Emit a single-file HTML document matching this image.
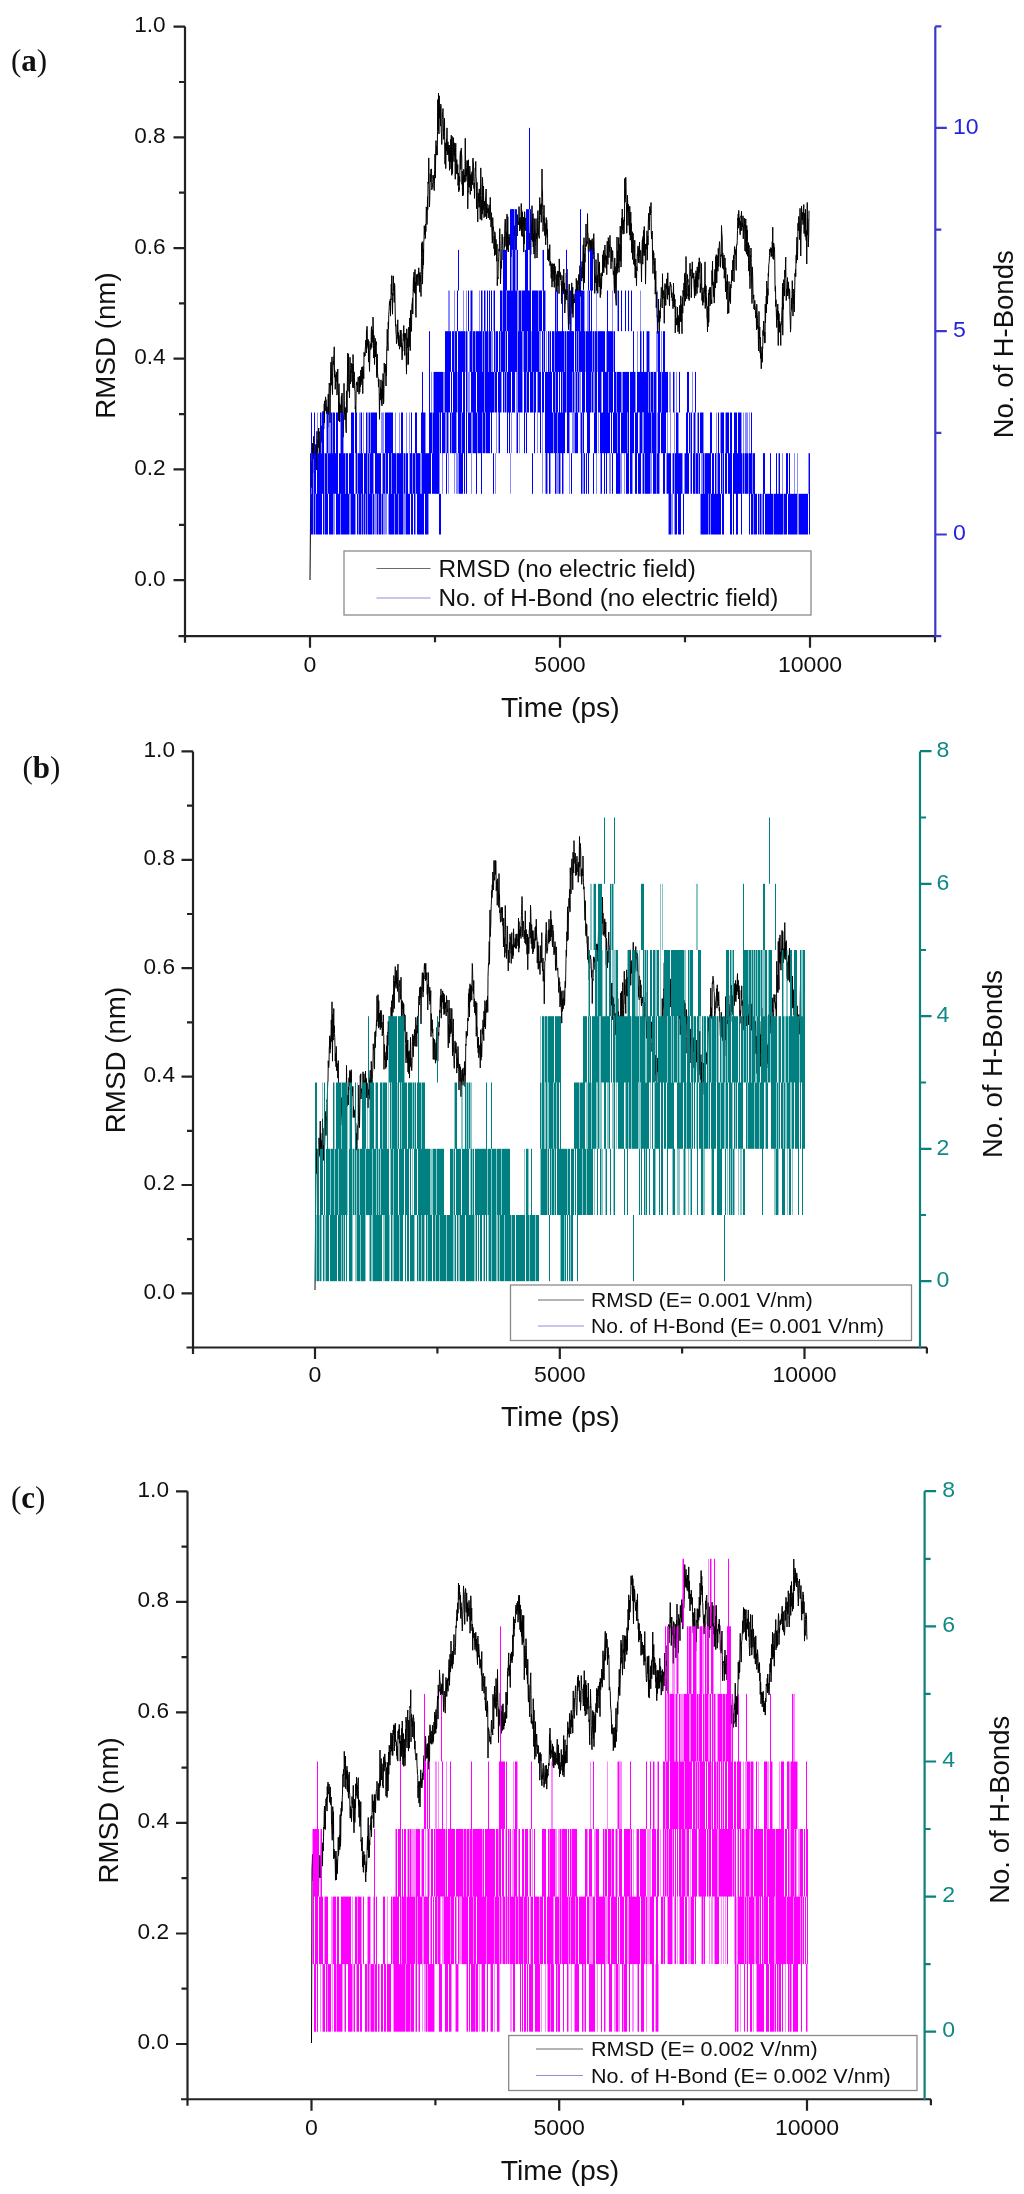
<!DOCTYPE html><html><head><meta charset="utf-8"><style>html,body{margin:0;padding:0;background:#fff;}svg{display:block;filter:blur(0.35px)}</style></head><body>
<svg width="1024" height="2194" viewBox="0 0 1024 2194">
<rect width="1024" height="2194" fill="#fff"/>
<path d="M310 580L311.00 462.6L311.25 472.0L311.50 487.5L311.75 458.1L312.00 448.0L312.25 453.5L312.50 451.2L312.75 443.2L313.00 447.4L313.25 458.8L313.50 442.7L313.75 436.3L314.00 451.1L314.25 472.9L314.50 463.8L314.75 448.5L315.00 445.0L315.25 454.1L315.50 469.0L315.75 455.9L316.00 444.2L316.25 457.1L316.50 470.0L316.75 443.0L317.00 431.3L317.25 452.9L317.50 447.4L317.75 439.8L318.00 442.9L318.25 447.7L318.50 429.0L318.75 428.0L319.00 444.2L319.25 456.5L319.50 449.9L319.75 431.7L320.00 433.3L320.25 431.7L320.50 444.0L320.75 437.4L321.00 430.1L321.25 425.9L321.50 440.0L321.75 437.5L322.00 442.4L322.25 437.6L322.50 444.9L322.75 425.5L323.00 411.5L323.25 411.2L323.50 425.6L323.75 429.1L324.00 423.1L324.25 403.7L324.50 422.9L324.75 400.8L325.00 408.0L325.25 410.8L325.50 396.8L325.75 399.1L326.00 400.2L326.25 400.0L326.50 413.7L326.75 413.5L327.00 406.7L327.25 409.9L327.50 414.3L327.75 427.1L328.00 403.3L328.25 394.2L328.50 407.9L328.75 414.6L329.00 391.1L329.25 383.0L329.50 385.9L329.75 386.3L330.00 422.8L330.25 398.7L330.50 381.7L330.75 367.1L331.00 362.1L331.25 377.3L331.50 385.2L331.75 368.6L332.00 356.9L332.25 387.7L332.50 394.6L332.75 372.4L333.00 367.7L333.25 361.0L333.50 364.6L333.75 355.7L334.00 355.6L334.25 346.8L334.50 377.3L334.75 370.4L335.00 372.9L335.25 389.3L335.50 381.3L335.75 374.6L336.00 382.1L336.25 378.8L336.50 374.9L336.75 371.9L337.00 395.1L337.25 385.1L337.50 381.1L337.75 369.0L338.00 389.7L338.25 391.6L338.50 393.9L338.75 420.5L339.00 383.7L339.25 421.2L339.50 402.9L339.75 422.0L340.00 410.3L340.25 404.7L340.50 405.1L340.75 408.7L341.00 413.1L341.25 398.4L341.50 395.8L341.75 416.4L342.00 393.0L342.25 408.6L342.50 422.3L342.75 414.7L343.00 437.4L343.25 436.5L343.50 421.8L343.75 414.8L344.00 383.4L344.25 400.7L344.50 411.9L344.75 415.9L345.00 419.9L345.25 407.5L345.50 412.5L345.75 421.5L346.00 430.4L346.25 432.8L346.50 390.9L346.75 391.1L347.00 412.6L347.25 388.1L347.50 372.0L347.75 353.0L348.00 390.7L348.25 371.7L348.50 354.3L348.75 369.7L349.00 391.4L349.25 390.6L349.50 398.0L349.75 373.8L350.00 357.3L350.25 367.5L350.50 383.8L350.75 370.8L351.00 381.8L351.25 363.2L351.50 363.9L351.75 368.3L352.00 372.8L352.25 364.1L352.50 382.1L352.75 387.7L353.00 354.5L353.25 362.4L353.50 366.7L353.75 387.9L354.00 371.9L354.25 372.0L354.50 377.5L354.75 389.6L355.00 391.4L355.25 409.1L355.50 405.7L355.75 418.7L356.00 400.4L356.25 386.5L356.50 382.5L356.75 384.7L357.00 381.8L357.25 382.7L357.50 383.6L357.75 392.1L358.00 377.7L358.25 376.9L358.50 379.0L358.75 380.7L359.00 394.2L359.25 379.1L359.50 376.1L359.75 392.2L360.00 380.8L360.25 377.2L360.50 386.6L360.75 370.2L361.00 384.8L361.25 381.2L361.50 381.7L361.75 367.1L362.00 374.6L362.25 377.9L362.50 367.1L362.75 393.6L363.00 366.4L363.25 370.3L363.50 370.2L363.75 378.7L364.00 352.3L364.25 352.8L364.50 356.5L364.75 353.1L365.00 356.0L365.25 348.7L365.50 345.7L365.75 340.2L366.00 342.2L366.25 353.0L366.50 329.8L366.75 349.0L367.00 326.3L367.25 338.3L367.50 344.8L367.75 339.5L368.00 347.1L368.25 339.6L368.50 362.1L368.75 341.9L369.00 341.5L369.25 360.6L369.50 371.4L369.75 358.8L370.00 346.1L370.25 345.2L370.50 343.6L370.75 349.6L371.00 346.6L371.25 330.7L371.50 326.6L371.75 347.6L372.00 338.0L372.25 342.4L372.50 329.9L372.75 338.5L373.00 317.1L373.25 324.8L373.50 339.4L373.75 358.0L374.00 335.4L374.25 343.7L374.50 364.5L374.75 348.7L375.00 348.5L375.25 338.4L375.50 356.9L375.75 341.9L376.00 344.9L376.25 341.6L376.50 370.3L376.75 377.6L377.00 376.9L377.25 354.1L377.50 372.1L377.75 376.3L378.00 378.0L378.25 378.1L378.50 387.1L378.75 379.4L379.00 379.3L379.25 397.6L379.50 419.3L379.75 399.3L380.00 393.5L380.25 394.7L380.50 387.5L380.75 399.9L381.00 379.8L381.25 397.5L381.50 404.1L381.75 389.1L382.00 405.9L382.25 391.1L382.50 381.4L382.75 398.3L383.00 373.5L383.25 377.6L383.50 404.0L383.75 402.1L384.00 384.3L384.25 363.0L384.50 372.8L384.75 369.4L385.00 368.8L385.25 371.4L385.50 364.3L385.75 371.3L386.00 386.0L386.25 366.2L386.50 375.9L386.75 348.2L387.00 345.6L387.25 329.2L387.50 343.1L387.75 342.1L388.00 350.8L388.25 321.9L388.50 328.7L388.75 314.5L389.00 311.5L389.25 306.5L389.50 301.5L389.75 305.4L390.00 302.9L390.25 299.2L390.50 316.1L390.75 300.3L391.00 295.8L391.25 284.1L391.50 294.3L391.75 275.6L392.00 299.9L392.25 298.0L392.50 314.2L392.75 293.1L393.00 295.6L393.25 275.9L393.50 282.0L393.75 290.7L394.00 287.6L394.25 302.4L394.50 283.3L394.75 285.3L395.00 300.6L395.25 315.1L395.50 326.1L395.75 324.9L396.00 333.0L396.25 334.7L396.50 343.8L396.75 342.9L397.00 341.4L397.25 324.2L397.50 335.7L397.75 319.8L398.00 338.9L398.25 332.4L398.50 343.0L398.75 345.8L399.00 335.4L399.25 342.9L399.50 349.2L399.75 347.2L400.00 339.0L400.25 330.0L400.50 331.9L400.75 346.8L401.00 330.1L401.25 336.5L401.50 347.2L401.75 343.0L402.00 359.8L402.25 358.3L402.50 345.9L402.75 351.1L403.00 339.1L403.25 333.8L403.50 336.6L403.75 325.5L404.00 341.2L404.25 333.0L404.50 338.0L404.75 355.5L405.00 338.3L405.25 339.2L405.50 333.4L405.75 337.2L406.00 338.1L406.25 360.7L406.50 374.1L406.75 328.8L407.00 334.1L407.25 345.0L407.50 347.8L407.75 338.2L408.00 364.8L408.25 352.8L408.50 363.8L408.75 327.2L409.00 346.8L409.25 346.6L409.50 337.9L409.75 318.0L410.00 337.1L410.25 350.6L410.50 312.5L410.75 310.2L411.00 331.7L411.25 329.1L411.50 330.9L411.75 308.7L412.00 303.3L412.25 303.2L412.50 297.9L412.75 314.0L413.00 296.6L413.25 283.7L413.50 276.9L413.75 291.8L414.00 272.1L414.25 278.6L414.50 293.2L414.75 292.9L415.00 269.4L415.25 293.1L415.50 282.3L415.75 311.8L416.00 317.4L416.25 294.1L416.50 274.6L416.75 279.8L417.00 284.6L417.25 277.2L417.50 275.9L417.75 273.9L418.00 285.7L418.25 281.1L418.50 270.5L418.75 267.8L419.00 272.6L419.25 277.5L419.50 273.4L419.75 292.2L420.00 272.3L420.25 281.5L420.50 275.3L420.75 281.5L421.00 296.5L421.25 274.7L421.50 257.4L421.75 243.3L422.00 252.7L422.25 241.7L422.50 284.1L422.75 269.6L423.00 268.2L423.25 249.0L423.50 264.8L423.75 241.3L424.00 240.0L424.25 225.8L424.50 228.7L424.75 234.6L425.00 225.9L425.25 238.6L425.50 224.0L425.75 231.8L426.00 230.6L426.25 206.9L426.50 208.0L426.75 219.3L427.00 224.5L427.25 218.1L427.50 196.7L427.75 209.7L428.00 181.9L428.25 183.2L428.50 183.8L428.75 157.9L429.00 186.0L429.25 195.7L429.50 207.0L429.75 198.4L430.00 186.8L430.25 173.7L430.50 182.0L430.75 174.9L431.00 169.0L431.25 172.6L431.50 168.9L431.75 189.9L432.00 188.8L432.25 188.0L432.50 184.9L432.75 182.5L433.00 175.2L433.25 178.4L433.50 175.6L433.75 184.3L434.00 189.2L434.25 190.6L434.50 176.7L434.75 169.6L435.00 154.1L435.25 178.1L435.50 165.3L435.75 154.0L436.00 140.6L436.25 155.1L436.50 145.9L436.75 148.2L437.00 150.0L437.25 155.1L437.50 131.3L437.75 99.6L438.00 123.7L438.25 129.3L438.50 93.2L438.75 133.3L439.00 134.0L439.25 95.8L439.50 118.3L439.75 114.9L440.00 106.6L440.25 110.1L440.50 126.1L440.75 104.1L441.00 105.8L441.25 132.6L441.50 133.0L441.75 144.5L442.00 134.7L442.25 119.7L442.50 114.1L442.75 111.5L443.00 108.5L443.25 119.0L443.50 136.3L443.75 139.4L444.00 129.3L444.25 130.2L444.50 118.3L444.75 142.0L445.00 164.2L445.25 142.8L445.50 151.6L445.75 168.6L446.00 152.3L446.25 143.9L446.50 138.9L446.75 151.2L447.00 127.9L447.25 154.9L447.50 143.2L447.75 144.7L448.00 141.8L448.25 154.5L448.50 145.3L448.75 150.9L449.00 161.3L449.25 145.0L449.50 170.4L449.75 152.1L450.00 148.2L450.25 162.1L450.50 155.6L450.75 139.4L451.00 168.9L451.25 135.2L451.50 152.3L451.75 175.3L452.00 140.6L452.25 136.5L452.50 173.5L452.75 156.2L453.00 155.5L453.25 146.7L453.50 137.7L453.75 156.6L454.00 161.7L454.25 142.8L454.50 155.5L454.75 149.4L455.00 153.4L455.25 179.3L455.50 152.6L455.75 143.2L456.00 160.4L456.25 165.3L456.50 173.7L456.75 159.6L457.00 163.9L457.25 174.2L457.50 172.8L457.75 164.6L458.00 185.5L458.25 181.7L458.50 173.0L458.75 191.8L459.00 187.4L459.25 190.1L459.50 176.5L459.75 182.0L460.00 158.0L460.25 153.3L460.50 150.8L460.75 169.4L461.00 161.9L461.25 148.1L461.50 155.3L461.75 155.2L462.00 184.4L462.25 171.1L462.50 196.0L462.75 182.9L463.00 176.9L463.25 195.4L463.50 181.2L463.75 169.3L464.00 178.2L464.25 182.0L464.50 175.0L464.75 182.3L465.00 169.6L465.25 138.3L465.50 161.6L465.75 181.4L466.00 180.8L466.25 168.6L466.50 176.2L466.75 167.6L467.00 160.5L467.25 172.4L467.50 160.8L467.75 208.8L468.00 191.3L468.25 192.3L468.50 159.8L468.75 186.3L469.00 171.9L469.25 187.4L469.50 184.8L469.75 166.0L470.00 171.3L470.25 194.5L470.50 176.4L470.75 184.4L471.00 174.1L471.25 181.1L471.50 191.0L471.75 174.6L472.00 171.7L472.25 184.9L472.50 184.0L472.75 161.0L473.00 158.1L473.25 161.9L473.50 163.9L473.75 181.7L474.00 188.6L474.25 183.0L474.50 198.4L474.75 186.7L475.00 176.6L475.25 168.2L475.50 171.0L475.75 161.4L476.00 178.3L476.25 178.3L476.50 208.6L476.75 203.1L477.00 182.3L477.25 204.5L477.50 209.3L477.75 221.9L478.00 199.3L478.25 192.9L478.50 201.4L478.75 196.8L479.00 207.3L479.25 188.9L479.50 198.0L479.75 207.1L480.00 204.9L480.25 219.3L480.50 195.2L480.75 167.9L481.00 178.4L481.25 195.6L481.50 206.1L481.75 220.3L482.00 200.1L482.25 214.1L482.50 177.4L482.75 186.3L483.00 210.0L483.25 197.1L483.50 186.1L483.75 206.2L484.00 217.6L484.25 216.2L484.50 201.2L484.75 204.8L485.00 203.6L485.25 216.6L485.50 197.3L485.75 196.1L486.00 189.0L486.25 191.4L486.50 218.8L486.75 213.9L487.00 203.9L487.25 210.9L487.50 212.8L487.75 211.6L488.00 208.2L488.25 217.9L488.50 209.1L488.75 210.1L489.00 205.3L489.25 204.8L489.50 214.9L489.75 219.7L490.00 217.4L490.25 197.4L490.50 212.6L490.75 214.0L491.00 227.1L491.25 216.9L491.50 212.7L491.75 226.4L492.00 233.8L492.25 243.2L492.50 241.0L492.75 217.6L493.00 230.3L493.25 226.8L493.50 229.5L493.75 231.0L494.00 248.7L494.25 236.4L494.50 255.5L494.75 231.8L495.00 232.9L495.25 235.2L495.50 250.3L495.75 254.7L496.00 239.4L496.25 250.3L496.50 256.6L496.75 261.3L497.00 244.1L497.25 285.7L497.50 277.1L497.75 276.8L498.00 279.1L498.25 262.1L498.50 261.9L498.75 256.2L499.00 248.9L499.25 251.2L499.50 239.2L499.75 228.6L500.00 240.5L500.25 257.7L500.50 283.8L500.75 273.6L501.00 261.0L501.25 261.8L501.50 268.4L501.75 248.4L502.00 234.1L502.25 234.7L502.50 243.0L502.75 245.5L503.00 260.0L503.25 258.5L503.50 250.3L503.75 264.4L504.00 256.7L504.25 236.9L504.50 247.4L504.75 228.8L505.00 220.5L505.25 219.0L505.50 221.8L505.75 243.4L506.00 246.4L506.25 231.7L506.50 243.1L506.75 250.3L507.00 214.1L507.25 249.4L507.50 239.3L507.75 216.7L508.00 239.7L508.25 252.0L508.50 247.6L508.75 236.8L509.00 234.2L509.25 245.1L509.50 242.9L509.75 237.4L510.00 244.5L510.25 234.1L510.50 246.2L510.75 251.5L511.00 256.8L511.25 230.6L511.50 239.1L511.75 234.6L512.00 231.9L512.25 245.6L512.50 230.1L512.75 209.3L513.00 234.4L513.25 219.8L513.50 234.8L513.75 243.6L514.00 253.6L514.25 240.5L514.50 225.7L514.75 234.1L515.00 235.7L515.25 233.3L515.50 226.9L515.75 225.7L516.00 210.2L516.25 225.5L516.50 219.1L516.75 226.1L517.00 232.7L517.25 235.9L517.50 214.7L517.75 219.7L518.00 221.2L518.25 223.6L518.50 222.5L518.75 225.0L519.00 206.6L519.25 216.5L519.50 222.3L519.75 231.0L520.00 217.4L520.25 217.5L520.50 224.4L520.75 229.3L521.00 219.5L521.25 203.5L521.50 235.4L521.75 210.4L522.00 224.0L522.25 236.6L522.50 212.1L522.75 226.8L523.00 223.0L523.25 219.1L523.50 217.2L523.75 252.1L524.00 234.5L524.25 244.0L524.50 211.7L524.75 212.6L525.00 230.3L525.25 222.4L525.50 218.5L525.75 217.9L526.00 230.9L526.25 226.9L526.50 229.1L526.75 229.3L527.00 264.0L527.25 230.4L527.50 213.0L527.75 238.6L528.00 230.5L528.25 229.6L528.50 239.1L528.75 237.9L529.00 249.2L529.25 238.6L529.50 233.3L529.75 241.5L530.00 250.0L530.25 230.3L530.50 221.9L530.75 254.6L531.00 225.6L531.25 240.0L531.50 228.1L531.75 217.9L532.00 205.7L532.25 232.3L532.50 217.0L532.75 241.6L533.00 213.6L533.25 247.0L533.50 233.7L533.75 238.2L534.00 254.1L534.25 218.6L534.50 241.0L534.75 231.5L535.00 258.3L535.25 246.5L535.50 242.6L535.75 231.0L536.00 218.5L536.25 239.0L536.50 233.3L536.75 237.5L537.00 258.0L537.25 245.1L537.50 227.9L537.75 211.6L538.00 210.5L538.25 220.7L538.50 235.4L538.75 236.2L539.00 236.2L539.25 238.4L539.50 215.9L539.75 197.5L540.00 208.3L540.25 214.7L540.50 204.6L540.75 208.8L541.00 207.6L541.25 222.4L541.50 203.4L541.75 206.9L542.00 169.0L542.25 196.5L542.50 190.8L542.75 210.5L543.00 231.5L543.25 226.6L543.50 219.0L543.75 214.5L544.00 205.2L544.25 214.5L544.50 220.1L544.75 235.5L545.00 223.2L545.25 223.5L545.50 241.8L545.75 244.8L546.00 236.3L546.25 217.6L546.50 234.4L546.75 219.9L547.00 227.0L547.25 237.4L547.50 229.4L547.75 259.9L548.00 255.4L548.25 249.5L548.50 261.2L548.75 259.1L549.00 254.2L549.25 248.5L549.50 260.2L549.75 244.6L550.00 265.7L550.25 260.9L550.50 264.7L550.75 262.2L551.00 272.5L551.25 278.3L551.50 272.4L551.75 264.1L552.00 287.1L552.25 263.5L552.50 271.7L552.75 270.8L553.00 281.5L553.25 270.5L553.50 275.0L553.75 263.8L554.00 266.6L554.25 287.4L554.50 263.8L554.75 280.2L555.00 266.2L555.25 270.1L555.50 273.1L555.75 273.2L556.00 292.1L556.25 282.3L556.50 285.4L556.75 274.6L557.00 291.3L557.25 272.3L557.50 271.1L557.75 271.3L558.00 286.1L558.25 279.0L558.50 275.3L558.75 271.1L559.00 293.6L559.25 258.9L559.50 269.7L559.75 272.8L560.00 277.3L560.25 272.4L560.50 276.5L560.75 279.9L561.00 274.9L561.25 285.2L561.50 284.2L561.75 303.6L562.00 280.9L562.25 292.7L562.50 292.8L562.75 294.3L563.00 275.5L563.25 293.7L563.50 290.0L563.75 269.0L564.00 291.9L564.25 289.4L564.50 282.9L564.75 313.0L565.00 305.2L565.25 304.6L565.50 289.5L565.75 296.9L566.00 298.2L566.25 273.0L566.50 289.4L566.75 300.1L567.00 269.1L567.25 288.5L567.50 293.4L567.75 295.5L568.00 309.2L568.25 319.0L568.50 329.7L568.75 308.1L569.00 289.6L569.25 284.0L569.50 316.5L569.75 305.2L570.00 324.1L570.25 305.5L570.50 304.5L570.75 332.4L571.00 320.1L571.25 299.4L571.50 306.4L571.75 282.9L572.00 309.5L572.25 313.7L572.50 291.0L572.75 287.2L573.00 317.5L573.25 305.6L573.50 304.2L573.75 295.4L574.00 294.1L574.25 302.9L574.50 299.2L574.75 300.9L575.00 302.3L575.25 294.0L575.50 289.6L575.75 307.0L576.00 305.7L576.25 278.4L576.50 284.4L576.75 301.8L577.00 282.4L577.25 280.6L577.50 290.2L577.75 289.9L578.00 313.1L578.25 285.6L578.50 281.5L578.75 274.5L579.00 277.5L579.25 294.5L579.50 280.4L579.75 267.7L580.00 265.5L580.25 296.4L580.50 290.6L580.75 272.1L581.00 267.3L581.25 272.4L581.50 279.7L581.75 281.1L582.00 261.5L582.25 276.5L582.50 278.1L582.75 263.5L583.00 257.5L583.25 244.8L583.50 289.6L583.75 253.1L584.00 237.7L584.25 266.9L584.50 282.7L584.75 253.6L585.00 262.2L585.25 253.0L585.50 247.5L585.75 243.4L586.00 224.0L586.25 246.3L586.50 244.0L586.75 241.2L587.00 244.1L587.25 243.2L587.50 213.7L587.75 234.0L588.00 233.7L588.25 249.5L588.50 253.8L588.75 247.0L589.00 237.9L589.25 238.3L589.50 244.3L589.75 240.3L590.00 251.6L590.25 244.2L590.50 253.2L590.75 239.9L591.00 254.2L591.25 240.8L591.50 247.0L591.75 263.8L592.00 240.6L592.25 238.6L592.50 270.5L592.75 254.7L593.00 258.9L593.25 241.2L593.50 254.3L593.75 233.7L594.00 246.1L594.25 251.5L594.50 277.0L594.75 293.4L595.00 277.5L595.25 282.9L595.50 275.7L595.75 273.4L596.00 259.6L596.25 271.7L596.50 280.8L596.75 290.7L597.00 282.1L597.25 278.4L597.50 275.0L597.75 293.3L598.00 253.2L598.25 262.3L598.50 268.0L598.75 282.6L599.00 281.8L599.25 287.0L599.50 261.9L599.75 287.0L600.00 278.3L600.25 297.6L600.50 282.9L600.75 294.4L601.00 273.4L601.25 287.8L601.50 288.6L601.75 276.9L602.00 272.4L602.25 272.4L602.50 275.9L602.75 254.9L603.00 270.7L603.25 253.5L603.50 250.5L603.75 272.8L604.00 260.9L604.25 256.0L604.50 267.1L604.75 246.3L605.00 245.0L605.25 259.9L605.50 254.8L605.75 261.8L606.00 268.2L606.25 257.7L606.50 255.9L606.75 274.7L607.00 249.0L607.25 241.2L607.50 253.2L607.75 263.4L608.00 264.4L608.25 237.6L608.50 239.7L608.75 248.7L609.00 257.7L609.25 245.1L609.50 251.6L609.75 239.9L610.00 235.3L610.25 245.2L610.50 246.6L610.75 248.8L611.00 268.8L611.25 249.4L611.50 247.5L611.75 260.9L612.00 261.5L612.25 258.6L612.50 250.5L612.75 251.2L613.00 265.9L613.25 274.2L613.50 275.0L613.75 270.9L614.00 279.7L614.25 289.5L614.50 293.2L614.75 257.9L615.00 287.5L615.25 266.7L615.50 280.8L615.75 299.3L616.00 300.9L616.25 305.4L616.50 263.7L616.75 274.4L617.00 237.0L617.25 268.4L617.50 272.7L617.75 250.9L618.00 256.6L618.25 267.8L618.50 244.0L618.75 237.5L619.00 272.3L619.25 261.4L619.50 261.1L619.75 244.1L620.00 251.6L620.25 226.1L620.50 261.4L620.75 246.0L621.00 267.1L621.25 260.1L621.50 233.2L621.75 218.0L622.00 228.1L622.25 209.0L622.50 229.6L622.75 221.2L623.00 234.2L623.25 219.8L623.50 225.1L623.75 222.3L624.00 233.8L624.25 217.1L624.50 221.5L624.75 178.5L625.00 202.2L625.25 191.1L625.50 197.8L625.75 177.2L626.00 187.5L626.25 202.7L626.50 204.1L626.75 233.2L627.00 205.4L627.25 211.6L627.50 195.2L627.75 206.8L628.00 225.4L628.25 215.2L628.50 204.4L628.75 209.1L629.00 217.3L629.25 224.3L629.50 235.0L629.75 206.2L630.00 225.4L630.25 240.2L630.50 237.6L630.75 212.0L631.00 231.8L631.25 223.4L631.50 243.4L631.75 252.7L632.00 235.1L632.25 231.7L632.50 259.4L632.75 237.3L633.00 233.2L633.25 236.1L633.50 243.8L633.75 264.3L634.00 259.1L634.25 258.4L634.50 265.5L634.75 240.2L635.00 275.6L635.25 278.0L635.50 270.0L635.75 259.0L636.00 277.7L636.25 273.5L636.50 285.8L636.75 266.6L637.00 270.9L637.25 254.3L637.50 255.4L637.75 251.0L638.00 245.9L638.25 259.0L638.50 262.6L638.75 248.9L639.00 247.5L639.25 256.2L639.50 242.1L639.75 258.8L640.00 263.4L640.25 253.9L640.50 250.8L640.75 250.3L641.00 261.1L641.25 265.6L641.50 282.0L641.75 259.1L642.00 251.5L642.25 240.6L642.50 239.4L642.75 264.2L643.00 236.5L643.25 252.6L643.50 230.5L643.75 248.0L644.00 255.8L644.25 226.5L644.50 241.2L644.75 255.2L645.00 253.4L645.25 244.0L645.50 284.1L645.75 271.7L646.00 245.3L646.25 249.2L646.50 243.0L646.75 247.0L647.00 230.8L647.25 260.3L647.50 251.1L647.75 235.9L648.00 245.0L648.25 224.7L648.50 216.9L648.75 213.2L649.00 227.5L649.25 230.0L649.50 222.5L649.75 206.5L650.00 208.3L650.25 214.8L650.50 209.1L650.75 212.8L651.00 202.5L651.25 230.9L651.50 237.7L651.75 239.1L652.00 232.6L652.25 231.1L652.50 256.0L652.75 260.5L653.00 273.6L653.25 250.5L653.50 260.1L653.75 252.7L654.00 263.5L654.25 265.0L654.50 261.8L654.75 279.4L655.00 258.2L655.25 294.2L655.50 282.7L655.75 270.9L656.00 285.3L656.25 307.7L656.50 300.9L656.75 292.1L657.00 316.9L657.25 318.2L657.50 333.4L657.75 315.4L658.00 318.5L658.25 322.2L658.50 299.0L658.75 314.6L659.00 316.5L659.25 333.5L659.50 310.7L659.75 321.6L660.00 311.5L660.25 318.2L660.50 307.4L660.75 298.4L661.00 297.8L661.25 287.4L661.50 288.6L661.75 291.0L662.00 306.5L662.25 308.0L662.50 273.7L662.75 296.3L663.00 298.6L663.25 290.4L663.50 294.3L663.75 295.6L664.00 300.9L664.25 323.3L664.50 299.8L664.75 288.9L665.00 283.5L665.25 300.6L665.50 294.7L665.75 305.4L666.00 284.8L666.25 288.5L666.50 287.6L666.75 278.8L667.00 294.6L667.25 297.4L667.50 299.3L667.75 272.8L668.00 291.4L668.25 288.2L668.50 294.8L668.75 294.0L669.00 286.1L669.25 299.6L669.50 305.9L669.75 291.3L670.00 287.6L670.25 282.1L670.50 286.2L670.75 284.5L671.00 284.5L671.25 288.3L671.50 295.2L671.75 297.5L672.00 292.6L672.25 300.8L672.50 299.1L672.75 297.8L673.00 308.7L673.25 295.8L673.50 283.0L673.75 303.6L674.00 306.8L674.25 294.5L674.50 307.0L674.75 304.1L675.00 299.1L675.25 332.9L675.50 318.3L675.75 306.3L676.00 322.8L676.25 321.0L676.50 325.1L676.75 318.1L677.00 320.6L677.25 325.0L677.50 307.1L677.75 323.1L678.00 331.8L678.25 315.5L678.50 321.6L678.75 327.2L679.00 317.6L679.25 333.9L679.50 316.8L679.75 305.4L680.00 313.3L680.25 309.0L680.50 321.6L680.75 295.8L681.00 315.6L681.25 321.8L681.50 304.7L681.75 317.6L682.00 333.7L682.25 297.6L682.50 297.5L682.75 313.2L683.00 290.3L683.25 292.7L683.50 294.7L683.75 296.5L684.00 283.0L684.25 305.7L684.50 274.1L684.75 273.7L685.00 273.8L685.25 272.8L685.50 301.2L685.75 291.1L686.00 256.5L686.25 279.2L686.50 298.6L686.75 293.7L687.00 296.1L687.25 285.8L687.50 274.5L687.75 282.1L688.00 279.3L688.25 299.1L688.50 286.9L688.75 285.1L689.00 300.3L689.25 300.6L689.50 292.2L689.75 280.1L690.00 263.2L690.25 276.0L690.50 275.7L690.75 273.3L691.00 269.0L691.25 297.7L691.50 290.3L691.75 276.1L692.00 278.4L692.25 261.8L692.50 271.2L692.75 277.3L693.00 274.7L693.25 274.8L693.50 278.3L693.75 272.9L694.00 286.0L694.25 290.7L694.50 298.1L694.75 279.4L695.00 290.3L695.25 276.6L695.50 278.3L695.75 295.6L696.00 270.7L696.25 287.1L696.50 281.2L696.75 273.3L697.00 293.6L697.25 266.9L697.50 281.5L697.75 286.2L698.00 287.4L698.25 267.8L698.50 262.5L698.75 279.4L699.00 273.9L699.25 257.8L699.50 272.5L699.75 269.7L700.00 261.6L700.25 292.7L700.50 285.7L700.75 283.8L701.00 289.3L701.25 279.2L701.50 263.5L701.75 288.1L702.00 300.6L702.25 293.6L702.50 292.0L702.75 305.3L703.00 287.8L703.25 294.8L703.50 299.9L703.75 302.4L704.00 298.1L704.25 294.5L704.50 286.2L704.75 292.1L705.00 261.9L705.25 308.5L705.50 284.3L705.75 302.2L706.00 285.8L706.25 305.6L706.50 297.4L706.75 305.5L707.00 318.6L707.25 318.6L707.50 331.8L707.75 306.4L708.00 326.8L708.25 317.6L708.50 293.0L708.75 322.3L709.00 290.0L709.25 289.6L709.50 294.7L709.75 287.4L710.00 305.8L710.25 304.3L710.50 287.3L710.75 297.0L711.00 301.7L711.25 303.7L711.50 299.8L711.75 303.7L712.00 270.5L712.25 285.3L712.50 261.1L712.75 277.7L713.00 283.1L713.25 286.5L713.50 296.6L713.75 282.2L714.00 298.4L714.25 303.1L714.50 299.6L714.75 273.0L715.00 269.2L715.25 288.1L715.50 285.8L715.75 256.6L716.00 278.8L716.25 254.6L716.50 263.7L716.75 283.1L717.00 266.3L717.25 255.5L717.50 261.7L717.75 271.2L718.00 271.3L718.25 248.4L718.50 254.6L718.75 266.5L719.00 249.6L719.25 245.4L719.50 241.6L719.75 244.8L720.00 254.4L720.25 257.7L720.50 267.3L720.75 259.8L721.00 254.3L721.25 256.5L721.50 225.5L721.75 232.6L722.00 234.9L722.25 239.1L722.50 268.2L722.75 252.9L723.00 262.5L723.25 265.6L723.50 269.3L723.75 259.7L724.00 255.0L724.25 278.3L724.50 273.9L724.75 269.4L725.00 258.0L725.25 274.8L725.50 291.9L725.75 267.7L726.00 282.7L726.25 281.8L726.50 299.2L726.75 295.1L727.00 281.2L727.25 289.5L727.50 274.7L727.75 313.9L728.00 309.5L728.25 303.3L728.50 301.3L728.75 313.0L729.00 281.5L729.25 301.5L729.50 291.7L729.75 295.0L730.00 300.1L730.25 286.9L730.50 303.6L730.75 284.4L731.00 288.0L731.25 281.7L731.50 282.6L731.75 270.1L732.00 272.0L732.25 277.5L732.50 280.7L732.75 260.3L733.00 264.2L733.25 270.6L733.50 255.4L733.75 257.9L734.00 281.9L734.25 259.6L734.50 246.5L734.75 246.6L735.00 252.1L735.25 254.6L735.50 254.7L735.75 249.5L736.00 268.2L736.25 270.4L736.50 245.1L736.75 244.7L737.00 245.1L737.25 240.6L737.50 230.7L737.75 218.2L738.00 220.3L738.25 213.9L738.50 228.1L738.75 210.4L739.00 225.1L739.25 219.8L739.50 217.7L739.75 227.9L740.00 233.8L740.25 234.8L740.50 221.4L740.75 230.8L741.00 215.8L741.25 218.0L741.50 211.3L741.75 230.5L742.00 225.7L742.25 222.8L742.50 227.0L742.75 222.9L743.00 215.8L743.25 238.8L743.50 228.2L743.75 225.5L744.00 225.4L744.25 218.0L744.50 223.4L744.75 235.7L745.00 250.9L745.25 233.0L745.50 227.2L745.75 218.9L746.00 252.1L746.25 230.7L746.50 254.2L746.75 225.4L747.00 240.1L747.25 229.9L747.50 248.9L747.75 256.2L748.00 249.5L748.25 256.4L748.50 242.7L748.75 271.1L749.00 245.2L749.25 249.8L749.50 276.5L749.75 277.2L750.00 288.7L750.25 277.9L750.50 255.1L750.75 257.0L751.00 248.0L751.25 262.3L751.50 278.2L751.75 288.5L752.00 303.5L752.25 266.9L752.50 270.1L752.75 279.2L753.00 293.5L753.25 298.7L753.50 297.1L753.75 294.9L754.00 309.0L754.25 304.7L754.50 309.7L754.75 300.3L755.00 305.5L755.25 306.5L755.50 314.5L755.75 317.9L756.00 311.8L756.25 311.6L756.50 329.9L756.75 304.2L757.00 312.5L757.25 314.4L757.50 320.9L757.75 328.6L758.00 325.0L758.25 330.7L758.50 350.9L758.75 334.1L759.00 311.4L759.25 337.3L759.50 338.6L759.75 327.0L760.00 352.6L760.25 337.3L760.50 358.4L760.75 351.4L761.00 354.8L761.25 368.8L761.50 353.6L761.75 358.5L762.00 346.7L762.25 362.3L762.50 349.0L762.75 348.4L763.00 330.4L763.25 335.7L763.50 324.0L763.75 321.0L764.00 322.8L764.25 337.3L764.50 343.1L764.75 332.1L765.00 342.9L765.25 304.1L765.50 322.6L765.75 307.7L766.00 308.7L766.25 296.1L766.50 312.8L766.75 281.0L767.00 285.8L767.25 303.4L767.50 304.1L767.75 288.6L768.00 295.4L768.25 273.3L768.50 276.5L768.75 264.8L769.00 263.4L769.25 261.4L769.50 255.6L769.75 249.1L770.00 252.2L770.25 252.0L770.50 251.9L770.75 247.5L771.00 256.6L771.25 256.7L771.50 248.3L771.75 249.1L772.00 255.9L772.25 241.6L772.50 247.5L772.75 227.2L773.00 258.6L773.25 243.3L773.50 259.4L773.75 243.4L774.00 246.4L774.25 249.5L774.50 247.6L774.75 260.1L775.00 283.9L775.25 291.3L775.50 286.2L775.75 306.6L776.00 299.7L776.25 310.7L776.50 318.4L776.75 327.5L777.00 309.6L777.25 320.0L777.50 319.6L777.75 304.0L778.00 319.1L778.25 345.5L778.50 311.0L778.75 331.4L779.00 313.4L779.25 332.4L779.50 329.5L779.75 321.4L780.00 327.4L780.25 323.8L780.50 333.7L780.75 345.4L781.00 326.1L781.25 325.4L781.50 320.7L781.75 317.0L782.00 307.9L782.25 306.9L782.50 283.3L782.75 335.2L783.00 303.6L783.25 309.4L783.50 286.4L783.75 279.6L784.00 283.4L784.25 294.1L784.50 296.1L784.75 270.1L785.00 275.0L785.25 277.4L785.50 263.8L785.75 257.1L786.00 289.8L786.25 300.5L786.50 288.9L786.75 296.0L787.00 290.2L787.25 281.7L787.50 277.5L787.75 296.0L788.00 288.4L788.25 292.5L788.50 281.9L788.75 293.0L789.00 296.0L789.25 299.0L789.50 288.8L789.75 290.9L790.00 315.2L790.25 320.9L790.50 332.1L790.75 327.9L791.00 311.9L791.25 311.7L791.50 298.2L791.75 309.4L792.00 294.5L792.25 280.7L792.50 287.6L792.75 304.1L793.00 316.1L793.25 294.9L793.50 303.7L793.75 289.0L794.00 303.4L794.25 311.9L794.50 300.5L794.75 286.9L795.00 273.4L795.25 276.4L795.50 269.3L795.75 276.6L796.00 257.2L796.25 254.8L796.50 263.1L796.75 241.1L797.00 237.1L797.25 247.6L797.50 259.9L797.75 244.7L798.00 223.2L798.25 230.9L798.50 220.6L798.75 216.4L799.00 218.0L799.25 223.0L799.50 239.6L799.75 231.0L800.00 208.4L800.25 218.1L800.50 234.8L800.75 256.0L801.00 236.5L801.25 229.9L801.50 206.2L801.75 209.9L802.00 213.6L802.25 220.1L802.50 214.9L802.75 212.3L803.00 224.6L803.25 216.7L803.50 216.5L803.75 204.6L804.00 233.6L804.25 233.4L804.50 213.2L804.75 219.9L805.00 230.5L805.25 236.6L805.50 209.3L805.75 228.6L806.00 238.8L806.25 240.6L806.50 230.7L806.75 264.0L807.00 230.9L807.25 202.5L807.50 234.9L807.75 218.9L808.00 228.6L808.25 247.0L808.50 242.4L808.75 232.4L809.00 210.7" stroke="#000" stroke-width="1.0" fill="none" stroke-linejoin="bevel"/>
<path d="M310.5 534.5V493.8M311.5 493.8V453.2M313.5 534.5V453.2M315.5 534.5V493.8M317.5 453.2V412.5M321.5 453.2V412.5M324.5 534.5V453.2M326.5 453.2V412.5M327.5 493.8V453.2M328.5 453.2V412.5M329.5 453.2V412.5M330.5 453.2V412.5M332.5 453.2V412.5M333.5 534.5V493.8M334.5 534.5V493.8M340.5 534.5V493.8M340.5 453.2V412.5M343.5 453.2V412.5M345.5 493.8V453.2M349.5 534.5V493.8M350.5 534.5V493.8M355.5 534.5V453.2M357.5 493.8V453.2M358.5 534.5V493.8M359.5 453.2V412.5M360.5 453.2V412.5M361.5 534.5V493.8M363.5 534.5V493.8M363.5 453.2V412.5M365.5 534.5V493.8M367.5 534.5V412.5M368.5 453.2V412.5M369.5 493.8V453.2M370.5 453.2V412.5M372.5 534.5V493.8M373.5 493.8V453.2M374.5 534.5V493.8M375.5 534.5V493.8M376.5 534.5V493.8M378.5 534.5V493.8M381.5 534.5V493.8M381.5 453.2V412.5M382.5 493.8V412.5M383.5 534.5V493.8M383.5 453.2V412.5M384.5 534.5V493.8M385.5 534.5V453.2M386.5 534.5V493.8M388.5 534.5V493.8M391.5 493.8V453.2M394.5 534.5V493.8M395.5 453.2V412.5M396.5 493.8V453.2M398.5 534.5V493.8M399.5 453.2V412.5M403.5 534.5V453.2M404.5 534.5V493.8M405.5 534.5V453.2M406.5 453.2V412.5M409.5 493.8V412.5M412.5 493.8V453.2M415.5 534.5V453.2M420.5 493.8V453.2M421.5 493.8V453.2M425.5 453.2V412.5M428.5 534.5V493.8M431.5 412.5V371.9M432.5 453.2V412.5M433.5 412.5V371.9M439.5 493.8V412.5M442.5 493.8V453.2M443.5 412.5V371.9M444.5 412.5V371.9M445.5 453.2V412.5M446.5 453.2V412.5M448.5 493.8V412.5M448.5 331.2V290.5M449.5 331.2V290.5M451.5 453.2V412.5M454.5 493.8V453.2M454.5 371.9V290.5M456.5 493.8V412.5M457.5 493.8V453.2M457.5 412.5V371.9M458.5 493.8V453.2M461.5 453.2V412.5M463.5 331.2V290.5M465.5 371.9V331.2M466.5 331.2V290.5M467.5 412.5V331.2M468.5 412.5V371.9M469.5 412.5V331.2M470.5 331.2V290.5M471.5 493.8V412.5M472.5 453.2V412.5M472.5 371.9V290.5M475.5 371.9V331.2M477.5 453.2V412.5M479.5 331.2V290.5M482.5 453.2V412.5M482.5 371.9V290.5M484.5 412.5V331.2M485.5 453.2V412.5M485.5 331.2V290.5M488.5 371.9V331.2M491.5 371.9V331.2M492.5 371.9V331.2M493.5 331.2V290.5M494.5 412.5V371.9M495.5 493.8V453.2M495.5 371.9V331.2M496.5 453.2V412.5M498.5 453.2V412.5M500.5 371.9V331.2M501.5 412.5V371.9M502.5 331.2V290.5M504.5 412.5V371.9M505.5 371.9V331.2M506.5 412.5V371.9M506.5 331.2V290.5M510.5 493.8V453.2M511.5 453.2V412.5M511.5 290.5V249.9M512.5 290.5V249.9M514.5 249.9V209.2M515.5 290.5V249.9M516.5 453.2V371.9M516.5 290.5V249.9M517.5 412.5V290.5M518.5 331.2V290.5M519.5 453.2V412.5M521.5 331.2V290.5M522.5 412.5V331.2M523.5 371.9V331.2M526.5 412.5V371.9M527.5 371.9V331.2M529.5 290.5V209.2M531.5 371.9V331.2M533.5 412.5V371.9M537.5 453.2V371.9M538.5 331.2V290.5M539.5 371.9V331.2M540.5 371.9V331.2M542.5 493.8V412.5M542.5 290.5V249.9M543.5 371.9V331.2M545.5 493.8V453.2M545.5 331.2V290.5M546.5 371.9V331.2M547.5 493.8V453.2M549.5 371.9V331.2M550.5 493.8V453.2M553.5 453.2V412.5M554.5 371.9V331.2M555.5 412.5V371.9M556.5 493.8V453.2M556.5 331.2V290.5M557.5 493.8V412.5M558.5 493.8V453.2M560.5 493.8V453.2M562.5 412.5V371.9M563.5 493.8V453.2M564.5 371.9V331.2M566.5 412.5V331.2M569.5 493.8V412.5M569.5 331.2V290.5M572.5 453.2V371.9M573.5 453.2V412.5M574.5 453.2V371.9M575.5 412.5V371.9M576.5 371.9V331.2M577.5 412.5V371.9M578.5 371.9V331.2M579.5 412.5V371.9M580.5 453.2V371.9M580.5 331.2V290.5M582.5 493.8V412.5M583.5 493.8V453.2M584.5 331.2V290.5M585.5 371.9V331.2M587.5 331.2V290.5M588.5 331.2V290.5M591.5 412.5V371.9M592.5 371.9V331.2M593.5 412.5V371.9M594.5 412.5V331.2M596.5 493.8V453.2M596.5 331.2V290.5M597.5 371.9V331.2M598.5 453.2V412.5M600.5 493.8V453.2M601.5 412.5V371.9M606.5 371.9V331.2M608.5 412.5V371.9M609.5 493.8V453.2M610.5 493.8V453.2M612.5 331.2V290.5M613.5 371.9V331.2M616.5 412.5V371.9M617.5 453.2V412.5M617.5 331.2V290.5M620.5 493.8V453.2M621.5 493.8V453.2M621.5 412.5V371.9M622.5 412.5V371.9M624.5 493.8V453.2M627.5 453.2V412.5M632.5 493.8V453.2M635.5 412.5V371.9M637.5 371.9V331.2M639.5 453.2V412.5M640.5 331.2V290.5M641.5 371.9V331.2M642.5 493.8V412.5M643.5 453.2V412.5M644.5 493.8V453.2M646.5 371.9V331.2M648.5 412.5V371.9M649.5 371.9V331.2M650.5 493.8V453.2M650.5 412.5V371.9M651.5 493.8V412.5M653.5 412.5V371.9M656.5 493.8V331.2M657.5 453.2V412.5M657.5 371.9V290.5M659.5 493.8V453.2M661.5 412.5V331.2M666.5 493.8V453.2M667.5 453.2V412.5M668.5 534.5V493.8M669.5 412.5V371.9M670.5 453.2V371.9M671.5 534.5V493.8M672.5 534.5V453.2M674.5 534.5V371.9M676.5 412.5V371.9M678.5 453.2V412.5M682.5 493.8V453.2M684.5 493.8V453.2M690.5 493.8V412.5M692.5 412.5V371.9M693.5 453.2V412.5M695.5 493.8V412.5M697.5 453.2V412.5M698.5 493.8V453.2M700.5 534.5V493.8M701.5 493.8V453.2M702.5 493.8V453.2M703.5 453.2V412.5M704.5 493.8V453.2M708.5 534.5V493.8M710.5 534.5V493.8M716.5 493.8V412.5M717.5 493.8V453.2M720.5 453.2V412.5M722.5 493.8V453.2M725.5 453.2V412.5M741.5 453.2V412.5M742.5 493.8V453.2M743.5 453.2V412.5M744.5 493.8V453.2M745.5 453.2V412.5M746.5 453.2V412.5M747.5 453.2V412.5M748.5 493.8V453.2M749.5 453.2V412.5M752.5 493.8V453.2M753.5 534.5V493.8M759.5 534.5V493.8M761.5 534.5V493.8M762.5 534.5V493.8M773.5 534.5V493.8M778.5 493.8V453.2M782.5 493.8V453.2M783.5 534.5V493.8M794.5 493.8V453.2M797.5 534.5V453.2M798.5 534.5V493.8M808.5 493.8V453.2" stroke="#0000ff" stroke-opacity="0.45" stroke-width="1" fill="none"/><path d="M310.5 493.8V453.2M311.5 534.5V493.8M311.5 453.2V412.5M312.5 534.5V453.2M314.5 534.5V412.5M315.5 493.8V453.2M316.5 534.5V493.8M317.5 534.5V453.2M318.5 534.5V453.2M319.5 534.5V453.2M320.5 534.5V412.5M321.5 534.5V453.2M322.5 493.8V412.5M323.5 534.5V412.5M325.5 534.5V453.2M326.5 534.5V453.2M327.5 534.5V493.8M327.5 453.2V412.5M328.5 493.8V453.2M329.5 534.5V453.2M330.5 534.5V453.2M331.5 534.5V412.5M332.5 534.5V453.2M333.5 493.8V412.5M334.5 493.8V412.5M335.5 493.8V453.2M336.5 534.5V412.5M337.5 534.5V412.5M338.5 534.5V493.8M339.5 534.5V453.2M340.5 493.8V453.2M341.5 534.5V412.5M342.5 534.5V412.5M343.5 534.5V453.2M344.5 534.5V453.2M345.5 534.5V493.8M346.5 534.5V453.2M347.5 534.5V453.2M348.5 534.5V493.8M349.5 493.8V453.2M350.5 493.8V453.2M351.5 534.5V412.5M352.5 534.5V412.5M353.5 534.5V412.5M354.5 534.5V493.8M355.5 453.2V412.5M356.5 493.8V412.5M357.5 534.5V493.8M358.5 493.8V453.2M359.5 534.5V453.2M360.5 534.5V453.2M361.5 493.8V412.5M362.5 534.5V453.2M364.5 534.5V453.2M365.5 493.8V453.2M366.5 534.5V412.5M368.5 534.5V453.2M369.5 534.5V493.8M369.5 453.2V412.5M370.5 534.5V453.2M371.5 534.5V412.5M372.5 493.8V412.5M373.5 534.5V493.8M373.5 453.2V412.5M374.5 453.2V412.5M375.5 493.8V412.5M376.5 493.8V412.5M377.5 534.5V453.2M378.5 493.8V453.2M379.5 534.5V453.2M380.5 534.5V453.2M382.5 534.5V493.8M383.5 493.8V453.2M384.5 493.8V453.2M385.5 453.2V412.5M386.5 493.8V412.5M387.5 493.8V412.5M388.5 453.2V412.5M389.5 534.5V412.5M390.5 534.5V412.5M391.5 534.5V493.8M391.5 453.2V412.5M392.5 534.5V412.5M393.5 534.5V453.2M394.5 493.8V453.2M395.5 534.5V453.2M396.5 534.5V493.8M397.5 534.5V453.2M398.5 493.8V453.2M399.5 534.5V453.2M400.5 534.5V453.2M401.5 534.5V412.5M402.5 534.5V412.5M404.5 493.8V453.2M406.5 534.5V453.2M407.5 534.5V453.2M408.5 534.5V493.8M409.5 534.5V493.8M410.5 493.8V453.2M411.5 534.5V412.5M412.5 534.5V493.8M413.5 493.8V453.2M414.5 534.5V453.2M415.5 453.2V412.5M416.5 493.8V412.5M417.5 534.5V453.2M418.5 534.5V453.2M419.5 534.5V453.2M420.5 534.5V493.8M421.5 534.5V493.8M421.5 453.2V412.5M422.5 534.5V371.9M423.5 534.5V412.5M424.5 493.8V412.5M425.5 534.5V453.2M426.5 534.5V453.2M427.5 534.5V453.2M428.5 493.8V453.2M429.5 493.8V331.2M430.5 493.8V412.5M431.5 453.2V412.5M432.5 493.8V453.2M433.5 493.8V412.5M434.5 493.8V371.9M435.5 493.8V371.9M436.5 493.8V371.9M437.5 493.8V371.9M438.5 493.8V371.9M439.5 534.5V493.8M439.5 412.5V371.9M440.5 534.5V493.8M440.5 453.2V371.9M441.5 412.5V371.9M442.5 453.2V371.9M443.5 453.2V412.5M444.5 453.2V412.5M445.5 412.5V331.2M446.5 493.8V453.2M446.5 412.5V331.2M447.5 453.2V331.2M448.5 412.5V331.2M449.5 412.5V331.2M450.5 453.2V412.5M450.5 371.9V331.2M451.5 412.5V371.9M452.5 453.2V412.5M452.5 371.9V331.2M453.5 453.2V331.2M454.5 453.2V371.9M455.5 453.2V331.2M456.5 412.5V331.2M457.5 331.2V290.5M458.5 453.2V331.2M458.5 290.5V249.9M459.5 493.8V331.2M460.5 493.8V331.2M461.5 493.8V453.2M461.5 412.5V331.2M462.5 493.8V412.5M462.5 371.9V331.2M463.5 453.2V331.2M464.5 493.8V331.2M466.5 493.8V331.2M468.5 453.2V412.5M468.5 331.2V290.5M469.5 453.2V412.5M470.5 453.2V412.5M470.5 371.9V331.2M471.5 412.5V290.5M472.5 412.5V371.9M473.5 453.2V331.2M474.5 453.2V331.2M475.5 453.2V371.9M476.5 493.8V412.5M476.5 371.9V331.2M477.5 412.5V331.2M478.5 453.2V331.2M479.5 453.2V331.2M480.5 453.2V331.2M481.5 493.8V290.5M482.5 412.5V371.9M483.5 453.2V331.2M484.5 453.2V412.5M484.5 331.2V290.5M485.5 412.5V331.2M486.5 453.2V331.2M487.5 453.2V290.5M488.5 453.2V371.9M489.5 453.2V290.5M490.5 412.5V331.2M491.5 453.2V371.9M491.5 331.2V290.5M492.5 412.5V371.9M493.5 493.8V453.2M493.5 412.5V371.9M494.5 371.9V290.5M495.5 412.5V371.9M496.5 412.5V331.2M497.5 371.9V331.2M498.5 412.5V371.9M499.5 453.2V331.2M500.5 412.5V371.9M500.5 331.2V290.5M501.5 371.9V290.5M502.5 371.9V331.2M503.5 412.5V249.9M504.5 371.9V249.9M505.5 412.5V371.9M505.5 331.2V249.9M506.5 371.9V331.2M506.5 290.5V249.9M507.5 453.2V371.9M507.5 331.2V290.5M508.5 412.5V290.5M509.5 453.2V290.5M510.5 412.5V209.2M511.5 371.9V290.5M511.5 249.9V209.2M512.5 412.5V290.5M512.5 249.9V209.2M513.5 412.5V209.2M514.5 412.5V249.9M515.5 371.9V290.5M515.5 249.9V209.2M516.5 371.9V290.5M516.5 249.9V209.2M517.5 453.2V412.5M517.5 290.5V249.9M518.5 412.5V331.2M519.5 412.5V290.5M520.5 412.5V290.5M521.5 412.5V331.2M522.5 331.2V290.5M523.5 331.2V290.5M524.5 453.2V290.5M525.5 412.5V249.9M526.5 453.2V412.5M526.5 371.9V209.2M527.5 412.5V371.9M527.5 331.2V209.2M528.5 412.5V290.5M528.5 249.9V209.2M529.5 371.9V290.5M529.5 209.2V127.9M530.5 412.5V209.2M531.5 412.5V371.9M532.5 493.8V453.2M532.5 412.5V290.5M533.5 371.9V290.5M534.5 453.2V290.5M535.5 412.5V290.5M536.5 371.9V290.5M537.5 371.9V290.5M538.5 412.5V331.2M539.5 412.5V371.9M539.5 331.2V290.5M540.5 453.2V371.9M540.5 331.2V290.5M541.5 331.2V290.5M542.5 412.5V331.2M543.5 412.5V371.9M543.5 331.2V249.9M544.5 371.9V290.5M545.5 453.2V371.9M546.5 493.8V371.9M547.5 453.2V371.9M548.5 453.2V331.2M549.5 493.8V371.9M550.5 453.2V331.2M551.5 453.2V371.9M552.5 453.2V412.5M552.5 371.9V331.2M553.5 412.5V331.2M554.5 453.2V371.9M555.5 493.8V412.5M555.5 371.9V290.5M556.5 453.2V331.2M557.5 412.5V290.5M558.5 453.2V412.5M558.5 371.9V331.2M559.5 493.8V331.2M560.5 453.2V412.5M560.5 371.9V331.2M561.5 453.2V331.2M562.5 493.8V412.5M562.5 371.9V290.5M563.5 453.2V331.2M564.5 453.2V371.9M565.5 412.5V331.2M566.5 290.5V249.9M567.5 453.2V331.2M568.5 453.2V331.2M569.5 412.5V331.2M570.5 412.5V290.5M571.5 493.8V453.2M571.5 412.5V331.2M572.5 371.9V331.2M573.5 412.5V331.2M575.5 453.2V412.5M575.5 371.9V290.5M576.5 453.2V371.9M576.5 331.2V290.5M577.5 453.2V412.5M577.5 371.9V290.5M578.5 412.5V371.9M578.5 331.2V290.5M579.5 371.9V290.5M580.5 371.9V331.2M580.5 290.5V209.2M581.5 493.8V412.5M581.5 371.9V290.5M582.5 412.5V290.5M583.5 453.2V290.5M584.5 493.8V453.2M584.5 412.5V331.2M586.5 493.8V453.2M586.5 412.5V331.2M587.5 453.2V331.2M588.5 493.8V331.2M588.5 290.5V249.9M589.5 453.2V290.5M590.5 412.5V331.2M590.5 290.5V249.9M591.5 371.9V249.9M592.5 412.5V371.9M592.5 290.5V249.9M593.5 493.8V453.2M593.5 371.9V331.2M594.5 453.2V412.5M595.5 453.2V331.2M596.5 453.2V331.2M598.5 412.5V331.2M599.5 412.5V331.2M600.5 453.2V331.2M601.5 493.8V412.5M601.5 371.9V331.2M602.5 453.2V412.5M602.5 371.9V331.2M603.5 453.2V331.2M604.5 493.8V331.2M605.5 453.2V371.9M606.5 493.8V371.9M607.5 453.2V290.5M608.5 453.2V412.5M608.5 371.9V331.2M609.5 453.2V331.2M610.5 412.5V331.2M611.5 453.2V331.2M612.5 493.8V453.2M612.5 412.5V331.2M613.5 453.2V412.5M614.5 453.2V331.2M615.5 453.2V371.9M616.5 493.8V412.5M617.5 493.8V453.2M617.5 412.5V371.9M618.5 493.8V371.9M618.5 331.2V290.5M619.5 493.8V371.9M620.5 412.5V371.9M621.5 453.2V412.5M621.5 331.2V290.5M622.5 453.2V412.5M623.5 453.2V371.9M624.5 453.2V371.9M625.5 453.2V371.9M625.5 331.2V290.5M626.5 493.8V371.9M627.5 493.8V453.2M627.5 412.5V371.9M628.5 493.8V371.9M628.5 331.2V290.5M630.5 493.8V371.9M631.5 493.8V371.9M631.5 331.2V290.5M632.5 453.2V371.9M633.5 453.2V331.2M634.5 412.5V371.9M635.5 493.8V412.5M636.5 493.8V412.5M637.5 453.2V371.9M638.5 493.8V453.2M638.5 412.5V371.9M639.5 493.8V453.2M639.5 412.5V371.9M640.5 493.8V331.2M641.5 453.2V371.9M642.5 412.5V371.9M643.5 493.8V453.2M643.5 412.5V331.2M644.5 453.2V371.9M645.5 493.8V371.9M646.5 493.8V371.9M647.5 493.8V331.2M648.5 493.8V412.5M648.5 371.9V331.2M649.5 493.8V371.9M650.5 453.2V412.5M651.5 412.5V371.9M652.5 453.2V371.9M653.5 493.8V412.5M654.5 493.8V371.9M655.5 493.8V371.9M657.5 493.8V453.2M658.5 493.8V331.2M659.5 453.2V331.2M660.5 412.5V371.9M661.5 453.2V412.5M662.5 453.2V371.9M663.5 493.8V331.2M664.5 493.8V331.2M665.5 453.2V371.9M666.5 412.5V371.9M667.5 493.8V453.2M667.5 412.5V371.9M668.5 493.8V453.2M669.5 534.5V453.2M670.5 534.5V453.2M673.5 493.8V453.2M673.5 412.5V371.9M675.5 534.5V453.2M676.5 534.5V412.5M677.5 493.8V412.5M678.5 534.5V453.2M679.5 534.5V453.2M679.5 412.5V371.9M680.5 534.5V453.2M681.5 493.8V453.2M683.5 534.5V493.8M685.5 493.8V453.2M686.5 493.8V412.5M687.5 493.8V371.9M688.5 493.8V453.2M688.5 412.5V371.9M689.5 453.2V412.5M691.5 493.8V412.5M693.5 493.8V453.2M694.5 493.8V412.5M695.5 412.5V371.9M696.5 493.8V453.2M697.5 493.8V453.2M698.5 453.2V412.5M699.5 493.8V453.2M700.5 453.2V412.5M701.5 534.5V493.8M701.5 453.2V412.5M702.5 534.5V493.8M702.5 453.2V412.5M703.5 534.5V453.2M704.5 534.5V493.8M705.5 534.5V453.2M706.5 534.5V453.2M707.5 534.5V453.2M708.5 493.8V453.2M709.5 534.5V453.2M710.5 493.8V412.5M711.5 534.5V493.8M711.5 453.2V412.5M712.5 534.5V453.2M713.5 534.5V453.2M714.5 534.5V493.8M715.5 534.5V453.2M716.5 534.5V493.8M717.5 534.5V493.8M718.5 534.5V412.5M719.5 534.5V453.2M720.5 534.5V493.8M721.5 493.8V412.5M722.5 534.5V493.8M722.5 453.2V412.5M723.5 534.5V412.5M725.5 493.8V453.2M726.5 493.8V412.5M727.5 453.2V412.5M728.5 493.8V412.5M729.5 493.8V453.2M730.5 534.5V412.5M731.5 534.5V412.5M733.5 534.5V453.2M734.5 493.8V412.5M735.5 493.8V412.5M736.5 534.5V412.5M737.5 534.5V453.2M738.5 493.8V412.5M739.5 493.8V412.5M740.5 493.8V412.5M741.5 534.5V453.2M743.5 493.8V453.2M745.5 493.8V453.2M746.5 493.8V453.2M747.5 493.8V453.2M749.5 534.5V453.2M750.5 493.8V453.2M751.5 534.5V412.5M752.5 534.5V493.8M753.5 493.8V453.2M754.5 534.5V453.2M755.5 534.5V493.8M756.5 534.5V493.8M758.5 534.5V493.8M760.5 534.5V493.8M763.5 534.5V453.2M764.5 493.8V453.2M765.5 534.5V493.8M766.5 534.5V493.8M767.5 534.5V493.8M768.5 534.5V493.8M769.5 534.5V493.8M770.5 534.5V453.2M771.5 534.5V493.8M772.5 534.5V493.8M774.5 534.5V493.8M775.5 534.5V493.8M776.5 534.5V453.2M777.5 534.5V493.8M778.5 534.5V493.8M779.5 534.5V453.2M780.5 534.5V493.8M781.5 534.5V493.8M782.5 534.5V493.8M784.5 534.5V493.8M785.5 534.5V493.8M786.5 534.5V453.2M787.5 493.8V453.2M788.5 534.5V493.8M789.5 534.5V453.2M790.5 534.5V493.8M791.5 534.5V493.8M792.5 534.5V493.8M793.5 534.5V493.8M794.5 534.5V493.8M795.5 534.5V493.8M796.5 534.5V493.8M799.5 534.5V493.8M800.5 534.5V493.8M801.5 534.5V493.8M802.5 534.5V493.8M803.5 534.5V493.8M804.5 534.5V493.8M805.5 534.5V493.8M806.5 534.5V493.8M807.5 534.5V493.8M809.5 534.5V453.2" stroke="#0000ff" stroke-width="1" fill="none"/>
<path d="M185 26.5V642.7" stroke="#222" stroke-width="2.2" fill="none"/><path d="M178.5 636.2H935" stroke="#222" stroke-width="2.2" fill="none"/><path d="M173.5 580.1H185M179 524.8H185M173.5 469.4H185M179 414.1H185M173.5 358.7H185M179 303.4H185M173.5 248.1H185M179 192.7H185M173.5 137.4H185M179 82H185M173.5 26.7H185" stroke="#222" stroke-width="2.2" fill="none"/><path d="M310 636.2V647.7M560 636.2V647.7M810 636.2V647.7M435 636.2V642.2M685 636.2V642.2M935 636.2V642.2" stroke="#222" stroke-width="2.2" fill="none"/><path d="M935.3 26.5V637.2M935.3 534.5H946.8M935.3 331.2H946.8M935.3 127.9H946.8M935.3 636.1H941.3M935.3 432.9H941.3M935.3 229.6H941.3M935.3 26.3H941.3" stroke="#3b38cc" stroke-width="2.2" fill="none"/>
<text x="0" y="0" font-size="22" text-anchor="end" fill="#111" font-family='"Liberation Sans", sans-serif' font-weight="normal" transform="translate(165.7 585.5) scale(1.03 1)">0.0</text>
<text x="0" y="0" font-size="22" text-anchor="end" fill="#111" font-family='"Liberation Sans", sans-serif' font-weight="normal" transform="translate(165.7 474.8) scale(1.03 1)">0.2</text>
<text x="0" y="0" font-size="22" text-anchor="end" fill="#111" font-family='"Liberation Sans", sans-serif' font-weight="normal" transform="translate(165.7 364.1) scale(1.03 1)">0.4</text>
<text x="0" y="0" font-size="22" text-anchor="end" fill="#111" font-family='"Liberation Sans", sans-serif' font-weight="normal" transform="translate(165.7 253.5) scale(1.03 1)">0.6</text>
<text x="0" y="0" font-size="22" text-anchor="end" fill="#111" font-family='"Liberation Sans", sans-serif' font-weight="normal" transform="translate(165.7 142.8) scale(1.03 1)">0.8</text>
<text x="0" y="0" font-size="22" text-anchor="end" fill="#111" font-family='"Liberation Sans", sans-serif' font-weight="normal" transform="translate(165.7 32.1) scale(1.03 1)">1.0</text>
<text x="0" y="0" font-size="22" text-anchor="start" fill="#2424e0" font-family='"Liberation Sans", sans-serif' font-weight="normal" transform="translate(952.9 540.2) scale(1.05 1)">0</text>
<text x="0" y="0" font-size="22" text-anchor="start" fill="#2424e0" font-family='"Liberation Sans", sans-serif' font-weight="normal" transform="translate(952.9 336.9) scale(1.05 1)">5</text>
<text x="0" y="0" font-size="22" text-anchor="start" fill="#2424e0" font-family='"Liberation Sans", sans-serif' font-weight="normal" transform="translate(952.9 133.6) scale(1.05 1)">10</text>
<text x="0" y="0" font-size="22" text-anchor="middle" fill="#111" font-family='"Liberation Sans", sans-serif' font-weight="normal" transform="translate(310 671.5) scale(1.05 1)">0</text>
<text x="0" y="0" font-size="22" text-anchor="middle" fill="#111" font-family='"Liberation Sans", sans-serif' font-weight="normal" transform="translate(560 671.5) scale(1.05 1)">5000</text>
<text x="0" y="0" font-size="22" text-anchor="middle" fill="#111" font-family='"Liberation Sans", sans-serif' font-weight="normal" transform="translate(810 671.5) scale(1.05 1)">10000</text>
<text x="0" y="0" font-size="27.8" text-anchor="middle" fill="#111" font-family='"Liberation Sans", sans-serif' font-weight="normal" transform="translate(560.4 717) scale(1.02 1)">Time (ps)</text>
<text x="0" y="0" font-size="28" text-anchor="middle" fill="#111" font-family='"Liberation Sans", sans-serif' font-weight="normal" transform="translate(114.7 345.5) rotate(-90) scale(0.99 1)">RMSD (nm)</text>
<text x="0" y="0" font-size="27.5" text-anchor="middle" fill="#111" font-family='"Liberation Sans", sans-serif' font-weight="normal" transform="translate(1012.5 344.3) rotate(-90) scale(1.0 1)">No. of H-Bonds</text>
<text x="11" y="70.5" font-size="31" font-family='"Liberation Serif", serif' fill="#111">(<tspan font-weight="bold">a</tspan>)</text>
<rect x="344" y="551" width="467" height="64" fill="#fff" stroke="#8a8a8a" stroke-width="1.3"/>
<path d="M376.5 568.5H430.5" stroke="#6a6a6a" stroke-width="1.2"/>
<path d="M376.5 598H430.5" stroke="#9a8ad8" stroke-width="1.2"/>
<text x="0" y="0" font-size="23" text-anchor="start" fill="#111" font-family='"Liberation Sans", sans-serif' font-weight="normal" transform="translate(438.5 576.8) scale(1.06 1)">RMSD (no electric field)</text>
<text x="0" y="0" font-size="23" text-anchor="start" fill="#111" font-family='"Liberation Sans", sans-serif' font-weight="normal" transform="translate(438.5 606.3) scale(1.06 1)">No. of H-Bond (no electric field)</text>
<path d="M315 1290L316.00 1163.3L316.25 1143.5L316.50 1151.2L316.75 1173.6L317.00 1157.0L317.25 1162.9L317.50 1167.2L317.75 1163.8L318.00 1162.2L318.25 1152.3L318.50 1150.6L318.75 1157.6L319.00 1137.9L319.25 1144.1L319.50 1144.9L319.75 1155.7L320.00 1136.3L320.25 1121.1L320.50 1150.0L320.75 1133.3L321.00 1141.1L321.25 1162.6L321.50 1140.6L321.75 1162.0L322.00 1147.9L322.25 1154.6L322.50 1118.8L322.75 1142.3L323.00 1155.5L323.25 1145.0L323.50 1160.4L323.75 1155.6L324.00 1128.3L324.25 1129.3L324.50 1148.4L324.75 1142.2L325.00 1124.5L325.25 1111.4L325.50 1115.0L325.75 1122.5L326.00 1135.5L326.25 1121.0L326.50 1117.4L326.75 1115.5L327.00 1099.8L327.25 1101.3L327.50 1088.8L327.75 1082.1L328.00 1081.1L328.25 1060.7L328.50 1067.0L328.75 1067.6L329.00 1064.1L329.25 1048.2L329.50 1045.2L329.75 1035.8L330.00 1053.2L330.25 1038.4L330.50 1048.9L330.75 1036.2L331.00 1034.7L331.25 1019.9L331.50 1026.9L331.75 1041.8L332.00 1001.8L332.25 1038.6L332.50 1061.2L332.75 1014.4L333.00 1022.5L333.25 1040.2L333.50 1023.7L333.75 1008.5L334.00 1033.0L334.25 1025.8L334.50 1033.7L334.75 1037.5L335.00 1047.1L335.25 1061.1L335.50 1053.2L335.75 1056.4L336.00 1066.8L336.25 1046.4L336.50 1065.6L336.75 1070.8L337.00 1066.0L337.25 1063.4L337.50 1068.0L337.75 1078.1L338.00 1068.1L338.25 1060.6L338.50 1082.8L338.75 1092.2L339.00 1094.2L339.25 1101.1L339.50 1109.5L339.75 1092.0L340.00 1101.7L340.25 1107.2L340.50 1103.1L340.75 1102.7L341.00 1113.1L341.25 1097.6L341.50 1112.3L341.75 1117.1L342.00 1119.6L342.25 1125.1L342.50 1114.6L342.75 1119.5L343.00 1129.2L343.25 1127.2L343.50 1133.4L343.75 1114.8L344.00 1117.2L344.25 1111.9L344.50 1122.4L344.75 1102.6L345.00 1123.3L345.25 1123.1L345.50 1112.8L345.75 1108.5L346.00 1086.0L346.25 1101.7L346.50 1065.4L346.75 1082.7L347.00 1106.3L347.25 1103.7L347.50 1103.6L347.75 1095.1L348.00 1095.9L348.25 1104.9L348.50 1086.8L348.75 1090.2L349.00 1077.7L349.25 1082.6L349.50 1079.4L349.75 1070.5L350.00 1086.0L350.25 1079.1L350.50 1097.5L350.75 1071.6L351.00 1085.9L351.25 1069.7L351.50 1101.9L351.75 1087.8L352.00 1096.1L352.25 1090.3L352.50 1091.6L352.75 1086.3L353.00 1088.3L353.25 1117.5L353.50 1106.8L353.75 1112.4L354.00 1115.0L354.25 1109.8L354.50 1117.3L354.75 1117.0L355.00 1111.3L355.25 1117.6L355.50 1138.5L355.75 1123.3L356.00 1141.1L356.25 1133.6L356.50 1133.3L356.75 1150.2L357.00 1144.3L357.25 1130.0L357.50 1125.3L357.75 1140.0L358.00 1129.9L358.25 1125.9L358.50 1121.5L358.75 1085.0L359.00 1104.8L359.25 1111.5L359.50 1127.6L359.75 1112.1L360.00 1096.2L360.25 1075.5L360.50 1081.7L360.75 1073.8L361.00 1099.0L361.25 1091.9L361.50 1088.7L361.75 1090.3L362.00 1092.6L362.25 1090.2L362.50 1090.9L362.75 1104.8L363.00 1071.8L363.25 1083.3L363.50 1095.7L363.75 1114.4L364.00 1073.8L364.25 1099.7L364.50 1097.3L364.75 1092.1L365.00 1080.5L365.25 1088.0L365.50 1071.0L365.75 1086.6L366.00 1077.9L366.25 1092.3L366.50 1079.4L366.75 1097.9L367.00 1083.6L367.25 1096.5L367.50 1083.6L367.75 1088.0L368.00 1107.8L368.25 1089.5L368.50 1092.5L368.75 1092.4L369.00 1095.1L369.25 1080.4L369.50 1099.2L369.75 1077.7L370.00 1076.3L370.25 1070.2L370.50 1103.6L370.75 1079.7L371.00 1092.3L371.25 1061.3L371.50 1067.5L371.75 1084.0L372.00 1089.1L372.25 1079.7L372.50 1073.6L372.75 1070.0L373.00 1061.2L373.25 1043.8L373.50 1049.4L373.75 1046.4L374.00 1055.9L374.25 1066.9L374.50 1069.1L374.75 1040.3L375.00 1031.9L375.25 1047.7L375.50 1031.0L375.75 1036.7L376.00 1031.0L376.25 1028.0L376.50 1020.1L376.75 1026.2L377.00 995.8L377.25 1020.3L377.50 1021.0L377.75 1021.5L378.00 994.6L378.25 1004.7L378.50 1028.1L378.75 1000.7L379.00 1027.1L379.25 1024.6L379.50 1013.3L379.75 1017.4L380.00 1018.9L380.25 1029.6L380.50 1010.6L380.75 1026.7L381.00 1017.6L381.25 1010.5L381.50 1021.4L381.75 1027.8L382.00 1022.0L382.25 1035.8L382.50 1031.5L382.75 1028.2L383.00 1030.0L383.25 1014.8L383.50 1033.7L383.75 1035.6L384.00 1069.4L384.25 1044.8L384.50 1044.4L384.75 1059.8L385.00 1052.3L385.25 1056.5L385.50 1056.1L385.75 1068.5L386.00 1056.4L386.25 1066.8L386.50 1045.8L386.75 1050.7L387.00 1056.6L387.25 1035.2L387.50 1060.1L387.75 1032.3L388.00 1033.7L388.25 1021.5L388.50 1024.2L388.75 1032.1L389.00 1045.3L389.25 1016.4L389.50 1017.8L389.75 1023.4L390.00 1029.5L390.25 1022.9L390.50 1031.0L390.75 1020.3L391.00 1007.4L391.25 1009.3L391.50 1017.7L391.75 1000.7L392.00 1021.7L392.25 1004.8L392.50 997.7L392.75 994.7L393.00 1012.4L393.25 1006.2L393.50 995.1L393.75 975.5L394.00 977.1L394.25 1008.6L394.50 984.0L394.75 981.1L395.00 986.4L395.25 966.6L395.50 983.0L395.75 978.6L396.00 988.3L396.25 984.0L396.50 970.5L396.75 984.4L397.00 977.4L397.25 982.9L397.50 991.4L397.75 968.7L398.00 964.1L398.25 982.9L398.50 987.7L398.75 990.8L399.00 1002.4L399.25 987.5L399.50 983.9L399.75 980.4L400.00 980.1L400.25 994.8L400.50 999.3L400.75 988.9L401.00 977.2L401.25 993.3L401.50 1022.0L401.75 1000.3L402.00 1021.5L402.25 1000.9L402.50 1008.8L402.75 1005.5L403.00 1005.1L403.25 1002.7L403.50 1013.6L403.75 1004.4L404.00 1028.4L404.25 1013.9L404.50 1026.3L404.75 1031.3L405.00 1015.1L405.25 1030.8L405.50 1042.0L405.75 1043.7L406.00 1062.9L406.25 1044.3L406.50 1058.2L406.75 1031.9L407.00 1054.2L407.25 1043.3L407.50 1062.7L407.75 1040.0L408.00 1071.9L408.25 1051.7L408.50 1060.5L408.75 1073.6L409.00 1069.3L409.25 1050.7L409.50 1078.1L409.75 1058.6L410.00 1065.5L410.25 1052.2L410.50 1037.4L410.75 1066.8L411.00 1057.7L411.25 1063.9L411.50 1070.0L411.75 1070.6L412.00 1066.1L412.25 1046.7L412.50 1037.3L412.75 1034.2L413.00 1050.4L413.25 1056.9L413.50 1046.4L413.75 1035.9L414.00 1046.2L414.25 1041.9L414.50 1029.5L414.75 1033.2L415.00 1044.2L415.25 1046.4L415.50 1035.2L415.75 1017.3L416.00 1021.2L416.25 1035.5L416.50 1031.0L416.75 1046.5L417.00 1025.3L417.25 1033.2L417.50 1016.5L417.75 1015.9L418.00 1018.3L418.25 1027.2L418.50 1007.0L418.75 1003.3L419.00 996.0L419.25 1005.0L419.50 992.2L419.75 987.5L420.00 998.1L420.25 988.7L420.50 986.7L420.75 1001.8L421.00 1023.9L421.25 1007.0L421.50 987.5L421.75 988.4L422.00 979.3L422.25 972.6L422.50 972.7L422.75 990.0L423.00 997.1L423.25 973.1L423.50 992.0L423.75 975.5L424.00 979.0L424.25 966.7L424.50 963.4L424.75 969.1L425.00 964.2L425.25 975.5L425.50 980.7L425.75 963.3L426.00 978.8L426.25 979.1L426.50 979.8L426.75 972.6L427.00 984.5L427.25 994.5L427.50 984.6L427.75 1010.0L428.00 990.0L428.25 972.5L428.50 979.5L428.75 993.0L429.00 992.7L429.25 996.2L429.50 1001.1L429.75 987.1L430.00 1004.5L430.25 1001.7L430.50 998.3L430.75 990.6L431.00 1036.7L431.25 1013.6L431.50 1019.6L431.75 1028.6L432.00 1031.0L432.25 1019.7L432.50 1033.1L432.75 1028.9L433.00 1040.2L433.25 1059.4L433.50 1038.1L433.75 1041.2L434.00 1052.2L434.25 1059.5L434.50 1039.5L434.75 1040.0L435.00 1045.8L435.25 1055.9L435.50 1063.2L435.75 1061.7L436.00 1042.8L436.25 1060.2L436.50 1052.0L436.75 1036.9L437.00 1027.2L437.25 1051.1L437.50 1034.3L437.75 1061.2L438.00 1041.9L438.25 1036.1L438.50 1032.2L438.75 1035.6L439.00 1021.8L439.25 1027.1L439.50 1016.0L439.75 1010.0L440.00 1012.9L440.25 998.3L440.50 995.7L440.75 1006.5L441.00 988.9L441.25 1018.2L441.50 995.2L441.75 995.5L442.00 994.9L442.25 1002.2L442.50 991.2L442.75 990.8L443.00 995.6L443.25 1008.9L443.50 993.2L443.75 997.5L444.00 1014.6L444.25 994.5L444.50 1002.7L444.75 1013.9L445.00 1002.7L445.25 1007.6L445.50 1002.6L445.75 1009.2L446.00 1013.9L446.25 1016.0L446.50 995.7L446.75 1002.7L447.00 1000.5L447.25 1000.1L447.50 1012.1L447.75 1009.5L448.00 1034.8L448.25 1047.8L448.50 1024.4L448.75 1027.2L449.00 1000.0L449.25 1043.2L449.50 1027.6L449.75 1036.8L450.00 1008.0L450.25 1022.3L450.50 1019.2L450.75 1033.9L451.00 1021.7L451.25 1032.4L451.50 1012.1L451.75 1008.4L452.00 1010.3L452.25 1031.1L452.50 1055.8L452.75 1034.6L453.00 1036.0L453.25 1018.9L453.50 1052.5L453.75 1052.9L454.00 1063.8L454.25 1068.4L454.50 1059.3L454.75 1054.8L455.00 1040.9L455.25 1053.2L455.50 1043.8L455.75 1050.6L456.00 1042.5L456.25 1050.5L456.50 1049.8L456.75 1073.1L457.00 1060.7L457.25 1058.1L457.50 1067.6L457.75 1051.2L458.00 1046.4L458.25 1051.4L458.50 1066.1L458.75 1071.4L459.00 1090.0L459.25 1072.2L459.50 1064.0L459.75 1064.2L460.00 1081.4L460.25 1079.2L460.50 1066.8L460.75 1074.2L461.00 1096.6L461.25 1078.5L461.50 1085.4L461.75 1075.1L462.00 1070.1L462.25 1079.3L462.50 1068.7L462.75 1078.6L463.00 1085.3L463.25 1074.2L463.50 1081.1L463.75 1074.2L464.00 1067.9L464.25 1075.5L464.50 1061.5L464.75 1072.9L465.00 1086.6L465.25 1076.7L465.50 1075.3L465.75 1044.0L466.00 1045.5L466.25 1031.2L466.50 1038.1L466.75 1035.6L467.00 1032.9L467.25 1035.7L467.50 1033.5L467.75 1018.1L468.00 1019.9L468.25 1021.0L468.50 993.6L468.75 1007.3L469.00 993.8L469.25 988.6L469.50 1017.0L469.75 994.6L470.00 983.8L470.25 1001.9L470.50 985.5L470.75 1000.4L471.00 994.1L471.25 992.7L471.50 985.6L471.75 1000.1L472.00 980.7L472.25 963.5L472.50 966.0L472.75 978.9L473.00 991.2L473.25 987.4L473.50 993.9L473.75 980.4L474.00 1006.8L474.25 1005.6L474.50 998.8L474.75 1013.0L475.00 1002.7L475.25 1005.8L475.50 1015.2L475.75 1001.1L476.00 1016.0L476.25 1036.3L476.50 1023.5L476.75 1002.8L477.00 1028.2L477.25 1027.7L477.50 1047.7L477.75 1038.9L478.00 1049.4L478.25 1053.1L478.50 1037.0L478.75 1057.7L479.00 1053.8L479.25 1053.8L479.50 1045.6L479.75 1045.2L480.00 1051.9L480.25 1067.9L480.50 1045.3L480.75 1029.7L481.00 1060.3L481.25 1042.9L481.50 1057.1L481.75 1056.7L482.00 1043.1L482.25 1028.4L482.50 1034.2L482.75 1025.9L483.00 1019.8L483.25 1021.8L483.50 1032.1L483.75 1040.6L484.00 1011.1L484.25 1025.9L484.50 1027.0L484.75 1000.7L485.00 1000.8L485.25 1002.2L485.50 1028.9L485.75 1015.6L486.00 1009.4L486.25 1012.5L486.50 999.9L486.75 1012.3L487.00 1000.5L487.25 1005.8L487.50 996.0L487.75 1012.3L488.00 976.7L488.25 969.8L488.50 963.4L488.75 965.3L489.00 951.8L489.25 941.5L489.50 963.8L489.75 936.0L490.00 909.9L490.25 936.6L490.50 929.2L490.75 926.3L491.00 912.7L491.25 905.4L491.50 899.9L491.75 890.5L492.00 897.7L492.25 884.7L492.50 891.4L492.75 872.0L493.00 874.7L493.25 889.2L493.50 890.0L493.75 878.9L494.00 860.5L494.25 880.2L494.50 880.2L494.75 878.9L495.00 860.5L495.25 865.1L495.50 874.4L495.75 860.6L496.00 869.3L496.25 890.8L496.50 885.7L496.75 880.4L497.00 880.8L497.25 905.3L497.50 878.9L497.75 878.8L498.00 888.2L498.25 890.3L498.50 894.4L498.75 907.4L499.00 873.6L499.25 899.9L499.50 894.1L499.75 912.7L500.00 910.2L500.25 916.8L500.50 922.2L500.75 921.9L501.00 907.5L501.25 912.3L501.50 912.8L501.75 907.7L502.00 921.4L502.25 907.2L502.50 922.9L502.75 925.3L503.00 923.7L503.25 932.0L503.50 947.0L503.75 918.0L504.00 943.5L504.25 937.8L504.50 947.4L504.75 957.3L505.00 932.6L505.25 905.5L505.50 919.3L505.75 935.5L506.00 952.8L506.25 944.0L506.50 958.5L506.75 948.1L507.00 946.9L507.25 925.9L507.50 929.7L507.75 944.7L508.00 956.5L508.25 970.9L508.50 950.2L508.75 959.9L509.00 961.3L509.25 962.7L509.50 942.3L509.75 949.2L510.00 933.9L510.25 939.3L510.50 936.8L510.75 953.1L511.00 952.9L511.25 963.4L511.50 944.0L511.75 932.6L512.00 953.7L512.25 948.7L512.50 945.9L512.75 958.7L513.00 944.3L513.25 955.6L513.50 928.8L513.75 934.5L514.00 947.5L514.25 944.8L514.50 947.0L514.75 942.6L515.00 941.3L515.25 938.2L515.50 945.3L515.75 948.5L516.00 934.1L516.25 948.4L516.50 936.0L516.75 937.2L517.00 933.8L517.25 937.2L517.50 941.3L517.75 943.2L518.00 946.0L518.25 938.1L518.50 918.0L518.75 952.2L519.00 921.6L519.25 948.2L519.50 929.8L519.75 936.6L520.00 934.8L520.25 930.2L520.50 935.7L520.75 926.6L521.00 938.5L521.25 920.2L521.50 915.6L521.75 903.6L522.00 896.5L522.25 900.8L522.50 926.9L522.75 936.8L523.00 922.8L523.25 923.8L523.50 921.2L523.75 931.0L524.00 938.3L524.25 938.8L524.50 937.4L524.75 930.5L525.00 943.0L525.25 910.8L525.50 928.5L525.75 944.3L526.00 932.5L526.25 929.6L526.50 937.5L526.75 947.2L527.00 954.3L527.25 946.7L527.50 934.2L527.75 969.7L528.00 940.7L528.25 937.3L528.50 944.4L528.75 953.7L529.00 949.6L529.25 929.6L529.50 929.7L529.75 922.3L530.00 929.5L530.25 938.2L530.50 905.1L530.75 909.7L531.00 921.3L531.25 943.7L531.50 925.1L531.75 924.6L532.00 948.6L532.25 938.1L532.50 930.8L532.75 954.0L533.00 930.6L533.25 935.0L533.50 951.7L533.75 942.5L534.00 938.5L534.25 940.0L534.50 948.5L534.75 947.4L535.00 928.0L535.25 927.2L535.50 940.4L535.75 926.4L536.00 940.2L536.25 919.2L536.50 932.9L536.75 936.5L537.00 937.8L537.25 963.0L537.50 952.9L537.75 941.8L538.00 962.4L538.25 969.3L538.50 945.7L538.75 956.6L539.00 968.2L539.25 967.3L539.50 961.0L539.75 966.2L540.00 974.5L540.25 945.6L540.50 947.9L540.75 962.7L541.00 962.9L541.25 960.0L541.50 961.5L541.75 932.6L542.00 958.0L542.25 964.6L542.50 969.0L542.75 971.0L543.00 958.0L543.25 981.3L543.50 969.7L543.75 975.4L544.00 979.7L544.25 1003.8L544.50 983.3L544.75 962.0L545.00 961.1L545.25 960.5L545.50 942.7L545.75 933.5L546.00 932.2L546.25 922.3L546.50 940.9L546.75 952.6L547.00 953.5L547.25 948.2L547.50 950.8L547.75 943.7L548.00 937.3L548.25 930.2L548.50 931.0L548.75 943.5L549.00 919.2L549.25 932.0L549.50 941.9L549.75 929.8L550.00 928.7L550.25 940.9L550.50 929.0L550.75 910.7L551.00 922.4L551.25 936.9L551.50 919.6L551.75 926.2L552.00 938.2L552.25 942.4L552.50 946.8L552.75 925.0L553.00 932.2L553.25 931.3L553.50 932.3L553.75 950.4L554.00 954.9L554.25 949.7L554.50 946.5L554.75 953.2L555.00 941.7L555.25 947.1L555.50 970.4L555.75 959.7L556.00 966.3L556.25 946.8L556.50 950.8L556.75 968.8L557.00 970.4L557.25 968.3L557.50 969.3L557.75 967.9L558.00 975.7L558.25 977.6L558.50 978.7L558.75 992.5L559.00 977.6L559.25 985.7L559.50 983.8L559.75 981.9L560.00 1007.0L560.25 986.9L560.50 989.9L560.75 1005.0L561.00 992.2L561.25 1007.0L561.50 1013.6L561.75 1023.2L562.00 990.7L562.25 1007.1L562.50 1011.3L562.75 999.3L563.00 1002.7L563.25 1008.8L563.50 998.0L563.75 1001.1L564.00 990.6L564.25 997.9L564.50 1005.3L564.75 1000.8L565.00 984.5L565.25 981.0L565.50 987.6L565.75 973.8L566.00 959.5L566.25 949.9L566.50 956.3L566.75 931.8L567.00 933.0L567.25 941.1L567.50 906.8L567.75 917.3L568.00 939.9L568.25 930.5L568.50 912.4L568.75 912.8L569.00 898.2L569.25 908.2L569.50 889.6L569.75 889.3L570.00 911.8L570.25 867.7L570.50 876.6L570.75 886.3L571.00 893.8L571.25 876.2L571.50 868.1L571.75 860.9L572.00 858.8L572.25 867.1L572.50 871.4L572.75 889.7L573.00 852.2L573.25 856.1L573.50 870.7L573.75 872.9L574.00 840.6L574.25 857.0L574.50 860.4L574.75 861.9L575.00 863.6L575.25 853.1L575.50 867.3L575.75 875.7L576.00 863.9L576.25 868.0L576.50 874.7L576.75 857.2L577.00 856.2L577.25 861.5L577.50 870.5L577.75 871.8L578.00 870.2L578.25 882.3L578.50 862.3L578.75 869.7L579.00 876.2L579.25 856.8L579.50 836.5L579.75 867.2L580.00 856.9L580.25 843.4L580.50 846.6L580.75 851.2L581.00 874.3L581.25 876.6L581.50 869.6L581.75 884.3L582.00 868.5L582.25 870.0L582.50 870.6L582.75 876.0L583.00 856.0L583.25 877.0L583.50 882.6L583.75 889.2L584.00 886.8L584.25 894.0L584.50 904.0L584.75 913.2L585.00 920.3L585.25 900.6L585.50 913.8L585.75 934.1L586.00 935.7L586.25 923.7L586.50 936.4L586.75 924.7L587.00 943.7L587.25 943.8L587.50 949.4L587.75 959.6L588.00 936.4L588.25 958.0L588.50 963.2L588.75 960.3L589.00 956.8L589.25 979.9L589.50 964.2L589.75 968.5L590.00 955.6L590.25 958.7L590.50 955.4L590.75 958.7L591.00 959.2L591.25 966.4L591.50 977.5L591.75 973.1L592.00 969.9L592.25 1003.5L592.50 980.5L592.75 978.8L593.00 980.7L593.25 968.5L593.50 956.9L593.75 959.9L594.00 957.4L594.25 958.9L594.50 961.8L594.75 959.8L595.00 969.7L595.25 958.5L595.50 952.3L595.75 957.1L596.00 951.4L596.25 943.8L596.50 947.6L596.75 950.6L597.00 953.4L597.25 961.2L597.50 944.4L597.75 951.7L598.00 945.6L598.25 941.6L598.50 929.9L598.75 941.6L599.00 935.0L599.25 946.5L599.50 946.2L599.75 934.1L600.00 925.6L600.25 932.3L600.50 923.2L600.75 928.3L601.00 914.9L601.25 944.7L601.50 905.2L601.75 934.0L602.00 915.7L602.25 912.0L602.50 897.2L602.75 923.4L603.00 913.1L603.25 935.4L603.50 933.7L603.75 932.0L604.00 930.3L604.25 920.6L604.50 934.1L604.75 918.8L605.00 936.8L605.25 928.9L605.50 937.7L605.75 922.0L606.00 948.6L606.25 965.0L606.50 938.2L606.75 944.7L607.00 967.9L607.25 962.0L607.50 967.5L607.75 951.3L608.00 962.7L608.25 947.7L608.50 939.1L608.75 932.0L609.00 944.2L609.25 946.1L609.50 958.3L609.75 988.5L610.00 977.1L610.25 991.4L610.50 995.6L610.75 983.8L611.00 983.4L611.25 996.9L611.50 1005.2L611.75 985.0L612.00 982.9L612.25 1019.9L612.50 996.1L612.75 1006.1L613.00 1015.8L613.25 1015.4L613.50 997.7L613.75 1004.2L614.00 1006.6L614.25 1004.2L614.50 1025.6L614.75 1022.3L615.00 1016.3L615.25 1013.0L615.50 1031.4L615.75 1034.7L616.00 1026.1L616.25 1023.5L616.50 1037.3L616.75 1026.7L617.00 1021.1L617.25 1014.6L617.50 1033.4L617.75 998.5L618.00 1019.6L618.25 1021.9L618.50 1011.7L618.75 1040.6L619.00 1038.0L619.25 1057.7L619.50 1051.0L619.75 1033.3L620.00 1022.9L620.25 1015.3L620.50 1027.4L620.75 992.9L621.00 1020.6L621.25 1011.9L621.50 991.4L621.75 1011.3L622.00 1019.7L622.25 1022.8L622.50 1009.6L622.75 982.5L623.00 999.9L623.25 1006.1L623.50 1029.5L623.75 1010.3L624.00 998.9L624.25 971.2L624.50 994.8L624.75 984.9L625.00 995.0L625.25 1003.8L625.50 996.4L625.75 1013.5L626.00 979.3L626.25 995.7L626.50 988.4L626.75 969.8L627.00 984.7L627.25 996.4L627.50 995.8L627.75 977.3L628.00 984.9L628.25 983.1L628.50 975.5L628.75 990.7L629.00 985.3L629.25 994.0L629.50 993.1L629.75 979.9L630.00 949.8L630.25 960.5L630.50 971.5L630.75 985.3L631.00 970.4L631.25 972.9L631.50 971.6L631.75 960.5L632.00 973.7L632.25 971.4L632.50 970.7L632.75 961.0L633.00 953.8L633.25 942.3L633.50 965.3L633.75 973.2L634.00 953.0L634.25 966.3L634.50 981.6L634.75 973.0L635.00 971.3L635.25 968.2L635.50 950.9L635.75 946.5L636.00 952.4L636.25 952.0L636.50 955.4L636.75 960.1L637.00 960.8L637.25 971.3L637.50 953.5L637.75 959.0L638.00 969.5L638.25 980.0L638.50 997.1L638.75 990.3L639.00 986.4L639.25 999.8L639.50 975.8L639.75 980.5L640.00 983.2L640.25 984.2L640.50 980.3L640.75 998.1L641.00 984.8L641.25 1002.8L641.50 1006.0L641.75 999.0L642.00 1000.4L642.25 996.9L642.50 997.4L642.75 1003.1L643.00 1000.2L643.25 1021.9L643.50 1001.3L643.75 996.7L644.00 1016.7L644.25 1015.0L644.50 1020.3L644.75 1017.1L645.00 1002.1L645.25 1010.9L645.50 997.4L645.75 992.3L646.00 1018.0L646.25 1022.8L646.50 1038.2L646.75 1035.3L647.00 1021.7L647.25 1027.3L647.50 1016.0L647.75 1039.1L648.00 1036.6L648.25 1029.2L648.50 1041.4L648.75 1019.1L649.00 1022.3L649.25 1035.2L649.50 1030.9L649.75 1036.9L650.00 1033.0L650.25 1018.8L650.50 1027.4L650.75 1035.4L651.00 1035.9L651.25 1038.2L651.50 1021.8L651.75 1029.6L652.00 1051.7L652.25 1042.9L652.50 1045.9L652.75 1043.1L653.00 1055.0L653.25 1037.1L653.50 1061.9L653.75 1055.4L654.00 1060.7L654.25 1062.6L654.50 1057.1L654.75 1059.0L655.00 1060.0L655.25 1059.2L655.50 1074.2L655.75 1055.1L656.00 1081.1L656.25 1069.2L656.50 1079.3L656.75 1069.6L657.00 1071.2L657.25 1071.9L657.50 1070.2L657.75 1057.9L658.00 1075.5L658.25 1086.7L658.50 1066.5L658.75 1063.1L659.00 1047.2L659.25 1049.4L659.50 1053.0L659.75 1030.4L660.00 1042.8L660.25 1039.6L660.50 1034.5L660.75 1038.6L661.00 1025.4L661.25 1027.7L661.50 1042.1L661.75 1040.3L662.00 1021.7L662.25 998.5L662.50 1016.7L662.75 1023.7L663.00 1034.8L663.25 1010.1L663.50 1005.1L663.75 988.9L664.00 990.2L664.25 962.8L664.50 998.9L664.75 999.0L665.00 994.5L665.25 998.1L665.50 990.6L665.75 997.0L666.00 989.8L666.25 995.7L666.50 986.1L666.75 1001.1L667.00 1007.2L667.25 996.2L667.50 979.1L667.75 988.9L668.00 986.1L668.25 990.5L668.50 1003.0L668.75 994.2L669.00 993.3L669.25 971.8L669.50 982.4L669.75 991.1L670.00 981.6L670.25 1007.1L670.50 986.2L670.75 978.9L671.00 995.7L671.25 989.9L671.50 977.7L671.75 991.8L672.00 1012.1L672.25 1013.6L672.50 980.8L672.75 980.1L673.00 973.4L673.25 989.5L673.50 996.4L673.75 979.8L674.00 1000.5L674.25 991.6L674.50 1000.8L674.75 992.5L675.00 1005.8L675.25 1009.5L675.50 996.5L675.75 1002.1L676.00 997.5L676.25 1005.6L676.50 1002.2L676.75 988.4L677.00 995.7L677.25 990.2L677.50 1000.9L677.75 999.4L678.00 991.2L678.25 1006.5L678.50 1009.2L678.75 1018.0L679.00 1015.9L679.25 998.6L679.50 1018.4L679.75 1010.8L680.00 1020.1L680.25 1034.7L680.50 1025.3L680.75 1033.8L681.00 1000.7L681.25 1011.6L681.50 1005.9L681.75 1014.2L682.00 1021.6L682.25 1014.4L682.50 1000.6L682.75 1012.1L683.00 1018.3L683.25 1006.5L683.50 1007.2L683.75 1022.3L684.00 1000.3L684.25 1020.9L684.50 1018.8L684.75 1017.0L685.00 1003.0L685.25 1012.7L685.50 1039.8L685.75 1024.7L686.00 1023.9L686.25 1023.4L686.50 1009.6L686.75 1018.0L687.00 1053.3L687.25 1037.6L687.50 1040.8L687.75 1039.3L688.00 1039.7L688.25 1049.8L688.50 1041.1L688.75 1042.0L689.00 1031.9L689.25 1038.2L689.50 1030.4L689.75 1042.7L690.00 1035.7L690.25 1028.9L690.50 1040.2L690.75 1049.2L691.00 1063.0L691.25 1035.9L691.50 1033.4L691.75 1034.2L692.00 1043.6L692.25 1055.7L692.50 1050.9L692.75 1043.4L693.00 1051.0L693.25 1051.4L693.50 1048.7L693.75 1037.7L694.00 1067.7L694.25 1053.9L694.50 1050.0L694.75 1058.8L695.00 1052.5L695.25 1044.1L695.50 1074.2L695.75 1055.4L696.00 1053.3L696.25 1040.1L696.50 1062.1L696.75 1055.7L697.00 1050.1L697.25 1061.4L697.50 1075.7L697.75 1056.1L698.00 1059.2L698.25 1067.3L698.50 1059.6L698.75 1054.1L699.00 1061.6L699.25 1070.3L699.50 1058.1L699.75 1031.2L700.00 1075.0L700.25 1067.1L700.50 1079.4L700.75 1055.9L701.00 1054.6L701.25 1086.7L701.50 1085.2L701.75 1062.1L702.00 1084.0L702.25 1074.7L702.50 1073.7L702.75 1094.6L703.00 1084.7L703.25 1077.2L703.50 1063.1L703.75 1070.0L704.00 1082.0L704.25 1062.8L704.50 1069.5L704.75 1061.2L705.00 1078.5L705.25 1074.2L705.50 1063.8L705.75 1051.4L706.00 1064.4L706.25 1053.8L706.50 1054.7L706.75 1052.9L707.00 1063.3L707.25 1059.1L707.50 1054.8L707.75 1046.5L708.00 1033.4L708.25 1031.3L708.50 1017.7L708.75 1028.8L709.00 1030.9L709.25 1023.1L709.50 1033.1L709.75 1019.7L710.00 1015.7L710.25 1014.5L710.50 1031.3L710.75 988.1L711.00 1016.8L711.25 1007.6L711.50 1013.1L711.75 1018.5L712.00 1016.0L712.25 983.0L712.50 982.1L712.75 983.7L713.00 976.2L713.25 981.6L713.50 980.3L713.75 985.3L714.00 991.5L714.25 992.5L714.50 1010.3L714.75 1026.9L715.00 1015.1L715.25 1013.0L715.50 1005.2L715.75 1000.9L716.00 999.0L716.25 995.8L716.50 996.0L716.75 988.5L717.00 1008.2L717.25 984.8L717.50 1000.7L717.75 1000.5L718.00 996.2L718.25 1005.8L718.50 992.0L718.75 991.7L719.00 1002.7L719.25 1011.0L719.50 1007.3L719.75 1021.7L720.00 1021.8L720.25 1034.6L720.50 1037.2L720.75 1037.3L721.00 1027.4L721.25 1012.3L721.50 1018.3L721.75 1021.5L722.00 1037.3L722.25 1016.9L722.50 1040.2L722.75 1040.6L723.00 1033.0L723.25 1031.9L723.50 1048.6L723.75 1040.5L724.00 1053.5L724.25 1038.6L724.50 1044.3L724.75 1056.0L725.00 1031.5L725.25 1036.1L725.50 1039.9L725.75 996.5L726.00 1036.5L726.25 1028.3L726.50 1048.9L726.75 1021.5L727.00 1021.5L727.25 1020.3L727.50 1023.5L727.75 1023.8L728.00 1014.0L728.25 1020.7L728.50 1028.0L728.75 1004.2L729.00 1017.6L729.25 1019.3L729.50 1027.6L729.75 1021.0L730.00 1003.8L730.25 995.4L730.50 1002.8L730.75 1021.8L731.00 1001.9L731.25 985.7L731.50 985.0L731.75 993.7L732.00 1012.2L732.25 995.7L732.50 1009.3L732.75 1000.8L733.00 1015.0L733.25 1004.4L733.50 1004.3L733.75 1000.1L734.00 992.6L734.25 1005.6L734.50 995.8L734.75 983.5L735.00 1000.5L735.25 992.7L735.50 980.4L735.75 1001.3L736.00 1001.8L736.25 984.5L736.50 985.5L736.75 995.0L737.00 987.3L737.25 978.1L737.50 973.6L737.75 991.5L738.00 984.3L738.25 980.3L738.50 989.2L738.75 999.0L739.00 985.6L739.25 989.4L739.50 997.7L739.75 1017.9L740.00 1023.4L740.25 1010.3L740.50 1015.5L740.75 1013.4L741.00 1004.2L741.25 990.3L741.50 998.3L741.75 985.8L742.00 1005.6L742.25 1000.8L742.50 1000.7L742.75 1001.3L743.00 1030.2L743.25 1026.7L743.50 1011.9L743.75 1019.1L744.00 986.1L744.25 1020.5L744.50 1015.4L744.75 998.6L745.00 1022.7L745.25 1009.1L745.50 1006.7L745.75 1013.1L746.00 1022.3L746.25 1016.3L746.50 1025.9L746.75 1013.4L747.00 1022.5L747.25 1011.9L747.50 995.8L747.75 1005.5L748.00 1021.5L748.25 1016.2L748.50 1024.7L748.75 1014.1L749.00 1021.4L749.25 1004.7L749.50 1016.6L749.75 1014.7L750.00 1026.3L750.25 1025.6L750.50 1000.6L750.75 1015.3L751.00 1004.4L751.25 1022.4L751.50 1030.3L751.75 1015.3L752.00 1003.8L752.25 1024.4L752.50 1023.1L752.75 1034.6L753.00 1034.0L753.25 1054.8L753.50 1026.9L753.75 1034.1L754.00 1034.3L754.25 1058.6L754.50 1050.9L754.75 1032.9L755.00 1028.8L755.25 1025.8L755.50 1021.2L755.75 1026.7L756.00 1053.7L756.25 1035.9L756.50 1047.3L756.75 1046.5L757.00 1073.6L757.25 1045.4L757.50 1039.2L757.75 1049.5L758.00 1051.3L758.25 1058.7L758.50 1024.8L758.75 1012.6L759.00 1037.1L759.25 1059.1L759.50 1055.6L759.75 1021.2L760.00 1035.2L760.25 1053.0L760.50 1034.7L760.75 1066.5L761.00 1053.7L761.25 1047.3L761.50 1026.2L761.75 1008.2L762.00 1021.8L762.25 1045.4L762.50 1041.0L762.75 1044.4L763.00 1052.7L763.25 1046.2L763.50 1045.4L763.75 1054.7L764.00 1032.6L764.25 1025.1L764.50 1058.4L764.75 1058.2L765.00 1074.2L765.25 1049.1L765.50 1044.3L765.75 1037.9L766.00 1049.9L766.25 1050.3L766.50 1045.6L766.75 1043.3L767.00 1063.4L767.25 1063.6L767.50 1046.6L767.75 1045.1L768.00 1052.2L768.25 1068.0L768.50 1047.8L768.75 1023.5L769.00 1014.6L769.25 1049.4L769.50 1023.1L769.75 1009.6L770.00 1033.5L770.25 1016.9L770.50 1012.4L770.75 1021.6L771.00 1013.3L771.25 1025.9L771.50 1000.0L771.75 1028.1L772.00 1000.1L772.25 1011.7L772.50 1009.9L772.75 997.8L773.00 1017.4L773.25 1032.9L773.50 1020.7L773.75 1008.5L774.00 994.4L774.25 1001.6L774.50 1002.2L774.75 997.3L775.00 994.7L775.25 1004.7L775.50 1008.6L775.75 1002.3L776.00 1012.4L776.25 1018.6L776.50 1013.0L776.75 961.3L777.00 987.2L777.25 991.7L777.50 986.1L777.75 974.9L778.00 992.7L778.25 941.5L778.50 973.3L778.75 977.8L779.00 989.7L779.25 938.0L779.50 958.3L779.75 963.0L780.00 934.9L780.25 963.4L780.50 952.2L780.75 966.3L781.00 970.2L781.25 958.2L781.50 951.1L781.75 947.0L782.00 930.4L782.25 953.0L782.50 946.9L782.75 931.5L783.00 940.6L783.25 962.8L783.50 949.0L783.75 949.3L784.00 958.7L784.25 948.3L784.50 956.9L784.75 922.6L785.00 945.7L785.25 959.5L785.50 948.9L785.75 942.3L786.00 955.4L786.25 940.6L786.50 957.1L786.75 962.1L787.00 974.8L787.25 978.5L787.50 961.9L787.75 980.6L788.00 967.8L788.25 965.6L788.50 955.5L788.75 964.2L789.00 980.0L789.25 953.3L789.50 948.2L789.75 982.2L790.00 960.5L790.25 963.0L790.50 971.3L790.75 980.1L791.00 956.2L791.25 973.1L791.50 968.0L791.75 998.5L792.00 989.0L792.25 1008.2L792.50 976.1L792.75 1000.4L793.00 1005.1L793.25 989.7L793.50 1007.4L793.75 990.0L794.00 1015.4L794.25 1002.4L794.50 1000.0L794.75 1013.7L795.00 1006.9L795.25 1005.7L795.50 979.5L795.75 988.1L796.00 1010.1L796.25 1011.0L796.50 1013.3L796.75 1021.1L797.00 1030.6L797.25 1005.8L797.50 1020.7L797.75 1027.2L798.00 1021.2L798.25 1025.3L798.50 1020.2L798.75 1014.5L799.00 1024.2L799.25 1034.2L799.50 1028.2L799.75 1020.0L800.00 1019.1L800.25 994.6L800.50 983.8L800.75 1038.0L801.00 1017.0L801.25 1020.8L801.50 1020.5L801.75 1026.4L802.00 1024.9L802.25 1044.2L802.50 1037.9L802.75 1038.2L803.00 1026.9L803.25 1049.6L803.50 1050.1L803.75 1032.1L804.00 1042.8" stroke="#000" stroke-width="0.95" fill="none" stroke-linejoin="bevel"/>
<path d="M316.5 1281.2V1215M319.5 1281.2V1215M321.5 1281.2V1215M322.5 1148.8V1082.5M324.5 1281.2V1215M325.5 1281.2V1215M330.5 1215V1148.8M334.5 1215V1082.5M338.5 1215V1148.8M341.5 1281.2V1215M341.5 1148.8V1082.5M343.5 1281.2V1215M347.5 1215V1082.5M349.5 1148.8V1082.5M352.5 1281.2V1148.8M354.5 1215V1148.8M355.5 1281.2V1215M356.5 1281.2V1148.8M357.5 1148.8V1082.5M359.5 1215V1148.8M360.5 1281.2V1215M365.5 1281.2V1148.8M367.5 1148.8V1082.5M369.5 1281.2V1215M369.5 1148.8V1082.5M371.5 1281.2V1215M372.5 1281.2V1148.8M375.5 1148.8V1082.5M376.5 1215V1148.8M378.5 1215V1148.8M380.5 1215V1148.8M382.5 1148.8V1082.5M383.5 1281.2V1215M384.5 1281.2V1215M388.5 1148.8V1016.2M389.5 1281.2V1215M390.5 1215V1148.8M391.5 1148.8V1082.5M392.5 1281.2V1215M393.5 1281.2V1148.8M397.5 1148.8V1082.5M399.5 1281.2V1215M401.5 1148.8V1082.5M404.5 1082.5V1016.2M412.5 1215V1082.5M414.5 1281.2V1215M414.5 1148.8V1082.5M418.5 1281.2V1215M421.5 1281.2V1215M421.5 1148.8V1082.5M424.5 1281.2V1215M427.5 1281.2V1215M430.5 1215V1148.8M431.5 1215V1148.8M432.5 1215V1148.8M435.5 1281.2V1215M436.5 1215V1148.8M439.5 1281.2V1215M446.5 1281.2V1215M453.5 1281.2V1148.8M454.5 1281.2V1215M454.5 1148.8V1082.5M458.5 1281.2V1215M459.5 1281.2V1215M461.5 1148.8V1082.5M462.5 1148.8V1082.5M466.5 1148.8V1082.5M468.5 1148.8V1082.5M470.5 1215V1082.5M471.5 1148.8V1082.5M472.5 1215V1148.8M474.5 1281.2V1215M475.5 1281.2V1215M483.5 1281.2V1215M487.5 1215V1148.8M488.5 1281.2V1215M491.5 1281.2V1148.8M496.5 1281.2V1148.8M497.5 1281.2V1215M499.5 1281.2V1215M501.5 1215V1148.8M504.5 1281.2V1215M511.5 1281.2V1215M524.5 1215V1148.8M528.5 1215V1148.8M529.5 1281.2V1215M535.5 1281.2V1215M540.5 1215V1148.8M540.5 1082.5V1016.2M541.5 1148.8V1082.5M544.5 1148.8V1016.2M545.5 1148.8V1082.5M547.5 1215V1016.2M548.5 1148.8V1082.5M551.5 1215V1148.8M553.5 1148.8V1082.5M554.5 1215V1148.8M556.5 1148.8V1082.5M560.5 1281.2V1215M564.5 1281.2V1215M567.5 1215V1148.8M570.5 1281.2V1215M579.5 1148.8V1082.5M582.5 1215V1148.8M586.5 1215V1082.5M587.5 1148.8V1082.5M588.5 1016.2V950M589.5 1082.5V1016.2M590.5 950V883.8M591.5 1148.8V1082.5M591.5 950V883.8M593.5 950V883.8M594.5 1215V1148.8M596.5 1148.8V1082.5M597.5 1148.8V1082.5M597.5 1016.2V950M599.5 1148.8V1016.2M600.5 1148.8V1016.2M601.5 1215V1082.5M602.5 1215V1148.8M602.5 1016.2V950M605.5 1215V1148.8M605.5 1016.2V950M607.5 1148.8V1082.5M608.5 1148.8V1082.5M611.5 950V883.8M612.5 1148.8V1082.5M612.5 1016.2V950M613.5 1215V1082.5M613.5 1016.2V883.8M614.5 1016.2V950M615.5 1082.5V950M616.5 1148.8V1082.5M625.5 1148.8V1082.5M627.5 1016.2V950M628.5 1148.8V1082.5M631.5 1148.8V1016.2M635.5 1016.2V950M636.5 1016.2V950M637.5 1016.2V950M638.5 1148.8V1082.5M639.5 1148.8V950M640.5 1148.8V1082.5M644.5 1016.2V950M645.5 1215V1148.8M645.5 1082.5V1016.2M646.5 1082.5V950M650.5 1148.8V1082.5M654.5 1148.8V1082.5M655.5 1215V1148.8M655.5 1082.5V950M656.5 1016.2V950M660.5 1016.2V883.8M662.5 950V883.8M667.5 1082.5V1016.2M671.5 1082.5V1016.2M672.5 1215V1148.8M673.5 1082.5V1016.2M677.5 1215V1148.8M677.5 1082.5V1016.2M678.5 1215V1148.8M679.5 1215V1148.8M679.5 1082.5V1016.2M680.5 1082.5V1016.2M683.5 1215V1148.8M684.5 1016.2V950M685.5 1215V1148.8M685.5 1016.2V950M686.5 1148.8V1082.5M688.5 1215V1148.8M689.5 1016.2V950M690.5 1215V1148.8M691.5 1148.8V1082.5M693.5 1082.5V1016.2M696.5 1148.8V1082.5M696.5 950V883.8M697.5 950V883.8M699.5 1082.5V1016.2M700.5 1082.5V1016.2M703.5 1215V1016.2M704.5 1215V1148.8M708.5 1148.8V1016.2M711.5 1215V1148.8M711.5 1082.5V1016.2M716.5 1082.5V1016.2M718.5 1082.5V1016.2M720.5 1148.8V1082.5M721.5 1082.5V1016.2M722.5 1082.5V1016.2M724.5 1148.8V1082.5M725.5 1148.8V1016.2M727.5 1215V1148.8M727.5 1082.5V1016.2M730.5 1215V1148.8M731.5 1016.2V950M732.5 1215V1082.5M732.5 1016.2V950M734.5 1215V1148.8M735.5 1148.8V1082.5M738.5 1215V1148.8M740.5 1215V1148.8M741.5 1215V1148.8M743.5 1082.5V1016.2M746.5 1082.5V1016.2M747.5 1148.8V1082.5M748.5 1016.2V950M751.5 1082.5V950M753.5 1016.2V950M754.5 1148.8V1082.5M755.5 1082.5V950M756.5 1082.5V1016.2M757.5 1016.2V950M759.5 1148.8V1082.5M760.5 1016.2V950M762.5 1016.2V950M763.5 1016.2V950M764.5 1016.2V950M765.5 1148.8V1082.5M767.5 1082.5V1016.2M768.5 1016.2V950M770.5 1082.5V1016.2M774.5 1215V1148.8M775.5 1215V1148.8M776.5 1148.8V1082.5M778.5 1215V1016.2M783.5 1148.8V1082.5M783.5 1016.2V950M784.5 1082.5V1016.2M785.5 1148.8V1016.2M786.5 1148.8V1082.5M786.5 1016.2V950M787.5 1215V1148.8M787.5 1016.2V950M788.5 1082.5V1016.2M790.5 1148.8V1082.5M791.5 1148.8V1082.5M792.5 1215V1148.8M799.5 1082.5V1016.2M801.5 1016.2V950M802.5 1016.2V950" stroke="#008080" stroke-opacity="0.45" stroke-width="1" fill="none"/><path d="M315.5 1281.2V1082.5M316.5 1148.8V1082.5M317.5 1281.2V1148.8M318.5 1281.2V1148.8M320.5 1281.2V1148.8M321.5 1215V1148.8M322.5 1215V1148.8M323.5 1281.2V1215M324.5 1215V1082.5M326.5 1281.2V1148.8M327.5 1281.2V1082.5M328.5 1281.2V1148.8M329.5 1215V1148.8M330.5 1281.2V1215M331.5 1281.2V1148.8M332.5 1281.2V1148.8M333.5 1281.2V1082.5M334.5 1281.2V1215M335.5 1281.2V1148.8M336.5 1281.2V1082.5M337.5 1215V1082.5M338.5 1281.2V1215M338.5 1148.8V1082.5M339.5 1281.2V1082.5M340.5 1281.2V1082.5M341.5 1215V1148.8M342.5 1281.2V1082.5M343.5 1215V1082.5M344.5 1281.2V1082.5M345.5 1215V1082.5M346.5 1281.2V1082.5M349.5 1281.2V1148.8M350.5 1281.2V1082.5M351.5 1281.2V1082.5M353.5 1215V1148.8M355.5 1215V1082.5M357.5 1281.2V1148.8M358.5 1281.2V1148.8M359.5 1281.2V1215M360.5 1215V1148.8M361.5 1281.2V1148.8M362.5 1281.2V1082.5M363.5 1281.2V1082.5M364.5 1281.2V1082.5M365.5 1148.8V1082.5M366.5 1215V1148.8M367.5 1215V1148.8M368.5 1215V1148.8M368.5 1082.5V1016.2M369.5 1215V1148.8M370.5 1281.2V1082.5M371.5 1215V1082.5M372.5 1148.8V1082.5M373.5 1281.2V1082.5M374.5 1281.2V1148.8M375.5 1281.2V1148.8M376.5 1281.2V1215M376.5 1148.8V1082.5M377.5 1281.2V1082.5M378.5 1281.2V1215M379.5 1281.2V1148.8M380.5 1281.2V1215M380.5 1148.8V1082.5M381.5 1281.2V1082.5M382.5 1215V1148.8M383.5 1215V1082.5M384.5 1215V1082.5M385.5 1281.2V1082.5M386.5 1281.2V1082.5M387.5 1281.2V1148.8M388.5 1281.2V1148.8M389.5 1082.5V1016.2M390.5 1148.8V1016.2M391.5 1281.2V1148.8M391.5 1082.5V1016.2M392.5 1215V1016.2M393.5 1148.8V1016.2M394.5 1281.2V1016.2M395.5 1281.2V1016.2M396.5 1281.2V1016.2M397.5 1281.2V1148.8M398.5 1281.2V1215M398.5 1148.8V1016.2M399.5 1215V1148.8M399.5 1082.5V1016.2M400.5 1281.2V1016.2M401.5 1281.2V1148.8M401.5 1082.5V1016.2M402.5 1281.2V1016.2M403.5 1215V1016.2M404.5 1148.8V1082.5M405.5 1281.2V1082.5M406.5 1215V1082.5M407.5 1281.2V1148.8M408.5 1281.2V1082.5M409.5 1148.8V1082.5M410.5 1281.2V1082.5M411.5 1281.2V1215M411.5 1148.8V1082.5M412.5 1281.2V1215M413.5 1281.2V1215M413.5 1148.8V1082.5M414.5 1215V1148.8M415.5 1215V1082.5M416.5 1215V1148.8M417.5 1281.2V1215M417.5 1148.8V1082.5M418.5 1215V1016.2M419.5 1281.2V1082.5M420.5 1281.2V1082.5M421.5 1215V1148.8M422.5 1281.2V1082.5M423.5 1281.2V1082.5M424.5 1215V1082.5M425.5 1215V1148.8M426.5 1281.2V1148.8M427.5 1215V1148.8M428.5 1281.2V1148.8M429.5 1281.2V1148.8M430.5 1281.2V1215M431.5 1281.2V1215M433.5 1281.2V1148.8M434.5 1281.2V1148.8M435.5 1215V1148.8M436.5 1281.2V1215M437.5 1281.2V1148.8M437.5 1082.5V1016.2M438.5 1281.2V1148.8M439.5 1215V1148.8M440.5 1281.2V1148.8M441.5 1281.2V1148.8M442.5 1281.2V1148.8M443.5 1281.2V1148.8M444.5 1281.2V1215M445.5 1281.2V1215M447.5 1281.2V1215M448.5 1281.2V1215M449.5 1281.2V1215M450.5 1281.2V1148.8M451.5 1281.2V1148.8M452.5 1281.2V1148.8M454.5 1215V1148.8M455.5 1281.2V1215M455.5 1148.8V1082.5M456.5 1215V1082.5M457.5 1281.2V1148.8M458.5 1215V1148.8M459.5 1215V1148.8M460.5 1281.2V1148.8M461.5 1281.2V1215M462.5 1281.2V1148.8M463.5 1281.2V1148.8M464.5 1281.2V1148.8M465.5 1215V1082.5M466.5 1281.2V1148.8M467.5 1281.2V1082.5M468.5 1281.2V1148.8M469.5 1281.2V1215M469.5 1148.8V1082.5M470.5 1281.2V1215M471.5 1281.2V1148.8M472.5 1281.2V1215M473.5 1281.2V1148.8M475.5 1215V1148.8M476.5 1281.2V1148.8M477.5 1215V1148.8M478.5 1281.2V1148.8M479.5 1215V1148.8M480.5 1281.2V1148.8M481.5 1281.2V1148.8M482.5 1215V1148.8M483.5 1215V1148.8M484.5 1281.2V1148.8M485.5 1215V1148.8M486.5 1281.2V1082.5M488.5 1215V1148.8M489.5 1281.2V1148.8M490.5 1281.2V1148.8M491.5 1148.8V1082.5M492.5 1281.2V1148.8M493.5 1281.2V1148.8M494.5 1281.2V1148.8M495.5 1281.2V1148.8M497.5 1215V1148.8M498.5 1281.2V1148.8M499.5 1215V1148.8M500.5 1281.2V1148.8M501.5 1281.2V1215M502.5 1281.2V1148.8M503.5 1281.2V1148.8M504.5 1215V1148.8M505.5 1281.2V1148.8M506.5 1281.2V1148.8M507.5 1281.2V1148.8M508.5 1281.2V1148.8M509.5 1281.2V1148.8M510.5 1281.2V1215M512.5 1281.2V1215M513.5 1281.2V1215M514.5 1281.2V1215M516.5 1281.2V1215M517.5 1281.2V1215M518.5 1281.2V1215M519.5 1281.2V1215M520.5 1281.2V1215M521.5 1281.2V1215M522.5 1281.2V1215M523.5 1281.2V1215M524.5 1281.2V1215M526.5 1281.2V1148.8M527.5 1281.2V1148.8M528.5 1281.2V1215M530.5 1281.2V1215M531.5 1281.2V1148.8M532.5 1281.2V1215M533.5 1281.2V1215M534.5 1281.2V1215M536.5 1281.2V1215M537.5 1281.2V1215M538.5 1281.2V1215M540.5 1148.8V1082.5M541.5 1215V1148.8M542.5 1215V1016.2M543.5 1215V1016.2M544.5 1215V1148.8M545.5 1215V1148.8M545.5 1082.5V1016.2M546.5 1215V1016.2M548.5 1215V1148.8M548.5 1082.5V1016.2M549.5 1281.2V1215M549.5 1148.8V1016.2M550.5 1215V1016.2M551.5 1148.8V1016.2M552.5 1215V1016.2M553.5 1215V1148.8M553.5 1082.5V1016.2M554.5 1148.8V1082.5M555.5 1215V1016.2M556.5 1082.5V1016.2M557.5 1215V1016.2M558.5 1215V1016.2M559.5 1215V1148.8M559.5 1082.5V1016.2M560.5 1215V1016.2M561.5 1281.2V1148.8M562.5 1281.2V1148.8M563.5 1281.2V1148.8M564.5 1215V1148.8M565.5 1281.2V1148.8M566.5 1215V1148.8M567.5 1281.2V1215M568.5 1215V1148.8M569.5 1281.2V1148.8M571.5 1281.2V1148.8M572.5 1281.2V1148.8M573.5 1215V1148.8M574.5 1148.8V1082.5M575.5 1215V1082.5M576.5 1148.8V1082.5M577.5 1281.2V1082.5M578.5 1215V1082.5M579.5 1215V1148.8M580.5 1215V1082.5M581.5 1215V1082.5M582.5 1148.8V1082.5M583.5 1215V1016.2M584.5 1215V1016.2M585.5 1215V1148.8M585.5 1082.5V1016.2M586.5 1082.5V1016.2M587.5 1215V1148.8M588.5 1215V1016.2M589.5 1215V1082.5M589.5 1016.2V950M590.5 1215V1016.2M591.5 1215V1148.8M592.5 1215V1016.2M593.5 1148.8V1016.2M594.5 1148.8V1016.2M594.5 950V883.8M595.5 1148.8V883.8M596.5 1082.5V950M597.5 1215V1148.8M597.5 1082.5V1016.2M598.5 1148.8V883.8M599.5 1016.2V883.8M600.5 1215V1148.8M600.5 1016.2V883.8M601.5 1082.5V883.8M602.5 1082.5V1016.2M603.5 1082.5V1016.2M604.5 1148.8V1016.2M604.5 883.8V817.5M605.5 1148.8V1016.2M606.5 1215V1148.8M606.5 1082.5V950M607.5 1082.5V1016.2M608.5 1082.5V1016.2M609.5 1148.8V950M610.5 1215V1148.8M610.5 1016.2V883.8M611.5 1082.5V1016.2M612.5 950V883.8M613.5 1082.5V1016.2M614.5 1215V1016.2M614.5 883.8V817.5M616.5 1082.5V950M617.5 1082.5V950M618.5 1148.8V1016.2M619.5 1148.8V1016.2M620.5 1148.8V1016.2M621.5 1148.8V1016.2M622.5 1148.8V1016.2M623.5 1148.8V1016.2M624.5 1215V1148.8M624.5 1082.5V1016.2M625.5 1082.5V1016.2M626.5 1148.8V1016.2M627.5 1215V1016.2M628.5 1082.5V950M629.5 1148.8V950M630.5 1148.8V1016.2M632.5 1148.8V950M633.5 1281.2V1215M633.5 1148.8V950M634.5 1148.8V950M635.5 1148.8V1016.2M636.5 1148.8V1016.2M637.5 1148.8V1016.2M638.5 1082.5V1016.2M639.5 1215V1148.8M640.5 1082.5V1016.2M641.5 1215V1016.2M641.5 950V883.8M642.5 1148.8V1016.2M642.5 950V883.8M643.5 1148.8V883.8M644.5 1215V1016.2M645.5 1148.8V1082.5M645.5 1016.2V950M646.5 1215V1082.5M647.5 1148.8V950M648.5 1148.8V1016.2M649.5 1215V1148.8M649.5 1082.5V1016.2M650.5 1082.5V950M651.5 1016.2V950M652.5 1148.8V1016.2M653.5 1215V1148.8M653.5 1082.5V950M654.5 1215V1148.8M654.5 1082.5V950M655.5 1148.8V1082.5M656.5 1148.8V1016.2M657.5 1148.8V1082.5M657.5 1016.2V950M658.5 1148.8V950M659.5 1215V1016.2M660.5 1082.5V1016.2M661.5 1215V1016.2M662.5 1215V1016.2M663.5 1082.5V1016.2M664.5 1148.8V950M665.5 1148.8V950M666.5 1082.5V950M667.5 1215V1082.5M667.5 1016.2V950M668.5 1148.8V950M669.5 1148.8V950M670.5 1148.8V1016.2M671.5 1148.8V1082.5M671.5 1016.2V950M672.5 1148.8V950M673.5 1215V1082.5M673.5 1016.2V950M674.5 1215V1148.8M674.5 1082.5V950M675.5 1082.5V950M676.5 1082.5V950M677.5 1148.8V1082.5M677.5 1016.2V950M678.5 1148.8V950M679.5 1148.8V1082.5M679.5 1016.2V950M680.5 1148.8V1082.5M680.5 1016.2V950M681.5 1148.8V950M682.5 1148.8V950M683.5 1082.5V950M684.5 1215V1016.2M685.5 1148.8V1016.2M687.5 1148.8V1016.2M688.5 1148.8V950M689.5 1148.8V1016.2M690.5 1148.8V1082.5M690.5 1016.2V950M691.5 1215V1148.8M691.5 1082.5V950M692.5 1148.8V950M694.5 1148.8V1016.2M695.5 1082.5V1016.2M697.5 1215V1016.2M698.5 1082.5V950M699.5 1148.8V1082.5M699.5 1016.2V950M700.5 1148.8V1082.5M700.5 1016.2V950M701.5 1215V1082.5M702.5 1215V1016.2M704.5 1148.8V1016.2M705.5 1148.8V1016.2M706.5 1148.8V1082.5M707.5 1148.8V1016.2M709.5 1148.8V1016.2M710.5 1082.5V1016.2M711.5 1148.8V1082.5M712.5 1215V1016.2M713.5 1215V1016.2M714.5 1148.8V1016.2M715.5 1148.8V1016.2M717.5 1215V1016.2M718.5 1215V1082.5M719.5 1215V1082.5M720.5 1215V1148.8M720.5 1082.5V1016.2M721.5 1215V1082.5M722.5 1148.8V1082.5M723.5 1148.8V1016.2M724.5 1281.2V1215M724.5 1082.5V1016.2M725.5 1215V1148.8M726.5 1148.8V950M727.5 1148.8V1082.5M727.5 1016.2V950M728.5 1082.5V950M729.5 1215V1016.2M730.5 1148.8V950M731.5 1215V1082.5M732.5 1082.5V1016.2M733.5 1215V1148.8M733.5 1082.5V950M734.5 1148.8V1016.2M735.5 1082.5V1016.2M736.5 1148.8V1016.2M737.5 1082.5V1016.2M738.5 1148.8V1082.5M739.5 1148.8V1016.2M740.5 1148.8V1082.5M741.5 1148.8V1016.2M742.5 1148.8V1016.2M743.5 1215V1148.8M743.5 1016.2V883.8M744.5 1215V1148.8M744.5 1082.5V950M745.5 1082.5V950M746.5 1148.8V1082.5M746.5 1016.2V950M747.5 1082.5V950M748.5 1148.8V1082.5M749.5 1148.8V950M750.5 1148.8V950M751.5 1148.8V1082.5M752.5 1148.8V950M753.5 1148.8V1016.2M754.5 1082.5V950M755.5 1148.8V1082.5M756.5 1148.8V1082.5M756.5 1016.2V950M757.5 1148.8V1016.2M758.5 1148.8V950M759.5 1082.5V950M760.5 1148.8V1082.5M761.5 1148.8V950M762.5 1215V1016.2M763.5 1148.8V1016.2M763.5 950V883.8M764.5 1082.5V1016.2M764.5 950V883.8M765.5 1082.5V950M766.5 1148.8V950M767.5 1148.8V1082.5M768.5 1082.5V1016.2M769.5 1082.5V950M769.5 883.8V817.5M770.5 1016.2V950M771.5 1148.8V950M772.5 1148.8V1016.2M773.5 1148.8V1016.2M774.5 1148.8V1016.2M775.5 1148.8V1016.2M775.5 950V883.8M776.5 1215V1148.8M776.5 1082.5V1016.2M777.5 1215V1082.5M779.5 1148.8V1016.2M780.5 1082.5V1016.2M781.5 1148.8V1082.5M782.5 1215V950M783.5 1215V1148.8M783.5 1082.5V1016.2M784.5 1215V1082.5M786.5 1082.5V1016.2M787.5 1148.8V1016.2M788.5 1148.8V1082.5M789.5 1215V1016.2M790.5 1215V1148.8M790.5 1082.5V950M791.5 1082.5V950M792.5 1148.8V1016.2M793.5 1148.8V1016.2M794.5 1082.5V950M795.5 1148.8V950M796.5 1148.8V950M797.5 1148.8V1016.2M798.5 1215V1016.2M800.5 1148.8V950M801.5 1082.5V1016.2M802.5 1215V1016.2M803.5 1148.8V950M804.5 1148.8V950" stroke="#008080" stroke-width="1" fill="none"/>
<path d="M193 751.4V1354.0" stroke="#222" stroke-width="2.2" fill="none"/><path d="M186.5 1347.5H927" stroke="#222" stroke-width="2.2" fill="none"/><path d="M181.5 1293.4H193M187 1239.2H193M181.5 1185H193M187 1130.8H193M181.5 1076.6H193M187 1022.4H193M181.5 968.2H193M187 914H193M181.5 859.8H193M187 805.6H193M181.5 751.4H193" stroke="#222" stroke-width="2.2" fill="none"/><path d="M315 1347.5V1359.0M559.8 1347.5V1359.0M804.5 1347.5V1359.0M437.4 1347.5V1353.5M682.1 1347.5V1353.5M926.9 1347.5V1353.5" stroke="#222" stroke-width="2.2" fill="none"/><path d="M920 751.4V1348.5M920 1281.2H931.5M920 1148.8H931.5M920 1016.2H931.5M920 883.8H931.5M920 751.2H931.5M920 1215H926M920 1082.5H926M920 950H926M920 817.5H926" stroke="#0b807d" stroke-width="2.2" fill="none"/>
<text x="0" y="0" font-size="22" text-anchor="end" fill="#111" font-family='"Liberation Sans", sans-serif' font-weight="normal" transform="translate(175 1298.8) scale(1.03 1)">0.0</text>
<text x="0" y="0" font-size="22" text-anchor="end" fill="#111" font-family='"Liberation Sans", sans-serif' font-weight="normal" transform="translate(175 1190.4) scale(1.03 1)">0.2</text>
<text x="0" y="0" font-size="22" text-anchor="end" fill="#111" font-family='"Liberation Sans", sans-serif' font-weight="normal" transform="translate(175 1082) scale(1.03 1)">0.4</text>
<text x="0" y="0" font-size="22" text-anchor="end" fill="#111" font-family='"Liberation Sans", sans-serif' font-weight="normal" transform="translate(175 973.6) scale(1.03 1)">0.6</text>
<text x="0" y="0" font-size="22" text-anchor="end" fill="#111" font-family='"Liberation Sans", sans-serif' font-weight="normal" transform="translate(175 865.2) scale(1.03 1)">0.8</text>
<text x="0" y="0" font-size="22" text-anchor="end" fill="#111" font-family='"Liberation Sans", sans-serif' font-weight="normal" transform="translate(175 756.8) scale(1.03 1)">1.0</text>
<text x="0" y="0" font-size="22" text-anchor="start" fill="#108a86" font-family='"Liberation Sans", sans-serif' font-weight="normal" transform="translate(936.5 1287) scale(1.05 1)">0</text>
<text x="0" y="0" font-size="22" text-anchor="start" fill="#108a86" font-family='"Liberation Sans", sans-serif' font-weight="normal" transform="translate(936.5 1154.5) scale(1.05 1)">2</text>
<text x="0" y="0" font-size="22" text-anchor="start" fill="#108a86" font-family='"Liberation Sans", sans-serif' font-weight="normal" transform="translate(936.5 1022) scale(1.05 1)">4</text>
<text x="0" y="0" font-size="22" text-anchor="start" fill="#108a86" font-family='"Liberation Sans", sans-serif' font-weight="normal" transform="translate(936.5 889.5) scale(1.05 1)">6</text>
<text x="0" y="0" font-size="22" text-anchor="start" fill="#108a86" font-family='"Liberation Sans", sans-serif' font-weight="normal" transform="translate(936.5 757) scale(1.05 1)">8</text>
<text x="0" y="0" font-size="22" text-anchor="middle" fill="#111" font-family='"Liberation Sans", sans-serif' font-weight="normal" transform="translate(315 1382.3) scale(1.05 1)">0</text>
<text x="0" y="0" font-size="22" text-anchor="middle" fill="#111" font-family='"Liberation Sans", sans-serif' font-weight="normal" transform="translate(559.8 1382.3) scale(1.05 1)">5000</text>
<text x="0" y="0" font-size="22" text-anchor="middle" fill="#111" font-family='"Liberation Sans", sans-serif' font-weight="normal" transform="translate(804.5 1382.3) scale(1.05 1)">10000</text>
<text x="0" y="0" font-size="27.8" text-anchor="middle" fill="#111" font-family='"Liberation Sans", sans-serif' font-weight="normal" transform="translate(560.4 1426.4) scale(1.02 1)">Time (ps)</text>
<text x="0" y="0" font-size="28" text-anchor="middle" fill="#111" font-family='"Liberation Sans", sans-serif' font-weight="normal" transform="translate(125.1 1060) rotate(-90) scale(0.99 1)">RMSD (nm)</text>
<text x="0" y="0" font-size="27.5" text-anchor="middle" fill="#111" font-family='"Liberation Sans", sans-serif' font-weight="normal" transform="translate(1002.4 1064) rotate(-90) scale(1.0 1)">No. of H-Bonds</text>
<text x="22.5" y="778" font-size="31" font-family='"Liberation Serif", serif' fill="#111">(<tspan font-weight="bold">b</tspan>)</text>
<rect x="510.5" y="1285" width="401.0" height="55.5" fill="#fff" stroke="#8a8a8a" stroke-width="1.3"/>
<path d="M538 1300H584" stroke="#6a6a6a" stroke-width="1.2"/>
<path d="M538 1326H584" stroke="#9a8ad8" stroke-width="1.2"/>
<text x="0" y="0" font-size="19.5" text-anchor="start" fill="#111" font-family='"Liberation Sans", sans-serif' font-weight="normal" transform="translate(591 1307) scale(1.08 1)">RMSD (E= 0.001 V/nm)</text>
<text x="0" y="0" font-size="19.5" text-anchor="start" fill="#111" font-family='"Liberation Sans", sans-serif' font-weight="normal" transform="translate(591 1333) scale(1.08 1)">No. of H-Bond (E= 0.001 V/nm)</text>
<path d="M311.5 2043L312.00 1869.2L312.25 1863.1L312.50 1854.5L312.75 1872.5L313.00 1880.5L313.25 1880.8L313.50 1866.3L313.75 1866.0L314.00 1876.1L314.25 1868.6L314.50 1858.4L314.75 1866.0L315.00 1891.2L315.25 1876.7L315.50 1865.8L315.75 1872.0L316.00 1867.9L316.25 1879.5L316.50 1873.3L316.75 1871.1L317.00 1862.4L317.25 1861.6L317.50 1861.1L317.75 1852.7L318.00 1860.1L318.25 1887.4L318.50 1893.9L318.75 1877.5L319.00 1865.1L319.25 1877.6L319.50 1874.3L319.75 1855.4L320.00 1857.7L320.25 1876.3L320.50 1878.0L320.75 1872.2L321.00 1868.0L321.25 1848.7L321.50 1837.3L321.75 1853.5L322.00 1865.7L322.25 1843.9L322.50 1866.1L322.75 1842.8L323.00 1844.6L323.25 1851.0L323.50 1837.2L323.75 1827.0L324.00 1828.9L324.25 1811.2L324.50 1806.0L324.75 1828.2L325.00 1814.4L325.25 1829.5L325.50 1810.5L325.75 1803.6L326.00 1798.8L326.25 1802.1L326.50 1806.2L326.75 1797.1L327.00 1811.1L327.25 1786.6L327.50 1798.2L327.75 1787.5L328.00 1782.1L328.25 1794.1L328.50 1792.0L328.75 1793.1L329.00 1784.0L329.25 1787.1L329.50 1802.3L329.75 1794.7L330.00 1798.3L330.25 1786.9L330.50 1804.6L330.75 1799.8L331.00 1798.8L331.25 1797.1L331.50 1824.5L331.75 1826.9L332.00 1835.4L332.25 1840.3L332.50 1830.7L332.75 1806.6L333.00 1818.4L333.25 1833.9L333.50 1811.7L333.75 1858.9L334.00 1849.0L334.25 1857.8L334.50 1856.3L334.75 1851.1L335.00 1854.2L335.25 1865.4L335.50 1880.2L335.75 1853.7L336.00 1851.0L336.25 1855.6L336.50 1879.8L336.75 1859.7L337.00 1863.9L337.25 1873.8L337.50 1867.0L337.75 1857.8L338.00 1854.3L338.25 1837.2L338.50 1855.5L338.75 1852.2L339.00 1838.3L339.25 1838.8L339.50 1835.0L339.75 1849.7L340.00 1817.9L340.25 1814.5L340.50 1846.4L340.75 1837.2L341.00 1808.7L341.25 1807.9L341.50 1815.5L341.75 1801.6L342.00 1811.3L342.25 1797.6L342.50 1794.7L342.75 1775.0L343.00 1774.3L343.25 1775.8L343.50 1769.4L343.75 1770.7L344.00 1787.1L344.25 1751.4L344.50 1763.6L344.75 1769.1L345.00 1766.7L345.25 1774.9L345.50 1756.1L345.75 1788.7L346.00 1770.7L346.25 1779.0L346.50 1779.0L346.75 1772.3L347.00 1766.2L347.25 1790.3L347.50 1770.5L347.75 1791.8L348.00 1774.7L348.25 1793.4L348.50 1798.2L348.75 1783.4L349.00 1777.5L349.25 1772.0L349.50 1792.1L349.75 1794.5L350.00 1811.4L350.25 1818.2L350.50 1806.5L350.75 1817.5L351.00 1814.8L351.25 1809.2L351.50 1821.6L351.75 1815.5L352.00 1796.6L352.25 1803.5L352.50 1800.6L352.75 1805.4L353.00 1808.0L353.25 1785.3L353.50 1820.5L353.75 1819.6L354.00 1832.8L354.25 1817.7L354.50 1799.3L354.75 1822.6L355.00 1821.0L355.25 1804.4L355.50 1808.2L355.75 1783.8L356.00 1793.4L356.25 1795.6L356.50 1777.1L356.75 1792.2L357.00 1786.0L357.25 1798.5L357.50 1786.1L357.75 1784.6L358.00 1781.3L358.25 1777.7L358.50 1805.7L358.75 1799.5L359.00 1817.4L359.25 1800.2L359.50 1808.6L359.75 1824.2L360.00 1826.6L360.25 1812.2L360.50 1820.5L360.75 1801.6L361.00 1841.3L361.25 1839.7L361.50 1846.3L361.75 1850.9L362.00 1839.6L362.25 1837.3L362.50 1866.7L362.75 1862.5L363.00 1856.3L363.25 1871.6L363.50 1872.3L363.75 1851.4L364.00 1857.2L364.25 1864.8L364.50 1860.2L364.75 1854.7L365.00 1863.4L365.25 1864.9L365.50 1878.4L365.75 1881.9L366.00 1871.0L366.25 1861.6L366.50 1871.9L366.75 1862.8L367.00 1853.5L367.25 1844.8L367.50 1836.3L367.75 1850.0L368.00 1825.7L368.25 1817.5L368.50 1837.3L368.75 1858.0L369.00 1839.8L369.25 1857.1L369.50 1841.1L369.75 1845.2L370.00 1832.0L370.25 1825.2L370.50 1830.0L370.75 1820.6L371.00 1816.5L371.25 1828.0L371.50 1836.7L371.75 1815.5L372.00 1818.5L372.25 1794.5L372.50 1809.0L372.75 1805.5L373.00 1812.1L373.25 1803.2L373.50 1800.9L373.75 1827.7L374.00 1805.4L374.25 1794.7L374.50 1795.1L374.75 1811.8L375.00 1794.3L375.25 1802.3L375.50 1813.0L375.75 1799.2L376.00 1798.2L376.25 1791.1L376.50 1789.9L376.75 1788.7L377.00 1781.3L377.25 1786.5L377.50 1800.3L377.75 1799.2L378.00 1798.9L378.25 1799.6L378.50 1793.7L378.75 1783.4L379.00 1800.6L379.25 1788.4L379.50 1779.9L379.75 1787.6L380.00 1750.0L380.25 1785.8L380.50 1782.5L380.75 1770.5L381.00 1760.1L381.25 1758.6L381.50 1779.9L381.75 1778.7L382.00 1763.6L382.25 1766.5L382.50 1785.4L382.75 1786.0L383.00 1785.3L383.25 1788.1L383.50 1763.3L383.75 1756.8L384.00 1771.4L384.25 1770.9L384.50 1758.5L384.75 1753.9L385.00 1757.4L385.25 1764.2L385.50 1767.0L385.75 1762.1L386.00 1796.1L386.25 1784.8L386.50 1767.5L386.75 1783.1L387.00 1797.5L387.25 1794.4L387.50 1767.7L387.75 1762.4L388.00 1791.0L388.25 1777.8L388.50 1752.0L388.75 1774.4L389.00 1751.8L389.25 1745.2L389.50 1749.2L389.75 1763.2L390.00 1765.2L390.25 1755.5L390.50 1749.5L390.75 1732.9L391.00 1733.1L391.25 1746.5L391.50 1751.2L391.75 1742.8L392.00 1733.3L392.25 1755.4L392.50 1735.9L392.75 1755.4L393.00 1730.4L393.25 1729.8L393.50 1734.4L393.75 1724.8L394.00 1734.7L394.25 1750.9L394.50 1733.5L394.75 1725.4L395.00 1740.8L395.25 1723.2L395.50 1741.9L395.75 1739.5L396.00 1741.0L396.25 1746.0L396.50 1741.9L396.75 1755.6L397.00 1746.0L397.25 1759.3L397.50 1750.0L397.75 1761.1L398.00 1730.9L398.25 1739.1L398.50 1733.6L398.75 1729.3L399.00 1733.3L399.25 1724.4L399.50 1743.2L399.75 1743.1L400.00 1735.2L400.25 1761.4L400.50 1741.4L400.75 1754.7L401.00 1752.2L401.25 1741.2L401.50 1756.5L401.75 1728.4L402.00 1748.6L402.25 1721.0L402.50 1745.7L402.75 1759.1L403.00 1764.8L403.25 1746.3L403.50 1733.6L403.75 1766.4L404.00 1750.1L404.25 1752.7L404.50 1757.5L404.75 1739.2L405.00 1765.7L405.25 1753.8L405.50 1729.3L405.75 1741.4L406.00 1717.1L406.25 1722.3L406.50 1720.7L406.75 1733.3L407.00 1748.0L407.25 1722.3L407.50 1715.3L407.75 1710.0L408.00 1732.7L408.25 1744.9L408.50 1751.1L408.75 1720.2L409.00 1742.5L409.25 1748.2L409.50 1737.4L409.75 1714.7L410.00 1706.0L410.25 1708.0L410.50 1707.4L410.75 1689.8L411.00 1741.8L411.25 1719.1L411.50 1713.9L411.75 1721.4L412.00 1717.6L412.25 1726.1L412.50 1721.1L412.75 1737.0L413.00 1729.7L413.25 1714.8L413.50 1717.9L413.75 1717.7L414.00 1738.7L414.25 1721.8L414.50 1744.9L414.75 1749.2L415.00 1740.9L415.25 1752.9L415.50 1754.4L415.75 1756.7L416.00 1760.1L416.25 1757.9L416.50 1756.4L416.75 1753.3L417.00 1765.4L417.25 1768.7L417.50 1774.7L417.75 1775.4L418.00 1797.8L418.25 1785.1L418.50 1787.8L418.75 1781.4L419.00 1803.1L419.25 1782.1L419.50 1781.5L419.75 1791.8L420.00 1807.0L420.25 1788.7L420.50 1784.6L420.75 1769.8L421.00 1786.3L421.25 1778.8L421.50 1784.8L421.75 1788.0L422.00 1787.1L422.25 1784.7L422.50 1773.1L422.75 1772.8L423.00 1779.8L423.25 1770.8L423.50 1767.4L423.75 1757.8L424.00 1755.5L424.25 1776.0L424.50 1759.6L424.75 1776.0L425.00 1751.5L425.25 1760.8L425.50 1736.1L425.75 1739.4L426.00 1758.7L426.25 1758.3L426.50 1750.1L426.75 1746.5L427.00 1744.6L427.25 1743.9L427.50 1758.1L427.75 1743.6L428.00 1744.7L428.25 1769.3L428.50 1757.3L428.75 1735.7L429.00 1753.3L429.25 1756.1L429.50 1768.0L429.75 1731.4L430.00 1724.8L430.25 1729.0L430.50 1743.3L430.75 1738.5L431.00 1731.8L431.25 1731.0L431.50 1743.8L431.75 1744.3L432.00 1735.2L432.25 1731.3L432.50 1725.3L432.75 1743.5L433.00 1733.0L433.25 1741.6L433.50 1740.3L433.75 1728.9L434.00 1722.1L434.25 1734.2L434.50 1730.3L434.75 1712.1L435.00 1732.1L435.25 1715.0L435.50 1719.0L435.75 1733.3L436.00 1709.6L436.25 1718.2L436.50 1728.8L436.75 1726.9L437.00 1707.9L437.25 1705.3L437.50 1697.8L437.75 1695.9L438.00 1719.1L438.25 1684.9L438.50 1698.5L438.75 1689.4L439.00 1689.7L439.25 1691.4L439.50 1669.9L439.75 1676.5L440.00 1681.1L440.25 1681.8L440.50 1694.9L440.75 1689.0L441.00 1694.3L441.25 1686.8L441.50 1702.3L441.75 1683.9L442.00 1695.1L442.25 1683.7L442.50 1693.2L442.75 1678.1L443.00 1673.6L443.25 1695.4L443.50 1711.5L443.75 1705.8L444.00 1697.2L444.25 1691.2L444.50 1693.8L444.75 1695.8L445.00 1710.5L445.25 1713.1L445.50 1693.9L445.75 1687.5L446.00 1677.4L446.25 1690.2L446.50 1680.4L446.75 1696.5L447.00 1684.1L447.25 1688.9L447.50 1678.7L447.75 1682.6L448.00 1691.3L448.25 1678.3L448.50 1680.4L448.75 1666.5L449.00 1659.5L449.25 1660.0L449.50 1685.4L449.75 1674.0L450.00 1654.3L450.25 1659.1L450.50 1672.1L450.75 1663.1L451.00 1641.1L451.25 1656.6L451.50 1654.4L451.75 1666.3L452.00 1659.4L452.25 1668.6L452.50 1654.0L452.75 1651.0L453.00 1664.3L453.25 1661.2L453.50 1657.0L453.75 1643.5L454.00 1634.5L454.25 1649.4L454.50 1650.9L454.75 1649.5L455.00 1654.8L455.25 1650.4L455.50 1647.4L455.75 1633.9L456.00 1625.8L456.25 1627.8L456.50 1617.5L456.75 1620.0L457.00 1609.7L457.25 1620.8L457.50 1607.0L457.75 1602.8L458.00 1613.3L458.25 1603.1L458.50 1583.0L458.75 1592.7L459.00 1599.7L459.25 1585.1L459.50 1594.6L459.75 1592.3L460.00 1601.1L460.25 1609.3L460.50 1595.0L460.75 1618.4L461.00 1602.6L461.25 1611.0L461.50 1607.4L461.75 1616.8L462.00 1621.9L462.25 1630.9L462.50 1628.5L462.75 1614.2L463.00 1606.9L463.25 1599.9L463.50 1585.9L463.75 1591.3L464.00 1592.4L464.25 1612.6L464.50 1617.0L464.75 1624.4L465.00 1594.8L465.25 1591.9L465.50 1588.5L465.75 1590.3L466.00 1608.0L466.25 1612.4L466.50 1594.1L466.75 1592.9L467.00 1616.5L467.25 1621.4L467.50 1608.0L467.75 1602.6L468.00 1611.7L468.25 1616.4L468.50 1608.1L468.75 1612.5L469.00 1600.4L469.25 1604.6L469.50 1611.5L469.75 1620.4L470.00 1633.2L470.25 1630.6L470.50 1622.3L470.75 1595.8L471.00 1599.6L471.25 1620.5L471.50 1610.6L471.75 1608.2L472.00 1630.8L472.25 1624.0L472.50 1632.0L472.75 1650.3L473.00 1627.4L473.25 1632.6L473.50 1630.3L473.75 1637.8L474.00 1634.2L474.25 1633.1L474.50 1641.4L474.75 1641.9L475.00 1649.6L475.25 1634.4L475.50 1646.3L475.75 1632.2L476.00 1637.0L476.25 1651.4L476.50 1639.3L476.75 1639.1L477.00 1654.3L477.25 1659.0L477.50 1664.6L477.75 1637.8L478.00 1636.0L478.25 1657.0L478.50 1645.3L478.75 1644.1L479.00 1648.8L479.25 1657.4L479.50 1655.5L479.75 1665.2L480.00 1668.4L480.25 1659.4L480.50 1666.9L480.75 1663.6L481.00 1664.7L481.25 1671.7L481.50 1675.4L481.75 1651.5L482.00 1685.4L482.25 1691.0L482.50 1675.9L482.75 1677.1L483.00 1675.1L483.25 1673.2L483.50 1686.3L483.75 1686.2L484.00 1693.3L484.25 1688.4L484.50 1684.8L484.75 1676.3L485.00 1699.9L485.25 1697.6L485.50 1710.4L485.75 1699.4L486.00 1686.7L486.25 1701.3L486.50 1708.6L486.75 1716.9L487.00 1708.3L487.25 1712.3L487.50 1700.9L487.75 1709.8L488.00 1758.1L488.25 1727.6L488.50 1730.4L488.75 1729.5L489.00 1730.6L489.25 1733.7L489.50 1735.6L489.75 1741.8L490.00 1741.7L490.25 1741.8L490.50 1736.9L490.75 1744.2L491.00 1738.4L491.25 1724.9L491.50 1720.0L491.75 1726.9L492.00 1732.3L492.25 1729.1L492.50 1732.4L492.75 1735.0L493.00 1694.3L493.25 1710.0L493.50 1725.4L493.75 1728.8L494.00 1697.4L494.25 1701.7L494.50 1686.0L494.75 1706.7L495.00 1698.7L495.25 1708.5L495.50 1701.5L495.75 1691.3L496.00 1678.5L496.25 1681.2L496.50 1702.7L496.75 1716.5L497.00 1705.6L497.25 1702.3L497.50 1669.4L497.75 1694.8L498.00 1706.2L498.25 1706.8L498.50 1742.5L498.75 1709.0L499.00 1709.3L499.25 1712.5L499.50 1723.4L499.75 1711.1L500.00 1726.1L500.25 1692.7L500.50 1726.4L500.75 1722.2L501.00 1711.2L501.25 1733.4L501.50 1712.2L501.75 1720.6L502.00 1705.6L502.25 1710.9L502.50 1730.5L502.75 1713.7L503.00 1703.8L503.25 1711.7L503.50 1721.6L503.75 1729.4L504.00 1720.8L504.25 1725.8L504.50 1723.8L504.75 1712.5L505.00 1712.3L505.25 1723.0L505.50 1715.0L505.75 1710.5L506.00 1692.0L506.25 1705.9L506.50 1718.4L506.75 1718.3L507.00 1692.7L507.25 1704.6L507.50 1671.3L507.75 1671.6L508.00 1667.9L508.25 1670.5L508.50 1656.7L508.75 1652.8L509.00 1676.3L509.25 1664.9L509.50 1666.7L509.75 1674.8L510.00 1670.4L510.25 1687.5L510.50 1655.2L510.75 1653.8L511.00 1654.9L511.25 1660.7L511.50 1651.9L511.75 1654.0L512.00 1663.0L512.25 1652.5L512.50 1659.6L512.75 1634.9L513.00 1656.3L513.25 1644.6L513.50 1616.8L513.75 1627.6L514.00 1636.4L514.25 1624.3L514.50 1629.1L514.75 1619.1L515.00 1620.2L515.25 1623.0L515.50 1613.3L515.75 1606.8L516.00 1605.0L516.25 1608.5L516.50 1612.3L516.75 1614.4L517.00 1603.1L517.25 1610.7L517.50 1601.4L517.75 1609.1L518.00 1622.2L518.25 1617.9L518.50 1606.1L518.75 1595.4L519.00 1602.4L519.25 1613.7L519.50 1595.4L519.75 1620.5L520.00 1629.7L520.25 1604.9L520.50 1621.8L520.75 1632.0L521.00 1609.5L521.25 1627.7L521.50 1636.4L521.75 1620.9L522.00 1638.8L522.25 1644.8L522.50 1622.8L522.75 1615.2L523.00 1627.3L523.25 1642.3L523.50 1622.7L523.75 1615.5L524.00 1652.1L524.25 1679.8L524.50 1667.3L524.75 1645.8L525.00 1654.2L525.25 1667.9L525.50 1657.5L525.75 1648.9L526.00 1638.7L526.25 1645.8L526.50 1655.8L526.75 1674.9L527.00 1664.6L527.25 1677.1L527.50 1683.7L527.75 1659.2L528.00 1681.0L528.25 1699.5L528.50 1702.1L528.75 1684.8L529.00 1686.8L529.25 1694.4L529.50 1710.7L529.75 1716.9L530.00 1701.5L530.25 1684.6L530.50 1676.7L530.75 1672.8L531.00 1694.6L531.25 1723.0L531.50 1714.5L531.75 1719.3L532.00 1724.2L532.25 1721.3L532.50 1722.7L532.75 1724.6L533.00 1728.9L533.25 1698.7L533.50 1715.8L533.75 1746.5L534.00 1710.1L534.25 1729.8L534.50 1743.5L534.75 1759.3L535.00 1743.9L535.25 1739.7L535.50 1721.7L535.75 1751.7L536.00 1756.6L536.25 1741.5L536.50 1735.2L536.75 1734.0L537.00 1746.7L537.25 1744.9L537.50 1753.6L537.75 1748.9L538.00 1750.8L538.25 1745.5L538.50 1746.7L538.75 1763.2L539.00 1752.8L539.25 1756.5L539.50 1754.7L539.75 1780.2L540.00 1775.1L540.25 1752.4L540.50 1755.8L540.75 1761.1L541.00 1754.2L541.25 1768.8L541.50 1780.4L541.75 1785.2L542.00 1785.8L542.25 1775.4L542.50 1778.7L542.75 1770.3L543.00 1767.6L543.25 1763.3L543.50 1777.5L543.75 1781.1L544.00 1787.4L544.25 1781.8L544.50 1784.5L544.75 1771.9L545.00 1768.2L545.25 1765.5L545.50 1780.9L545.75 1773.5L546.00 1783.9L546.25 1775.2L546.50 1765.2L546.75 1789.1L547.00 1773.5L547.25 1769.1L547.50 1777.5L547.75 1773.7L548.00 1775.6L548.25 1770.1L548.50 1766.8L548.75 1763.3L549.00 1765.6L549.25 1755.2L549.50 1734.3L549.75 1754.8L550.00 1728.0L550.25 1750.3L550.50 1758.7L550.75 1740.4L551.00 1753.6L551.25 1750.9L551.50 1750.3L551.75 1749.9L552.00 1757.4L552.25 1745.8L552.50 1743.9L552.75 1755.8L553.00 1766.2L553.25 1746.5L553.50 1755.8L553.75 1767.9L554.00 1763.8L554.25 1760.8L554.50 1764.8L554.75 1751.7L555.00 1764.7L555.25 1765.1L555.50 1753.2L555.75 1752.9L556.00 1758.0L556.25 1763.6L556.50 1757.8L556.75 1757.5L557.00 1745.8L557.25 1739.2L557.50 1754.0L557.75 1764.5L558.00 1758.4L558.25 1765.3L558.50 1744.8L558.75 1768.7L559.00 1764.4L559.25 1753.1L559.50 1776.9L559.75 1764.3L560.00 1762.2L560.25 1770.8L560.50 1774.0L560.75 1764.9L561.00 1770.3L561.25 1749.5L561.50 1764.2L561.75 1766.3L562.00 1760.5L562.25 1763.5L562.50 1754.9L562.75 1775.2L563.00 1762.8L563.25 1772.0L563.50 1737.6L563.75 1735.5L564.00 1776.9L564.25 1755.7L564.50 1766.2L564.75 1746.4L565.00 1739.7L565.25 1756.0L565.50 1763.3L565.75 1751.3L566.00 1762.8L566.25 1752.1L566.50 1751.8L566.75 1745.0L567.00 1762.8L567.25 1738.7L567.50 1732.7L567.75 1721.8L568.00 1725.5L568.25 1733.9L568.50 1729.6L568.75 1731.6L569.00 1727.7L569.25 1737.4L569.50 1713.4L569.75 1714.0L570.00 1721.7L570.25 1722.0L570.50 1719.8L570.75 1734.0L571.00 1719.3L571.25 1710.4L571.50 1727.2L571.75 1714.3L572.00 1716.4L572.25 1715.7L572.50 1717.9L572.75 1733.2L573.00 1708.0L573.25 1690.9L573.50 1707.3L573.75 1709.8L574.00 1713.3L574.25 1718.4L574.50 1698.3L574.75 1698.8L575.00 1697.6L575.25 1691.1L575.50 1685.7L575.75 1686.3L576.00 1702.9L576.25 1710.0L576.50 1713.2L576.75 1715.3L577.00 1709.2L577.25 1695.3L577.50 1677.2L577.75 1691.0L578.00 1687.7L578.25 1675.1L578.50 1684.7L578.75 1682.1L579.00 1687.2L579.25 1680.7L579.50 1701.4L579.75 1701.6L580.00 1690.7L580.25 1696.8L580.50 1710.3L580.75 1704.2L581.00 1702.7L581.25 1675.6L581.50 1685.1L581.75 1688.1L582.00 1689.6L582.25 1690.0L582.50 1689.6L582.75 1690.6L583.00 1699.7L583.25 1706.0L583.50 1703.9L583.75 1684.5L584.00 1700.4L584.25 1670.7L584.50 1710.9L584.75 1684.2L585.00 1683.5L585.25 1715.8L585.50 1687.3L585.75 1680.3L586.00 1707.6L586.25 1697.9L586.50 1684.9L586.75 1714.4L587.00 1710.1L587.25 1697.5L587.50 1699.2L587.75 1709.2L588.00 1705.4L588.25 1683.0L588.50 1698.4L588.75 1710.1L589.00 1721.9L589.25 1719.5L589.50 1736.4L589.75 1744.8L590.00 1706.5L590.25 1708.0L590.50 1689.2L590.75 1702.7L591.00 1705.8L591.25 1725.3L591.50 1736.9L591.75 1745.5L592.00 1749.7L592.25 1734.1L592.50 1726.7L592.75 1710.5L593.00 1727.0L593.25 1729.3L593.50 1738.8L593.75 1712.0L594.00 1746.7L594.25 1720.2L594.50 1721.7L594.75 1715.7L595.00 1732.6L595.25 1713.8L595.50 1732.0L595.75 1711.8L596.00 1703.4L596.25 1711.9L596.50 1696.6L596.75 1688.3L597.00 1696.6L597.25 1712.8L597.50 1691.2L597.75 1689.7L598.00 1695.9L598.25 1685.9L598.50 1686.0L598.75 1692.2L599.00 1708.1L599.25 1689.5L599.50 1682.1L599.75 1684.6L600.00 1716.6L600.25 1678.2L600.50 1688.2L600.75 1689.6L601.00 1679.3L601.25 1679.1L601.50 1683.1L601.75 1669.1L602.00 1683.0L602.25 1687.2L602.50 1672.6L602.75 1673.2L603.00 1650.8L603.25 1678.5L603.50 1665.6L603.75 1660.4L604.00 1680.1L604.25 1654.8L604.50 1660.6L604.75 1646.3L605.00 1639.7L605.25 1631.3L605.50 1660.3L605.75 1654.5L606.00 1641.5L606.25 1633.3L606.50 1641.9L606.75 1647.6L607.00 1639.1L607.25 1644.4L607.50 1664.7L607.75 1650.9L608.00 1649.0L608.25 1647.5L608.50 1658.2L608.75 1655.0L609.00 1660.7L609.25 1690.1L609.50 1687.1L609.75 1686.9L610.00 1690.7L610.25 1691.3L610.50 1705.0L610.75 1708.1L611.00 1709.8L611.25 1713.4L611.50 1724.3L611.75 1733.4L612.00 1724.4L612.25 1734.2L612.50 1732.8L612.75 1732.0L613.00 1728.1L613.25 1750.7L613.50 1747.4L613.75 1729.9L614.00 1727.6L614.25 1744.6L614.50 1736.2L614.75 1747.6L615.00 1727.4L615.25 1747.3L615.50 1729.8L615.75 1722.6L616.00 1708.2L616.25 1741.6L616.50 1729.5L616.75 1732.0L617.00 1728.6L617.25 1709.7L617.50 1702.1L617.75 1714.3L618.00 1700.6L618.25 1699.7L618.50 1687.3L618.75 1692.6L619.00 1690.3L619.25 1669.4L619.50 1687.5L619.75 1695.6L620.00 1688.2L620.25 1679.3L620.50 1662.2L620.75 1656.7L621.00 1640.1L621.25 1663.3L621.50 1643.7L621.75 1651.7L622.00 1649.9L622.25 1665.3L622.50 1675.1L622.75 1656.7L623.00 1635.0L623.25 1647.7L623.50 1653.1L623.75 1650.2L624.00 1665.5L624.25 1668.9L624.50 1651.0L624.75 1635.5L625.00 1661.4L625.25 1639.2L625.50 1644.1L625.75 1636.1L626.00 1651.5L626.25 1641.1L626.50 1639.7L626.75 1654.6L627.00 1627.6L627.25 1650.5L627.50 1633.6L627.75 1631.2L628.00 1609.4L628.25 1613.4L628.50 1630.1L628.75 1594.8L629.00 1605.7L629.25 1619.9L629.50 1600.1L629.75 1607.1L630.00 1612.2L630.25 1608.9L630.50 1595.9L630.75 1594.5L631.00 1575.8L631.25 1576.9L631.50 1584.9L631.75 1583.8L632.00 1578.4L632.25 1575.5L632.50 1600.6L632.75 1578.4L633.00 1580.8L633.25 1609.3L633.50 1623.9L633.75 1585.9L634.00 1597.4L634.25 1601.7L634.50 1589.0L634.75 1591.3L635.00 1601.4L635.25 1603.1L635.50 1609.2L635.75 1610.8L636.00 1607.5L636.25 1602.0L636.50 1620.7L636.75 1603.2L637.00 1599.8L637.25 1605.6L637.50 1593.9L637.75 1620.6L638.00 1619.2L638.25 1629.4L638.50 1622.8L638.75 1642.1L639.00 1624.2L639.25 1623.5L639.50 1639.8L639.75 1637.8L640.00 1631.1L640.25 1632.6L640.50 1631.5L640.75 1637.9L641.00 1655.4L641.25 1643.2L641.50 1634.1L641.75 1648.4L642.00 1654.7L642.25 1642.2L642.50 1647.3L642.75 1651.8L643.00 1654.0L643.25 1645.0L643.50 1650.2L643.75 1655.2L644.00 1665.3L644.25 1645.1L644.50 1661.2L644.75 1631.5L645.00 1651.0L645.25 1657.1L645.50 1661.3L645.75 1662.7L646.00 1670.7L646.25 1678.5L646.50 1682.0L646.75 1681.2L647.00 1678.7L647.25 1656.5L647.50 1664.0L647.75 1671.8L648.00 1673.7L648.25 1656.4L648.50 1696.7L648.75 1655.8L649.00 1681.5L649.25 1698.1L649.50 1680.1L649.75 1680.0L650.00 1681.9L650.25 1670.9L650.50 1665.9L650.75 1688.8L651.00 1674.3L651.25 1671.9L651.50 1661.2L651.75 1678.7L652.00 1659.8L652.25 1661.1L652.50 1655.7L652.75 1632.0L653.00 1664.8L653.25 1674.2L653.50 1660.7L653.75 1644.5L654.00 1674.9L654.25 1657.2L654.50 1658.1L654.75 1658.6L655.00 1668.6L655.25 1663.0L655.50 1681.8L655.75 1664.9L656.00 1688.1L656.25 1678.9L656.50 1677.5L656.75 1700.7L657.00 1670.7L657.25 1678.0L657.50 1693.5L657.75 1669.9L658.00 1683.4L658.25 1670.7L658.50 1674.8L658.75 1688.7L659.00 1680.7L659.25 1686.4L659.50 1688.1L659.75 1658.3L660.00 1673.0L660.25 1682.2L660.50 1666.6L660.75 1668.2L661.00 1682.8L661.25 1695.1L661.50 1675.0L661.75 1682.9L662.00 1670.9L662.25 1673.3L662.50 1669.6L662.75 1691.2L663.00 1688.0L663.25 1672.4L663.50 1676.2L663.75 1671.7L664.00 1686.1L664.25 1672.5L664.50 1674.5L664.75 1653.1L665.00 1668.6L665.25 1665.8L665.50 1677.9L665.75 1679.2L666.00 1690.9L666.25 1667.4L666.50 1661.1L666.75 1665.0L667.00 1645.6L667.25 1649.5L667.50 1661.7L667.75 1657.0L668.00 1647.1L668.25 1638.9L668.50 1624.6L668.75 1630.2L669.00 1643.0L669.25 1630.8L669.50 1624.8L669.75 1628.0L670.00 1616.5L670.25 1602.5L670.50 1622.9L670.75 1617.6L671.00 1629.1L671.25 1645.5L671.50 1639.3L671.75 1617.0L672.00 1634.1L672.25 1630.6L672.50 1634.2L672.75 1635.3L673.00 1626.6L673.25 1663.4L673.50 1621.5L673.75 1644.1L674.00 1622.5L674.25 1637.9L674.50 1638.8L674.75 1634.1L675.00 1647.7L675.25 1636.3L675.50 1638.9L675.75 1624.2L676.00 1657.9L676.25 1634.6L676.50 1620.3L676.75 1633.9L677.00 1604.1L677.25 1637.5L677.50 1629.9L677.75 1650.0L678.00 1633.4L678.25 1646.9L678.50 1652.8L678.75 1614.3L679.00 1625.0L679.25 1621.4L679.50 1618.6L679.75 1628.9L680.00 1640.7L680.25 1605.5L680.50 1605.4L680.75 1617.5L681.00 1615.9L681.25 1613.9L681.50 1622.3L681.75 1599.6L682.00 1609.2L682.25 1616.2L682.50 1603.9L682.75 1629.1L683.00 1609.7L683.25 1598.7L683.50 1592.4L683.75 1608.4L684.00 1601.9L684.25 1599.5L684.50 1578.2L684.75 1564.6L685.00 1575.2L685.25 1576.0L685.50 1575.7L685.75 1586.8L686.00 1569.4L686.25 1587.9L686.50 1579.3L686.75 1578.4L687.00 1586.4L687.25 1590.4L687.50 1575.1L687.75 1578.9L688.00 1579.4L688.25 1591.5L688.50 1579.2L688.75 1566.9L689.00 1598.9L689.25 1580.9L689.50 1597.6L689.75 1599.2L690.00 1610.9L690.25 1593.9L690.50 1596.5L690.75 1600.2L691.00 1604.4L691.25 1590.1L691.50 1598.4L691.75 1597.6L692.00 1604.3L692.25 1597.5L692.50 1611.5L692.75 1624.0L693.00 1627.5L693.25 1633.1L693.50 1621.9L693.75 1612.5L694.00 1631.2L694.25 1636.6L694.50 1618.6L694.75 1608.3L695.00 1618.6L695.25 1625.8L695.50 1649.3L695.75 1650.9L696.00 1627.0L696.25 1642.0L696.50 1637.9L696.75 1620.1L697.00 1622.7L697.25 1608.6L697.50 1619.6L697.75 1623.4L698.00 1628.8L698.25 1609.2L698.50 1617.7L698.75 1620.3L699.00 1605.6L699.25 1597.0L699.50 1603.0L699.75 1617.3L700.00 1583.1L700.25 1587.4L700.50 1605.1L700.75 1594.7L701.00 1570.8L701.25 1570.5L701.50 1591.0L701.75 1576.2L702.00 1594.9L702.25 1585.8L702.50 1602.4L702.75 1602.7L703.00 1613.1L703.25 1615.2L703.50 1623.3L703.75 1617.3L704.00 1634.0L704.25 1614.7L704.50 1622.0L704.75 1621.5L705.00 1627.5L705.25 1618.4L705.50 1610.8L705.75 1600.8L706.00 1609.4L706.25 1597.8L706.50 1597.1L706.75 1595.1L707.00 1608.6L707.25 1624.3L707.50 1625.4L707.75 1624.9L708.00 1628.1L708.25 1602.7L708.50 1626.5L708.75 1629.4L709.00 1637.7L709.25 1606.6L709.50 1620.9L709.75 1630.0L710.00 1609.1L710.25 1608.3L710.50 1627.9L710.75 1613.0L711.00 1626.5L711.25 1624.9L711.50 1629.0L711.75 1630.9L712.00 1602.0L712.25 1632.3L712.50 1626.7L712.75 1624.9L713.00 1605.6L713.25 1634.1L713.50 1627.0L713.75 1623.5L714.00 1633.1L714.25 1646.7L714.50 1638.1L714.75 1605.7L715.00 1632.3L715.25 1624.2L715.50 1616.4L715.75 1649.6L716.00 1622.2L716.25 1605.3L716.50 1613.3L716.75 1629.9L717.00 1638.0L717.25 1648.2L717.50 1629.2L717.75 1642.7L718.00 1632.4L718.25 1631.6L718.50 1624.0L718.75 1626.4L719.00 1626.1L719.25 1619.2L719.50 1633.5L719.75 1625.4L720.00 1634.0L720.25 1649.7L720.50 1650.6L720.75 1644.8L721.00 1653.2L721.25 1640.2L721.50 1650.3L721.75 1635.3L722.00 1631.0L722.25 1655.8L722.50 1680.7L722.75 1663.2L723.00 1663.1L723.25 1661.2L723.50 1662.9L723.75 1663.3L724.00 1666.3L724.25 1680.7L724.50 1656.7L724.75 1674.1L725.00 1650.1L725.25 1664.3L725.50 1665.3L725.75 1674.2L726.00 1663.8L726.25 1665.1L726.50 1662.5L726.75 1655.1L727.00 1680.0L727.25 1663.8L727.50 1668.8L727.75 1661.9L728.00 1672.8L728.25 1654.9L728.50 1683.3L728.75 1679.6L729.00 1685.4L729.25 1699.2L729.50 1704.1L729.75 1700.5L730.00 1681.2L730.25 1685.0L730.50 1697.1L730.75 1710.4L731.00 1717.3L731.25 1723.7L731.50 1710.5L731.75 1705.2L732.00 1715.0L732.25 1705.0L732.50 1698.4L732.75 1701.5L733.00 1714.9L733.25 1713.8L733.50 1727.3L733.75 1720.7L734.00 1723.4L734.25 1710.4L734.50 1703.7L734.75 1710.0L735.00 1706.0L735.25 1683.2L735.50 1721.9L735.75 1711.8L736.00 1727.0L736.25 1718.8L736.50 1696.4L736.75 1713.1L737.00 1698.7L737.25 1714.5L737.50 1698.0L737.75 1694.9L738.00 1683.7L738.25 1662.1L738.50 1673.8L738.75 1679.2L739.00 1673.3L739.25 1660.5L739.50 1672.8L739.75 1671.0L740.00 1642.7L740.25 1633.4L740.50 1641.8L740.75 1649.7L741.00 1658.3L741.25 1662.1L741.50 1645.5L741.75 1640.7L742.00 1640.0L742.25 1633.9L742.50 1628.3L742.75 1620.8L743.00 1633.6L743.25 1618.9L743.50 1607.5L743.75 1612.5L744.00 1632.1L744.25 1630.0L744.50 1608.9L744.75 1614.9L745.00 1609.8L745.25 1616.5L745.50 1639.5L745.75 1620.0L746.00 1609.6L746.25 1636.4L746.50 1640.6L746.75 1623.6L747.00 1626.9L747.25 1618.8L747.50 1629.1L747.75 1623.2L748.00 1619.0L748.25 1609.9L748.50 1624.2L748.75 1636.5L749.00 1621.9L749.25 1645.4L749.50 1649.9L749.75 1656.0L750.00 1640.0L750.25 1628.7L750.50 1614.4L750.75 1631.2L751.00 1643.8L751.25 1648.0L751.50 1629.7L751.75 1655.1L752.00 1649.2L752.25 1614.9L752.50 1627.6L752.75 1629.3L753.00 1647.2L753.25 1631.5L753.50 1629.3L753.75 1641.1L754.00 1649.5L754.25 1658.5L754.50 1646.7L754.75 1638.6L755.00 1637.0L755.25 1664.0L755.50 1664.1L755.75 1635.8L756.00 1653.9L756.25 1657.6L756.50 1653.7L756.75 1669.4L757.00 1667.7L757.25 1662.2L757.50 1649.7L757.75 1653.4L758.00 1656.6L758.25 1672.9L758.50 1665.7L758.75 1663.9L759.00 1671.3L759.25 1668.3L759.50 1662.5L759.75 1680.9L760.00 1673.0L760.25 1694.5L760.50 1681.6L760.75 1683.4L761.00 1703.8L761.25 1697.4L761.50 1692.7L761.75 1698.5L762.00 1692.2L762.25 1706.8L762.50 1693.2L762.75 1702.9L763.00 1697.2L763.25 1691.3L763.50 1711.6L763.75 1710.4L764.00 1707.5L764.25 1703.1L764.50 1711.9L764.75 1710.4L765.00 1701.1L765.25 1715.1L765.50 1698.0L765.75 1702.0L766.00 1701.2L766.25 1684.1L766.50 1685.2L766.75 1684.5L767.00 1686.1L767.25 1678.1L767.50 1693.0L767.75 1674.0L768.00 1691.3L768.25 1686.5L768.50 1683.4L768.75 1693.7L769.00 1694.9L769.25 1693.9L769.50 1676.9L769.75 1672.5L770.00 1663.6L770.25 1672.4L770.50 1671.9L770.75 1658.2L771.00 1681.9L771.25 1677.5L771.50 1644.4L771.75 1648.9L772.00 1647.2L772.25 1656.0L772.50 1632.1L772.75 1659.2L773.00 1646.6L773.25 1649.3L773.50 1657.3L773.75 1643.6L774.00 1633.5L774.25 1666.2L774.50 1645.6L774.75 1645.9L775.00 1635.7L775.25 1630.1L775.50 1630.7L775.75 1619.5L776.00 1650.0L776.25 1631.3L776.50 1631.9L776.75 1647.7L777.00 1630.4L777.25 1641.9L777.50 1646.0L777.75 1633.6L778.00 1629.1L778.25 1620.1L778.50 1613.5L778.75 1616.7L779.00 1644.6L779.25 1628.2L779.50 1632.9L779.75 1626.6L780.00 1620.7L780.25 1623.0L780.50 1624.9L780.75 1619.6L781.00 1623.9L781.25 1621.2L781.50 1613.9L781.75 1620.6L782.00 1607.9L782.25 1606.1L782.50 1630.1L782.75 1623.3L783.00 1627.2L783.25 1611.6L783.50 1631.6L783.75 1625.2L784.00 1627.8L784.25 1633.7L784.50 1635.3L784.75 1630.5L785.00 1610.3L785.25 1620.5L785.50 1605.4L785.75 1601.7L786.00 1597.3L786.25 1600.3L786.50 1609.1L786.75 1612.3L787.00 1627.0L787.25 1601.9L787.50 1605.9L787.75 1614.0L788.00 1611.5L788.25 1590.8L788.50 1596.3L788.75 1615.7L789.00 1624.2L789.25 1627.0L789.50 1620.4L789.75 1613.3L790.00 1593.5L790.25 1607.0L790.50 1585.7L790.75 1615.4L791.00 1598.0L791.25 1606.3L791.50 1581.5L791.75 1591.5L792.00 1595.2L792.25 1595.2L792.50 1611.2L792.75 1594.8L793.00 1592.7L793.25 1608.9L793.50 1603.0L793.75 1559.0L794.00 1572.7L794.25 1590.9L794.50 1577.7L794.75 1585.5L795.00 1568.1L795.25 1582.6L795.50 1570.3L795.75 1579.6L796.00 1574.8L796.25 1575.4L796.50 1587.0L796.75 1572.9L797.00 1576.8L797.25 1580.8L797.50 1578.2L797.75 1588.9L798.00 1597.4L798.25 1606.0L798.50 1603.4L798.75 1583.4L799.00 1581.1L799.25 1583.1L799.50 1579.0L799.75 1591.5L800.00 1593.3L800.25 1598.8L800.50 1589.7L800.75 1589.4L801.00 1585.5L801.25 1598.9L801.50 1618.9L801.75 1620.2L802.00 1601.4L802.25 1614.0L802.50 1610.3L802.75 1597.6L803.00 1591.9L803.25 1599.0L803.50 1594.9L803.75 1613.4L804.00 1601.7L804.25 1616.3L804.50 1641.1L804.75 1629.9L805.00 1632.2L805.25 1635.5L805.50 1619.5L805.75 1615.2L806.00 1612.8L806.25 1617.9L806.50 1615.4L806.75 1633.1L807.00 1639.5" stroke="#000" stroke-width="1.0" fill="none" stroke-linejoin="bevel"/>
<path d="M312.5 1964.1V1829M320.5 2031.7V1964.1M320.5 1896.6V1829M322.5 2031.7V1964.1M324.5 1964.1V1896.6M327.5 2031.7V1964.1M331.5 1964.1V1896.6M332.5 2031.7V1896.6M336.5 2031.7V1964.1M342.5 2031.7V1964.1M344.5 2031.7V1964.1M352.5 2031.7V1896.6M353.5 2031.7V1964.1M356.5 2031.7V1964.1M357.5 1964.1V1896.6M361.5 1964.1V1896.6M367.5 2031.7V1896.6M369.5 2031.7V1964.1M370.5 2031.7V1896.6M373.5 1964.1V1896.6M374.5 2031.7V1964.1M379.5 2031.7V1964.1M387.5 1964.1V1896.6M392.5 1964.1V1896.6M393.5 2031.7V1964.1M395.5 1896.6V1829M401.5 1964.1V1896.6M405.5 2031.7V1964.1M406.5 1964.1V1896.6M407.5 1896.6V1829M409.5 1896.6V1829M410.5 2031.7V1964.1M411.5 1896.6V1829M412.5 1896.6V1829M413.5 1896.6V1829M414.5 1896.6V1829M415.5 2031.7V1829M417.5 1964.1V1896.6M418.5 2031.7V1964.1M421.5 1896.6V1829M422.5 2031.7V1896.6M423.5 1964.1V1896.6M424.5 2031.7V1964.1M425.5 2031.7V1964.1M425.5 1896.6V1829M427.5 2031.7V1964.1M427.5 1896.6V1829M429.5 1896.6V1829M430.5 1964.1V1896.6M434.5 2031.7V1964.1M435.5 1896.6V1761.5M436.5 1829V1761.5M437.5 1964.1V1896.6M438.5 1829V1761.5M440.5 1964.1V1896.6M442.5 1964.1V1896.6M443.5 1964.1V1896.6M445.5 1896.6V1829M446.5 1829V1761.5M450.5 1964.1V1896.6M451.5 2031.7V1964.1M455.5 2031.7V1964.1M456.5 1964.1V1896.6M458.5 2031.7V1964.1M459.5 1964.1V1896.6M460.5 1964.1V1896.6M461.5 1964.1V1896.6M463.5 1896.6V1829M466.5 2031.7V1964.1M466.5 1896.6V1829M469.5 1896.6V1829M472.5 1896.6V1829M473.5 1964.1V1896.6M475.5 2031.7V1964.1M479.5 2031.7V1964.1M481.5 2031.7V1964.1M482.5 1896.6V1829M486.5 1964.1V1896.6M490.5 2031.7V1964.1M494.5 2031.7V1896.6M498.5 1896.6V1829M499.5 2031.7V1896.6M501.5 1964.1V1896.6M502.5 1964.1V1896.6M505.5 1964.1V1829M507.5 1964.1V1896.6M509.5 1964.1V1829M510.5 2031.7V1964.1M511.5 2031.7V1964.1M512.5 1896.6V1829M513.5 1896.6V1761.5M515.5 1964.1V1896.6M517.5 1829V1761.5M518.5 1964.1V1829M523.5 1964.1V1896.6M527.5 1964.1V1896.6M529.5 1896.6V1829M530.5 1964.1V1896.6M532.5 1896.6V1829M539.5 1964.1V1896.6M541.5 2031.7V1964.1M545.5 2031.7V1964.1M547.5 2031.7V1964.1M549.5 1896.6V1829M550.5 2031.7V1964.1M551.5 1829V1761.5M552.5 1829V1761.5M553.5 1964.1V1896.6M555.5 1896.6V1829M556.5 1896.6V1829M557.5 2031.7V1964.1M558.5 1896.6V1829M559.5 1964.1V1829M561.5 1964.1V1829M568.5 2031.7V1896.6M570.5 1964.1V1896.6M571.5 2031.7V1964.1M571.5 1896.6V1829M574.5 2031.7V1964.1M575.5 1964.1V1896.6M583.5 2031.7V1964.1M584.5 2031.7V1964.1M587.5 1896.6V1829M589.5 1964.1V1896.6M590.5 1964.1V1896.6M590.5 1829V1761.5M591.5 1964.1V1896.6M592.5 1964.1V1896.6M594.5 1896.6V1829M595.5 1896.6V1829M597.5 2031.7V1964.1M604.5 1896.6V1829M605.5 2031.7V1896.6M606.5 1964.1V1896.6M607.5 1964.1V1896.6M607.5 1829V1761.5M611.5 1896.6V1829M614.5 2031.7V1964.1M615.5 2031.7V1964.1M615.5 1896.6V1829M617.5 1896.6V1761.5M618.5 2031.7V1964.1M619.5 2031.7V1964.1M619.5 1829V1761.5M620.5 1829V1761.5M621.5 1829V1761.5M623.5 2031.7V1964.1M627.5 1964.1V1896.6M628.5 1964.1V1896.6M630.5 1896.6V1829M632.5 2031.7V1964.1M633.5 2031.7V1964.1M633.5 1896.6V1829M636.5 1896.6V1829M637.5 2031.7V1964.1M645.5 1964.1V1896.6M646.5 2031.7V1964.1M647.5 1964.1V1829M648.5 1964.1V1829M649.5 1964.1V1829M650.5 1896.6V1829M654.5 1829V1761.5M655.5 2031.7V1964.1M657.5 1829V1761.5M658.5 2031.7V1964.1M660.5 1896.6V1829M663.5 1964.1V1896.6M664.5 1896.6V1829M665.5 1829V1761.5M666.5 1896.6V1829M666.5 1761.5V1693.9M667.5 1964.1V1896.6M667.5 1761.5V1693.9M668.5 1896.6V1829M669.5 1761.5V1693.9M672.5 1964.1V1829M672.5 1693.9V1626.3M673.5 1693.9V1626.3M674.5 1964.1V1896.6M674.5 1761.5V1626.3M675.5 1761.5V1693.9M676.5 1693.9V1626.3M677.5 1964.1V1896.6M677.5 1761.5V1693.9M678.5 1829V1761.5M678.5 1693.9V1626.3M679.5 1964.1V1896.6M680.5 1761.5V1693.9M681.5 1896.6V1829M681.5 1761.5V1693.9M682.5 1761.5V1693.9M682.5 1626.3V1558.8M683.5 1761.5V1693.9M684.5 1829V1761.5M685.5 1896.6V1829M686.5 1896.6V1829M688.5 1964.1V1896.6M688.5 1693.9V1626.3M689.5 1964.1V1896.6M689.5 1761.5V1693.9M690.5 1964.1V1829M690.5 1761.5V1693.9M691.5 1693.9V1626.3M695.5 1829V1761.5M696.5 1761.5V1626.3M697.5 1829V1761.5M698.5 1896.6V1829M698.5 1761.5V1693.9M699.5 1829V1761.5M699.5 1693.9V1626.3M701.5 1964.1V1896.6M702.5 1693.9V1626.3M703.5 1964.1V1896.6M703.5 1693.9V1626.3M704.5 1761.5V1693.9M706.5 1693.9V1626.3M708.5 1896.6V1829M708.5 1761.5V1693.9M708.5 1626.3V1558.8M709.5 1964.1V1896.6M709.5 1761.5V1693.9M711.5 1964.1V1896.6M711.5 1829V1761.5M711.5 1626.3V1558.8M712.5 1964.1V1896.6M713.5 1761.5V1626.3M714.5 1964.1V1896.6M715.5 1761.5V1693.9M716.5 1829V1761.5M717.5 1896.6V1829M717.5 1761.5V1693.9M718.5 1896.6V1761.5M720.5 1693.9V1626.3M721.5 1964.1V1896.6M722.5 1829V1693.9M723.5 1964.1V1896.6M725.5 1964.1V1896.6M725.5 1761.5V1693.9M731.5 1761.5V1693.9M732.5 1896.6V1829M734.5 1964.1V1829M736.5 2031.7V1896.6M737.5 1964.1V1829M738.5 2031.7V1964.1M740.5 2031.7V1964.1M741.5 1896.6V1829M743.5 1829V1761.5M744.5 1964.1V1829M745.5 1896.6V1761.5M746.5 1964.1V1896.6M746.5 1829V1761.5M748.5 1964.1V1896.6M749.5 1896.6V1829M750.5 1896.6V1761.5M753.5 2031.7V1964.1M753.5 1829V1761.5M754.5 1964.1V1896.6M755.5 1964.1V1896.6M756.5 2031.7V1964.1M758.5 1829V1761.5M759.5 1964.1V1896.6M763.5 1964.1V1896.6M766.5 1896.6V1829M767.5 1829V1761.5M768.5 1829V1761.5M772.5 1829V1761.5M774.5 2031.7V1896.6M775.5 1964.1V1829M778.5 2031.7V1964.1M779.5 1829V1761.5M785.5 2031.7V1964.1M786.5 1964.1V1896.6M789.5 2031.7V1964.1M789.5 1896.6V1761.5M790.5 1896.6V1761.5M791.5 2031.7V1964.1M793.5 1964.1V1896.6M793.5 1761.5V1693.9M794.5 1896.6V1829M794.5 1761.5V1693.9M796.5 1896.6V1829M797.5 1829V1761.5M798.5 1896.6V1829M799.5 1896.6V1829M800.5 1964.1V1896.6M802.5 1964.1V1896.6M807.5 2031.7V1964.1" stroke="#ff00ff" stroke-opacity="0.45" stroke-width="1" fill="none"/><path d="M313.5 1964.1V1829M314.5 2031.7V1964.1M314.5 1896.6V1829M315.5 2031.7V1829M316.5 1964.1V1829M317.5 2031.7V1761.5M318.5 1896.6V1829M319.5 1964.1V1896.6M320.5 1964.1V1896.6M321.5 1964.1V1829M322.5 1964.1V1896.6M323.5 2031.7V1964.1M324.5 2031.7V1964.1M325.5 1964.1V1896.6M326.5 2031.7V1896.6M327.5 1964.1V1896.6M328.5 2031.7V1964.1M329.5 2031.7V1964.1M330.5 2031.7V1964.1M333.5 1964.1V1896.6M334.5 2031.7V1896.6M335.5 2031.7V1896.6M337.5 2031.7V1896.6M338.5 2031.7V1896.6M339.5 2031.7V1964.1M340.5 2031.7V1964.1M341.5 2031.7V1896.6M342.5 1964.1V1896.6M343.5 1964.1V1896.6M344.5 1964.1V1896.6M345.5 2031.7V1896.6M346.5 1964.1V1896.6M347.5 1964.1V1896.6M348.5 2031.7V1896.6M349.5 2031.7V1896.6M350.5 2031.7V1896.6M351.5 2031.7V1964.1M354.5 2031.7V1964.1M355.5 1964.1V1896.6M356.5 1964.1V1896.6M357.5 2031.7V1964.1M358.5 2031.7V1896.6M359.5 1964.1V1896.6M360.5 2031.7V1896.6M361.5 2031.7V1964.1M363.5 1964.1V1896.6M365.5 2031.7V1964.1M366.5 2031.7V1964.1M368.5 2031.7V1896.6M369.5 1964.1V1896.6M371.5 2031.7V1964.1M372.5 2031.7V1964.1M373.5 2031.7V1964.1M374.5 1964.1V1829M375.5 2031.7V1964.1M376.5 2031.7V1896.6M378.5 2031.7V1964.1M381.5 2031.7V1964.1M382.5 2031.7V1964.1M383.5 1964.1V1896.6M384.5 2031.7V1896.6M385.5 2031.7V1964.1M387.5 2031.7V1964.1M388.5 2031.7V1964.1M389.5 2031.7V1964.1M390.5 2031.7V1964.1M391.5 1964.1V1896.6M393.5 1964.1V1896.6M394.5 2031.7V1896.6M395.5 2031.7V1896.6M396.5 2031.7V1829M397.5 2031.7V1896.6M398.5 2031.7V1829M399.5 2031.7V1964.1M399.5 1896.6V1829M400.5 2031.7V1761.5M401.5 2031.7V1964.1M402.5 2031.7V1829M403.5 2031.7V1896.6M404.5 2031.7V1829M405.5 1964.1V1829M406.5 2031.7V1964.1M407.5 2031.7V1896.6M408.5 2031.7V1829M409.5 2031.7V1896.6M410.5 1964.1V1829M411.5 2031.7V1896.6M412.5 2031.7V1896.6M413.5 2031.7V1896.6M414.5 1964.1V1896.6M416.5 2031.7V1829M417.5 1896.6V1829M418.5 1964.1V1829M419.5 2031.7V1829M420.5 1964.1V1896.6M421.5 1964.1V1896.6M422.5 1896.6V1829M423.5 1896.6V1829M424.5 1964.1V1896.6M424.5 1829V1693.9M425.5 1964.1V1896.6M425.5 1829V1761.5M426.5 2031.7V1896.6M427.5 1964.1V1896.6M427.5 1829V1761.5M428.5 2031.7V1829M429.5 2031.7V1964.1M429.5 1829V1761.5M430.5 2031.7V1964.1M431.5 2031.7V1829M432.5 2031.7V1964.1M432.5 1896.6V1829M433.5 2031.7V1896.6M434.5 1896.6V1829M435.5 1964.1V1896.6M436.5 1964.1V1829M437.5 1896.6V1829M438.5 1964.1V1829M439.5 2031.7V1829M440.5 2031.7V1964.1M440.5 1896.6V1829M441.5 2031.7V1964.1M441.5 1896.6V1829M441.5 1761.5V1693.9M442.5 1896.6V1761.5M443.5 1896.6V1829M444.5 1964.1V1829M445.5 2031.7V1896.6M446.5 2031.7V1829M447.5 2031.7V1896.6M448.5 1964.1V1829M449.5 2031.7V1829M450.5 2031.7V1964.1M450.5 1896.6V1761.5M451.5 1964.1V1829M452.5 1964.1V1829M453.5 1964.1V1829M454.5 1896.6V1829M455.5 1964.1V1896.6M456.5 2031.7V1964.1M456.5 1896.6V1829M457.5 2031.7V1964.1M457.5 1896.6V1829M458.5 1964.1V1829M459.5 1896.6V1829M460.5 1896.6V1829M461.5 1896.6V1829M462.5 1964.1V1829M463.5 1964.1V1896.6M464.5 1964.1V1829M465.5 1964.1V1829M466.5 1964.1V1896.6M467.5 2031.7V1829M468.5 1896.6V1829M469.5 2031.7V1896.6M470.5 1964.1V1829M471.5 2031.7V1761.5M472.5 2031.7V1896.6M473.5 2031.7V1964.1M473.5 1896.6V1829M474.5 2031.7V1829M475.5 1964.1V1829M476.5 2031.7V1964.1M476.5 1896.6V1829M477.5 2031.7V1829M478.5 1964.1V1829M479.5 1964.1V1829M480.5 1964.1V1829M481.5 1964.1V1829M482.5 2031.7V1896.6M483.5 2031.7V1829M484.5 2031.7V1896.6M485.5 1964.1V1829M486.5 1896.6V1829M487.5 2031.7V1829M488.5 1964.1V1761.5M489.5 1964.1V1829M490.5 1964.1V1829M491.5 2031.7V1829M492.5 2031.7V1829M493.5 1964.1V1829M494.5 1896.6V1829M495.5 1964.1V1896.6M496.5 1964.1V1829M497.5 2031.7V1829M498.5 2031.7V1896.6M499.5 1896.6V1761.5M500.5 1964.1V1626.3M501.5 1829V1761.5M502.5 1896.6V1761.5M503.5 1964.1V1761.5M504.5 1964.1V1896.6M504.5 1829V1761.5M506.5 1964.1V1761.5M508.5 1964.1V1829M510.5 1964.1V1829M511.5 1964.1V1896.6M512.5 1964.1V1896.6M513.5 2031.7V1896.6M514.5 2031.7V1829M515.5 1896.6V1761.5M516.5 1964.1V1761.5M517.5 1964.1V1896.6M519.5 1964.1V1829M520.5 2031.7V1896.6M521.5 1964.1V1896.6M522.5 2031.7V1829M523.5 1896.6V1829M524.5 2031.7V1896.6M525.5 2031.7V1829M526.5 1964.1V1829M527.5 2031.7V1964.1M527.5 1896.6V1829M528.5 1964.1V1896.6M529.5 2031.7V1964.1M530.5 2031.7V1964.1M530.5 1896.6V1829M531.5 2031.7V1896.6M531.5 1829V1761.5M532.5 2031.7V1896.6M534.5 1964.1V1829M535.5 2031.7V1896.6M536.5 2031.7V1896.6M537.5 2031.7V1896.6M538.5 2031.7V1896.6M539.5 2031.7V1964.1M540.5 1964.1V1896.6M541.5 1964.1V1896.6M542.5 1964.1V1829M543.5 1896.6V1829M544.5 1964.1V1829M545.5 1964.1V1829M547.5 1964.1V1896.6M548.5 2031.7V1829M549.5 2031.7V1896.6M550.5 1964.1V1829M551.5 2031.7V1829M552.5 2031.7V1829M553.5 2031.7V1964.1M553.5 1896.6V1829M554.5 1896.6V1829M555.5 1964.1V1896.6M556.5 2031.7V1896.6M557.5 1964.1V1896.6M558.5 2031.7V1896.6M559.5 2031.7V1964.1M560.5 1964.1V1829M562.5 1964.1V1829M563.5 2031.7V1829M564.5 1964.1V1829M565.5 1964.1V1829M566.5 1964.1V1829M567.5 2031.7V1896.6M568.5 1896.6V1829M569.5 1964.1V1896.6M570.5 1896.6V1829M571.5 1964.1V1896.6M572.5 1964.1V1829M573.5 1964.1V1829M574.5 1964.1V1829M575.5 2031.7V1964.1M575.5 1896.6V1829M576.5 2031.7V1829M577.5 2031.7V1896.6M578.5 2031.7V1964.1M579.5 1964.1V1896.6M580.5 1964.1V1896.6M581.5 1964.1V1896.6M582.5 2031.7V1896.6M583.5 1964.1V1896.6M584.5 1964.1V1896.6M585.5 2031.7V1829M586.5 1896.6V1829M587.5 1964.1V1896.6M588.5 1964.1V1896.6M589.5 2031.7V1964.1M589.5 1896.6V1829M590.5 2031.7V1964.1M590.5 1896.6V1829M591.5 2031.7V1964.1M591.5 1896.6V1829M592.5 2031.7V1964.1M593.5 2031.7V1896.6M593.5 1829V1761.5M594.5 2031.7V1896.6M596.5 1964.1V1829M597.5 1964.1V1829M598.5 1964.1V1829M599.5 1964.1V1896.6M600.5 1964.1V1896.6M601.5 2031.7V1896.6M602.5 1964.1V1896.6M603.5 1964.1V1829M604.5 2031.7V1896.6M605.5 1896.6V1829M606.5 1896.6V1829M608.5 1964.1V1829M609.5 2031.7V1829M610.5 2031.7V1964.1M610.5 1896.6V1829M611.5 2031.7V1896.6M612.5 1964.1V1829M613.5 1964.1V1829M614.5 1964.1V1896.6M615.5 1964.1V1896.6M616.5 2031.7V1829M617.5 2031.7V1964.1M618.5 1964.1V1896.6M618.5 1829V1761.5M619.5 1896.6V1829M620.5 1964.1V1829M621.5 1964.1V1829M622.5 2031.7V1896.6M623.5 1964.1V1896.6M624.5 2031.7V1964.1M624.5 1896.6V1829M625.5 2031.7V1829M626.5 2031.7V1829M627.5 1896.6V1829M628.5 1896.6V1829M629.5 2031.7V1829M630.5 1964.1V1896.6M630.5 1829V1761.5M631.5 1964.1V1829M632.5 1964.1V1896.6M633.5 1964.1V1896.6M634.5 1964.1V1896.6M635.5 1964.1V1896.6M636.5 1964.1V1896.6M637.5 1964.1V1829M638.5 2031.7V1829M639.5 1964.1V1896.6M640.5 1896.6V1829M641.5 2031.7V1829M642.5 2031.7V1829M643.5 2031.7V1829M644.5 1964.1V1829M645.5 1896.6V1829M646.5 1964.1V1896.6M646.5 1829V1761.5M650.5 1964.1V1896.6M650.5 1829V1761.5M651.5 1964.1V1896.6M652.5 2031.7V1829M653.5 2031.7V1761.5M654.5 1896.6V1829M655.5 1896.6V1829M656.5 2031.7V1896.6M657.5 2031.7V1829M658.5 1896.6V1761.5M661.5 1964.1V1896.6M662.5 1964.1V1896.6M663.5 1896.6V1761.5M664.5 1964.1V1896.6M664.5 1829V1761.5M665.5 1896.6V1829M665.5 1761.5V1626.3M666.5 1829V1761.5M667.5 1896.6V1761.5M667.5 1693.9V1626.3M668.5 1964.1V1896.6M668.5 1829V1626.3M669.5 1964.1V1829M670.5 1964.1V1693.9M671.5 1964.1V1693.9M672.5 1829V1693.9M673.5 1896.6V1693.9M674.5 1829V1761.5M675.5 1964.1V1761.5M676.5 1829V1693.9M677.5 1896.6V1761.5M677.5 1693.9V1626.3M679.5 1896.6V1693.9M680.5 1964.1V1761.5M681.5 1964.1V1896.6M681.5 1829V1761.5M682.5 1964.1V1761.5M683.5 1964.1V1761.5M683.5 1626.3V1558.8M684.5 1896.6V1829M684.5 1761.5V1693.9M685.5 1964.1V1896.6M685.5 1829V1693.9M686.5 1964.1V1896.6M686.5 1829V1693.9M687.5 1896.6V1626.3M688.5 1896.6V1693.9M689.5 1829V1761.5M689.5 1693.9V1626.3M690.5 1829V1761.5M690.5 1693.9V1626.3M691.5 1964.1V1896.6M691.5 1829V1693.9M692.5 1964.1V1829M692.5 1761.5V1693.9M693.5 1964.1V1626.3M694.5 1896.6V1626.3M695.5 1964.1V1829M695.5 1761.5V1626.3M696.5 1896.6V1761.5M697.5 1761.5V1693.9M698.5 1829V1761.5M699.5 1896.6V1829M699.5 1761.5V1693.9M700.5 1896.6V1626.3M701.5 1896.6V1626.3M702.5 1964.1V1761.5M703.5 1896.6V1693.9M704.5 1964.1V1761.5M705.5 1896.6V1829M705.5 1761.5V1626.3M706.5 1829V1693.9M707.5 1896.6V1829M707.5 1761.5V1626.3M708.5 1829V1761.5M708.5 1693.9V1626.3M709.5 1896.6V1761.5M710.5 1896.6V1693.9M710.5 1626.3V1558.8M711.5 1693.9V1626.3M712.5 1896.6V1626.3M713.5 1896.6V1829M714.5 1896.6V1693.9M714.5 1626.3V1558.8M715.5 1964.1V1761.5M716.5 1964.1V1829M717.5 1964.1V1896.6M717.5 1829V1761.5M718.5 1964.1V1896.6M718.5 1761.5V1693.9M719.5 1896.6V1693.9M720.5 1896.6V1829M720.5 1761.5V1693.9M721.5 1896.6V1693.9M722.5 1896.6V1829M723.5 1896.6V1693.9M724.5 1896.6V1829M724.5 1761.5V1693.9M725.5 1896.6V1761.5M726.5 1896.6V1693.9M727.5 1964.1V1829M727.5 1761.5V1626.3M728.5 1896.6V1558.8M729.5 1896.6V1626.3M730.5 1896.6V1626.3M731.5 1896.6V1761.5M732.5 1829V1693.9M733.5 1896.6V1829M734.5 1829V1761.5M735.5 2031.7V1761.5M737.5 2031.7V1964.1M737.5 1829V1761.5M738.5 1964.1V1693.9M739.5 1964.1V1896.6M739.5 1829V1761.5M740.5 1964.1V1761.5M741.5 1964.1V1896.6M742.5 1964.1V1829M743.5 1964.1V1829M744.5 2031.7V1964.1M745.5 1964.1V1896.6M746.5 1896.6V1829M746.5 1761.5V1693.9M747.5 2031.7V1761.5M748.5 1896.6V1761.5M749.5 1964.1V1896.6M749.5 1829V1761.5M750.5 2031.7V1896.6M751.5 2031.7V1761.5M752.5 1964.1V1761.5M753.5 1964.1V1896.6M754.5 1896.6V1829M755.5 1896.6V1829M756.5 1964.1V1761.5M757.5 2031.7V1829M758.5 2031.7V1829M759.5 2031.7V1964.1M759.5 1896.6V1829M760.5 2031.7V1829M761.5 2031.7V1964.1M761.5 1896.6V1829M762.5 2031.7V1829M763.5 2031.7V1964.1M764.5 1964.1V1761.5M765.5 1964.1V1761.5M766.5 2031.7V1896.6M766.5 1829V1761.5M767.5 2031.7V1829M768.5 2031.7V1964.1M768.5 1896.6V1829M769.5 1964.1V1829M770.5 2031.7V1693.9M771.5 2031.7V1761.5M772.5 2031.7V1829M773.5 2031.7V1829M774.5 1896.6V1829M775.5 2031.7V1964.1M776.5 1964.1V1829M777.5 2031.7V1829M778.5 1964.1V1829M779.5 2031.7V1829M780.5 2031.7V1829M781.5 1964.1V1761.5M782.5 2031.7V1761.5M783.5 1964.1V1761.5M784.5 1964.1V1896.6M785.5 1964.1V1829M786.5 1896.6V1829M787.5 1964.1V1896.6M787.5 1829V1761.5M788.5 2031.7V1761.5M789.5 1964.1V1896.6M790.5 2031.7V1896.6M791.5 1964.1V1761.5M792.5 1964.1V1693.9M793.5 2031.7V1964.1M793.5 1896.6V1761.5M794.5 2031.7V1896.6M794.5 1829V1761.5M795.5 2031.7V1761.5M796.5 2031.7V1896.6M796.5 1829V1761.5M797.5 2031.7V1896.6M798.5 1964.1V1896.6M799.5 1964.1V1896.6M800.5 1896.6V1829M801.5 2031.7V1829M802.5 1896.6V1829M803.5 1964.1V1896.6M804.5 1896.6V1829M805.5 1964.1V1896.6M806.5 2031.7V1964.1M806.5 1896.6V1761.5M807.5 1964.1V1829" stroke="#ff00ff" stroke-width="1" fill="none"/>
<path d="M187.5 1491.25V2105.75" stroke="#222" stroke-width="2.2" fill="none"/><path d="M181.0 2099.25H931" stroke="#222" stroke-width="2.2" fill="none"/><path d="M176.0 2044H187.5M181.5 1988.7H187.5M176.0 1933.5H187.5M181.5 1878.2H187.5M176.0 1822.9H187.5M181.5 1767.7H187.5M176.0 1712.4H187.5M181.5 1657.1H187.5M176.0 1601.8H187.5M181.5 1546.6H187.5M176.0 1491.3H187.5" stroke="#222" stroke-width="2.2" fill="none"/><path d="M311.5 2099.25V2110.75M559.2 2099.25V2110.75M807 2099.25V2110.75M435.4 2099.25V2105.25M683.1 2099.25V2105.25M930.9 2099.25V2105.25" stroke="#222" stroke-width="2.2" fill="none"/><path d="M924.6 1491.25V2100.25M924.6 2031.7H936.1M924.6 1896.6H936.1M924.6 1761.5H936.1M924.6 1626.3H936.1M924.6 1491.2H936.1M924.6 1964.1H930.6M924.6 1829H930.6M924.6 1693.9H930.6M924.6 1558.8H930.6" stroke="#0b807d" stroke-width="2.2" fill="none"/>
<text x="0" y="0" font-size="22" text-anchor="end" fill="#111" font-family='"Liberation Sans", sans-serif' font-weight="normal" transform="translate(169 2049.4) scale(1.03 1)">0.0</text>
<text x="0" y="0" font-size="22" text-anchor="end" fill="#111" font-family='"Liberation Sans", sans-serif' font-weight="normal" transform="translate(169 1938.9) scale(1.03 1)">0.2</text>
<text x="0" y="0" font-size="22" text-anchor="end" fill="#111" font-family='"Liberation Sans", sans-serif' font-weight="normal" transform="translate(169 1828.3) scale(1.03 1)">0.4</text>
<text x="0" y="0" font-size="22" text-anchor="end" fill="#111" font-family='"Liberation Sans", sans-serif' font-weight="normal" transform="translate(169 1717.8) scale(1.03 1)">0.6</text>
<text x="0" y="0" font-size="22" text-anchor="end" fill="#111" font-family='"Liberation Sans", sans-serif' font-weight="normal" transform="translate(169 1607.2) scale(1.03 1)">0.8</text>
<text x="0" y="0" font-size="22" text-anchor="end" fill="#111" font-family='"Liberation Sans", sans-serif' font-weight="normal" transform="translate(169 1496.7) scale(1.03 1)">1.0</text>
<text x="0" y="0" font-size="22" text-anchor="start" fill="#108a86" font-family='"Liberation Sans", sans-serif' font-weight="normal" transform="translate(942.2 2037.4) scale(1.05 1)">0</text>
<text x="0" y="0" font-size="22" text-anchor="start" fill="#108a86" font-family='"Liberation Sans", sans-serif' font-weight="normal" transform="translate(942.2 1902.3) scale(1.05 1)">2</text>
<text x="0" y="0" font-size="22" text-anchor="start" fill="#108a86" font-family='"Liberation Sans", sans-serif' font-weight="normal" transform="translate(942.2 1767.2) scale(1.05 1)">4</text>
<text x="0" y="0" font-size="22" text-anchor="start" fill="#108a86" font-family='"Liberation Sans", sans-serif' font-weight="normal" transform="translate(942.2 1632) scale(1.05 1)">6</text>
<text x="0" y="0" font-size="22" text-anchor="start" fill="#108a86" font-family='"Liberation Sans", sans-serif' font-weight="normal" transform="translate(942.2 1496.9) scale(1.05 1)">8</text>
<text x="0" y="0" font-size="22" text-anchor="middle" fill="#111" font-family='"Liberation Sans", sans-serif' font-weight="normal" transform="translate(311.5 2134.8) scale(1.05 1)">0</text>
<text x="0" y="0" font-size="22" text-anchor="middle" fill="#111" font-family='"Liberation Sans", sans-serif' font-weight="normal" transform="translate(559.2 2134.8) scale(1.05 1)">5000</text>
<text x="0" y="0" font-size="22" text-anchor="middle" fill="#111" font-family='"Liberation Sans", sans-serif' font-weight="normal" transform="translate(807 2134.8) scale(1.05 1)">10000</text>
<text x="0" y="0" font-size="27.8" text-anchor="middle" fill="#111" font-family='"Liberation Sans", sans-serif' font-weight="normal" transform="translate(560 2179.6) scale(1.02 1)">Time (ps)</text>
<text x="0" y="0" font-size="28" text-anchor="middle" fill="#111" font-family='"Liberation Sans", sans-serif' font-weight="normal" transform="translate(118.1 1810.4) rotate(-90) scale(0.99 1)">RMSD (nm)</text>
<text x="0" y="0" font-size="27.5" text-anchor="middle" fill="#111" font-family='"Liberation Sans", sans-serif' font-weight="normal" transform="translate(1009.2 1809.8) rotate(-90) scale(1.0 1)">No. of H-Bonds</text>
<text x="11" y="1508" font-size="31" font-family='"Liberation Serif", serif' fill="#111">(<tspan font-weight="bold">c</tspan>)</text>
<rect x="508.7" y="2035.5" width="408.3" height="55.0" fill="#fff" stroke="#8a8a8a" stroke-width="1.3"/>
<path d="M536 2049H583" stroke="#6a6a6a" stroke-width="1.2"/>
<path d="M536 2075.5H583" stroke="#9a8ad8" stroke-width="1.2"/>
<text x="0" y="0" font-size="19.5" text-anchor="start" fill="#111" font-family='"Liberation Sans", sans-serif' font-weight="normal" transform="translate(591 2056) scale(1.105 1)">RMSD (E= 0.002 V/nm)</text>
<text x="0" y="0" font-size="19.5" text-anchor="start" fill="#111" font-family='"Liberation Sans", sans-serif' font-weight="normal" transform="translate(591 2082.5) scale(1.105 1)">No. of H-Bond (E= 0.002 V/nm)</text>
</svg></body></html>
